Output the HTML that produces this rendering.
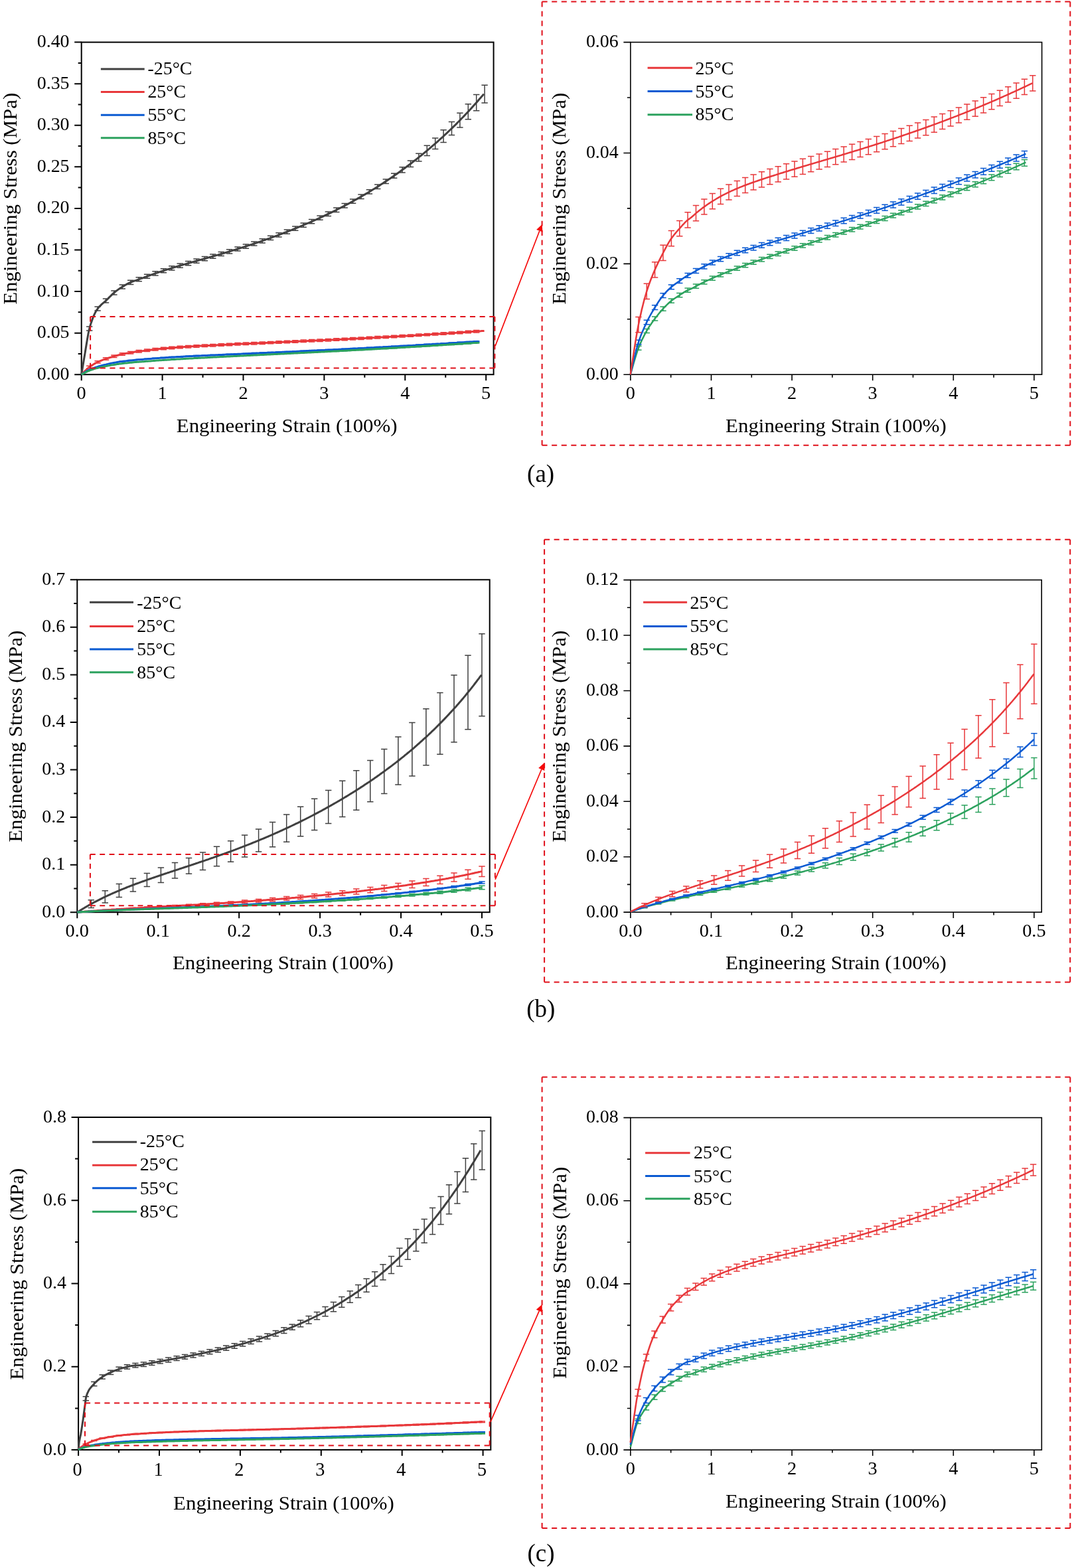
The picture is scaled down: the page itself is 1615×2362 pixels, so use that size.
<!DOCTYPE html><html><head><meta charset="utf-8"><title>Engineering stress-strain curves</title><style>html,body{margin:0;padding:0;background:#fff;width:1615px;height:2362px;overflow:hidden}</style></head><body><svg width="1615" height="2362" viewBox="0 0 1615 2362" style="display:block;font-family:'Liberation Serif','Times New Roman',serif"><rect width="1615" height="2362" fill="#fff"/><path d="M112.20,564.20H122.70M112.20,501.63H122.70M112.20,439.05H122.70M112.20,376.48H122.70M112.20,313.90H122.70M112.20,251.33H122.70M112.20,188.75H122.70M112.20,126.18H122.70M112.20,63.60H122.70M117.70,532.91H122.70M117.70,470.34H122.70M117.70,407.76H122.70M117.70,345.19H122.70M117.70,282.61H122.70M117.70,220.04H122.70M117.70,157.46H122.70M117.70,94.89H122.70M122.70,564.20V573.20M244.60,564.20V573.20M366.50,564.20V573.20M488.40,564.20V573.20M610.30,564.20V573.20M732.20,564.20V573.20M183.65,564.20V568.70M305.55,564.20V568.70M427.45,564.20V568.70M549.35,564.20V568.70M671.25,564.20V568.70" fill="none" stroke="#000" stroke-width="2.0"/>
<rect x="122.70" y="63.60" width="620.90" height="500.60" fill="none" stroke="#000" stroke-width="2.0"/>
<g><text transform="translate(104.60,571.70) scale(1.035,1)" text-anchor="end" font-size="27">0.00</text><text transform="translate(104.60,509.13) scale(1.035,1)" text-anchor="end" font-size="27">0.05</text><text transform="translate(104.60,446.55) scale(1.035,1)" text-anchor="end" font-size="27">0.10</text><text transform="translate(104.60,383.98) scale(1.035,1)" text-anchor="end" font-size="27">0.15</text><text transform="translate(104.60,321.40) scale(1.035,1)" text-anchor="end" font-size="27">0.20</text><text transform="translate(104.60,258.83) scale(1.035,1)" text-anchor="end" font-size="27">0.25</text><text transform="translate(104.60,196.25) scale(1.035,1)" text-anchor="end" font-size="27">0.30</text><text transform="translate(104.60,133.68) scale(1.035,1)" text-anchor="end" font-size="27">0.35</text><text transform="translate(104.60,71.10) scale(1.035,1)" text-anchor="end" font-size="27">0.40</text><text transform="translate(122.70,600.70) scale(1.05,1)" text-anchor="middle" font-size="27">0</text><text transform="translate(244.60,600.70) scale(1.05,1)" text-anchor="middle" font-size="27">1</text><text transform="translate(366.50,600.70) scale(1.05,1)" text-anchor="middle" font-size="27">2</text><text transform="translate(488.40,600.70) scale(1.05,1)" text-anchor="middle" font-size="27">3</text><text transform="translate(610.30,600.70) scale(1.05,1)" text-anchor="middle" font-size="27">4</text><text transform="translate(732.20,600.70) scale(1.05,1)" text-anchor="middle" font-size="27">5</text><text transform="translate(265.80,650.70) scale(1.03,1)" font-size="30">Engineering Strain (100%)</text><text transform="translate(24.90,458.80) rotate(-90) scale(1.03,1)" font-size="30">Engineering Stress (MPa)</text></g>
<path d="M939.40,564.20H949.90M939.40,397.33H949.90M939.40,230.47H949.90M939.40,63.60H949.90M944.90,480.77H949.90M944.90,313.90H949.90M944.90,147.04H949.90M949.90,564.20V573.20M1071.50,564.20V573.20M1193.10,564.20V573.20M1314.70,564.20V573.20M1436.30,564.20V573.20M1557.90,564.20V573.20M1010.70,564.20V568.70M1132.30,564.20V568.70M1253.90,564.20V568.70M1375.50,564.20V568.70M1497.10,564.20V568.70" fill="none" stroke="#000" stroke-width="1.6"/>
<rect x="949.90" y="63.60" width="619.70" height="500.60" fill="none" stroke="#000" stroke-width="1.6"/>
<g><text transform="translate(931.80,571.70) scale(1.035,1)" text-anchor="end" font-size="27">0.00</text><text transform="translate(931.80,404.83) scale(1.035,1)" text-anchor="end" font-size="27">0.02</text><text transform="translate(931.80,237.97) scale(1.035,1)" text-anchor="end" font-size="27">0.04</text><text transform="translate(931.80,71.10) scale(1.035,1)" text-anchor="end" font-size="27">0.06</text><text transform="translate(949.90,600.70) scale(1.05,1)" text-anchor="middle" font-size="27">0</text><text transform="translate(1071.50,600.70) scale(1.05,1)" text-anchor="middle" font-size="27">1</text><text transform="translate(1193.10,600.70) scale(1.05,1)" text-anchor="middle" font-size="27">2</text><text transform="translate(1314.70,600.70) scale(1.05,1)" text-anchor="middle" font-size="27">3</text><text transform="translate(1436.30,600.70) scale(1.05,1)" text-anchor="middle" font-size="27">4</text><text transform="translate(1557.90,600.70) scale(1.05,1)" text-anchor="middle" font-size="27">5</text><text transform="translate(1093.10,650.50) scale(1.03,1)" font-size="30">Engineering Strain (100%)</text><text transform="translate(851.70,458.80) rotate(-90) scale(1.03,1)" font-size="30">Engineering Stress (MPa)</text></g>
<path d="M105.80,1374.20H116.30M105.80,1302.64H116.30M105.80,1231.08H116.30M105.80,1159.52H116.30M105.80,1087.96H116.30M105.80,1016.40H116.30M105.80,944.84H116.30M105.80,873.28H116.30M111.30,1338.42H116.30M111.30,1266.86H116.30M111.30,1195.30H116.30M111.30,1123.74H116.30M111.30,1052.18H116.30M111.30,980.62H116.30M111.30,909.06H116.30M116.30,1374.20V1383.20M238.24,1374.20V1383.20M360.18,1374.20V1383.20M482.12,1374.20V1383.20M604.06,1374.20V1383.20M726.00,1374.20V1383.20M177.27,1374.20V1378.70M299.21,1374.20V1378.70M421.15,1374.20V1378.70M543.09,1374.20V1378.70M665.03,1374.20V1378.70" fill="none" stroke="#000" stroke-width="2.0"/>
<rect x="116.30" y="873.30" width="621.40" height="500.90" fill="none" stroke="#000" stroke-width="2.0"/>
<g><text transform="translate(98.20,1381.70) scale(1.035,1)" text-anchor="end" font-size="27">0.0</text><text transform="translate(98.20,1310.14) scale(1.035,1)" text-anchor="end" font-size="27">0.1</text><text transform="translate(98.20,1238.58) scale(1.035,1)" text-anchor="end" font-size="27">0.2</text><text transform="translate(98.20,1167.02) scale(1.035,1)" text-anchor="end" font-size="27">0.3</text><text transform="translate(98.20,1095.46) scale(1.035,1)" text-anchor="end" font-size="27">0.4</text><text transform="translate(98.20,1023.90) scale(1.035,1)" text-anchor="end" font-size="27">0.5</text><text transform="translate(98.20,952.34) scale(1.035,1)" text-anchor="end" font-size="27">0.6</text><text transform="translate(98.20,880.78) scale(1.035,1)" text-anchor="end" font-size="27">0.7</text><text transform="translate(116.30,1411.20) scale(1.05,1)" text-anchor="middle" font-size="27">0.0</text><text transform="translate(238.24,1411.20) scale(1.05,1)" text-anchor="middle" font-size="27">0.1</text><text transform="translate(360.18,1411.20) scale(1.05,1)" text-anchor="middle" font-size="27">0.2</text><text transform="translate(482.12,1411.20) scale(1.05,1)" text-anchor="middle" font-size="27">0.3</text><text transform="translate(604.06,1411.20) scale(1.05,1)" text-anchor="middle" font-size="27">0.4</text><text transform="translate(726.00,1411.20) scale(1.05,1)" text-anchor="middle" font-size="27">0.5</text><text transform="translate(260.00,1460.10) scale(1.03,1)" font-size="30">Engineering Strain (100%)</text><text transform="translate(33.00,1268.80) rotate(-90) scale(1.03,1)" font-size="30">Engineering Stress (MPa)</text></g>
<path d="M939.40,1374.10H949.90M939.40,1290.68H949.90M939.40,1207.27H949.90M939.40,1123.85H949.90M939.40,1040.44H949.90M939.40,957.02H949.90M939.40,873.60H949.90M944.90,1332.39H949.90M944.90,1248.98H949.90M944.90,1165.56H949.90M944.90,1082.14H949.90M944.90,998.73H949.90M944.90,915.31H949.90M949.90,1374.10V1383.10M1071.50,1374.10V1383.10M1193.10,1374.10V1383.10M1314.70,1374.10V1383.10M1436.30,1374.10V1383.10M1557.90,1374.10V1383.10M1010.70,1374.10V1378.60M1132.30,1374.10V1378.60M1253.90,1374.10V1378.60M1375.50,1374.10V1378.60M1497.10,1374.10V1378.60" fill="none" stroke="#000" stroke-width="1.6"/>
<rect x="949.90" y="873.60" width="619.30" height="500.50" fill="none" stroke="#000" stroke-width="1.6"/>
<g><text transform="translate(931.80,1381.60) scale(1.035,1)" text-anchor="end" font-size="27">0.00</text><text transform="translate(931.80,1298.18) scale(1.035,1)" text-anchor="end" font-size="27">0.02</text><text transform="translate(931.80,1214.77) scale(1.035,1)" text-anchor="end" font-size="27">0.04</text><text transform="translate(931.80,1131.35) scale(1.035,1)" text-anchor="end" font-size="27">0.06</text><text transform="translate(931.80,1047.94) scale(1.035,1)" text-anchor="end" font-size="27">0.08</text><text transform="translate(931.80,964.52) scale(1.035,1)" text-anchor="end" font-size="27">0.10</text><text transform="translate(931.80,881.10) scale(1.035,1)" text-anchor="end" font-size="27">0.12</text><text transform="translate(949.90,1411.30) scale(1.05,1)" text-anchor="middle" font-size="27">0.0</text><text transform="translate(1071.50,1411.30) scale(1.05,1)" text-anchor="middle" font-size="27">0.1</text><text transform="translate(1193.10,1411.30) scale(1.05,1)" text-anchor="middle" font-size="27">0.2</text><text transform="translate(1314.70,1411.30) scale(1.05,1)" text-anchor="middle" font-size="27">0.3</text><text transform="translate(1436.30,1411.30) scale(1.05,1)" text-anchor="middle" font-size="27">0.4</text><text transform="translate(1557.90,1411.30) scale(1.05,1)" text-anchor="middle" font-size="27">0.5</text><text transform="translate(1093.10,1460.20) scale(1.03,1)" font-size="30">Engineering Strain (100%)</text><text transform="translate(851.70,1268.80) rotate(-90) scale(1.03,1)" font-size="30">Engineering Stress (MPa)</text></g>
<path d="M107.60,2184.00H118.10M107.60,2058.75H118.10M107.60,1933.50H118.10M107.60,1808.25H118.10M107.60,1683.00H118.10M113.10,2121.38H118.10M113.10,1996.12H118.10M113.10,1870.88H118.10M113.10,1745.62H118.10M118.10,2184.00V2193.00M240.00,2184.00V2193.00M361.90,2184.00V2193.00M483.80,2184.00V2193.00M605.70,2184.00V2193.00M727.60,2184.00V2193.00M179.05,2184.00V2188.50M300.95,2184.00V2188.50M422.85,2184.00V2188.50M544.75,2184.00V2188.50M666.65,2184.00V2188.50" fill="none" stroke="#000" stroke-width="2.0"/>
<rect x="118.10" y="1683.00" width="621.20" height="501.00" fill="none" stroke="#000" stroke-width="2.0"/>
<g><text transform="translate(100.00,2191.50) scale(1.035,1)" text-anchor="end" font-size="27">0.0</text><text transform="translate(100.00,2066.25) scale(1.035,1)" text-anchor="end" font-size="27">0.2</text><text transform="translate(100.00,1941.00) scale(1.035,1)" text-anchor="end" font-size="27">0.4</text><text transform="translate(100.00,1815.75) scale(1.035,1)" text-anchor="end" font-size="27">0.6</text><text transform="translate(100.00,1690.50) scale(1.035,1)" text-anchor="end" font-size="27">0.8</text><text transform="translate(116.60,2222.60) scale(0.96,1)" text-anchor="middle" font-size="29.5">0</text><text transform="translate(238.50,2222.60) scale(0.96,1)" text-anchor="middle" font-size="29.5">1</text><text transform="translate(360.40,2222.60) scale(0.96,1)" text-anchor="middle" font-size="29.5">2</text><text transform="translate(482.30,2222.60) scale(0.96,1)" text-anchor="middle" font-size="29.5">3</text><text transform="translate(604.20,2222.60) scale(0.96,1)" text-anchor="middle" font-size="29.5">4</text><text transform="translate(726.10,2222.60) scale(0.96,1)" text-anchor="middle" font-size="29.5">5</text><text transform="translate(261.10,2273.50) scale(1.03,1)" font-size="30">Engineering Strain (100%)</text><text transform="translate(34.60,2078.80) rotate(-90) scale(1.03,1)" font-size="30">Engineering Stress (MPa)</text></g>
<path d="M939.40,2184.10H949.90M939.40,2058.97H949.90M939.40,1933.85H949.90M939.40,1808.72H949.90M939.40,1683.60H949.90M944.90,2121.54H949.90M944.90,1996.41H949.90M944.90,1871.28H949.90M944.90,1746.16H949.90M949.90,2184.10V2193.10M1071.50,2184.10V2193.10M1193.10,2184.10V2193.10M1314.70,2184.10V2193.10M1436.30,2184.10V2193.10M1557.90,2184.10V2193.10M1010.70,2184.10V2188.60M1132.30,2184.10V2188.60M1253.90,2184.10V2188.60M1375.50,2184.10V2188.60M1497.10,2184.10V2188.60" fill="none" stroke="#000" stroke-width="1.6"/>
<rect x="949.90" y="1683.60" width="619.40" height="500.50" fill="none" stroke="#000" stroke-width="1.6"/>
<g><text transform="translate(931.80,2191.60) scale(1.035,1)" text-anchor="end" font-size="27">0.00</text><text transform="translate(931.80,2066.47) scale(1.035,1)" text-anchor="end" font-size="27">0.02</text><text transform="translate(931.80,1941.35) scale(1.035,1)" text-anchor="end" font-size="27">0.04</text><text transform="translate(931.80,1816.22) scale(1.035,1)" text-anchor="end" font-size="27">0.06</text><text transform="translate(931.80,1691.10) scale(1.035,1)" text-anchor="end" font-size="27">0.08</text><text transform="translate(949.90,2220.90) scale(1.05,1)" text-anchor="middle" font-size="27">0</text><text transform="translate(1071.50,2220.90) scale(1.05,1)" text-anchor="middle" font-size="27">1</text><text transform="translate(1193.10,2220.90) scale(1.05,1)" text-anchor="middle" font-size="27">2</text><text transform="translate(1314.70,2220.90) scale(1.05,1)" text-anchor="middle" font-size="27">3</text><text transform="translate(1436.30,2220.90) scale(1.05,1)" text-anchor="middle" font-size="27">4</text><text transform="translate(1557.90,2220.90) scale(1.05,1)" text-anchor="middle" font-size="27">5</text><text transform="translate(1093.10,2270.50) scale(1.03,1)" font-size="30">Engineering Strain (100%)</text><text transform="translate(853.40,2076.90) rotate(-90) scale(1.03,1)" font-size="30">Engineering Stress (MPa)</text></g>
<line x1="151.9" y1="103.9" x2="217.7" y2="103.9" stroke="#404040" stroke-width="3"/>
<line x1="151.9" y1="138.4" x2="217.7" y2="138.4" stroke="#e8383b" stroke-width="3"/>
<line x1="151.9" y1="173.2" x2="217.7" y2="173.2" stroke="#0a5ad2" stroke-width="3"/>
<line x1="151.9" y1="207.7" x2="217.7" y2="207.7" stroke="#2ca25e" stroke-width="3"/>
<g><text transform="translate(222.40,112.20) scale(1.035,1)" font-size="27">-25°C</text><text transform="translate(222.40,146.50) scale(1.035,1)" font-size="27">25°C</text><text transform="translate(222.40,182.20) scale(1.035,1)" font-size="27">55°C</text><text transform="translate(222.40,216.80) scale(1.035,1)" font-size="27">85°C</text></g>
<line x1="135.1" y1="907.2" x2="201.0" y2="907.2" stroke="#404040" stroke-width="3"/>
<line x1="135.1" y1="943.4" x2="201.0" y2="943.4" stroke="#e8383b" stroke-width="3"/>
<line x1="135.1" y1="977.9" x2="201.0" y2="977.9" stroke="#0a5ad2" stroke-width="3"/>
<line x1="135.1" y1="1012.7" x2="201.0" y2="1012.7" stroke="#2ca25e" stroke-width="3"/>
<g><text transform="translate(206.30,917.30) scale(1.035,1)" font-size="27">-25°C</text><text transform="translate(206.30,951.70) scale(1.035,1)" font-size="27">25°C</text><text transform="translate(206.30,987.30) scale(1.035,1)" font-size="27">55°C</text><text transform="translate(206.30,1022.00) scale(1.035,1)" font-size="27">85°C</text></g>
<line x1="139.1" y1="1720.2" x2="206.1" y2="1720.2" stroke="#404040" stroke-width="3"/>
<line x1="139.1" y1="1755.2" x2="206.1" y2="1755.2" stroke="#e8383b" stroke-width="3"/>
<line x1="139.1" y1="1789.7" x2="206.1" y2="1789.7" stroke="#0a5ad2" stroke-width="3"/>
<line x1="139.1" y1="1825.2" x2="206.1" y2="1825.2" stroke="#2ca25e" stroke-width="3"/>
<g><text transform="translate(210.80,1728.20) scale(1.035,1)" font-size="27">-25°C</text><text transform="translate(210.80,1763.00) scale(1.035,1)" font-size="27">25°C</text><text transform="translate(210.80,1798.70) scale(1.035,1)" font-size="27">55°C</text><text transform="translate(210.80,1833.50) scale(1.035,1)" font-size="27">85°C</text></g>
<line x1="975.6" y1="102.2" x2="1043.1" y2="102.2" stroke="#e8383b" stroke-width="3.0"/>
<line x1="975.6" y1="137.6" x2="1043.1" y2="137.6" stroke="#0a5ad2" stroke-width="3.0"/>
<line x1="975.6" y1="172.8" x2="1043.1" y2="172.8" stroke="#2ca25e" stroke-width="3.0"/>
<g><text transform="translate(1047.60,112.20) scale(1.035,1)" font-size="27">25°C</text><text transform="translate(1047.60,146.50) scale(1.035,1)" font-size="27">55°C</text><text transform="translate(1047.60,180.70) scale(1.035,1)" font-size="27">85°C</text></g>
<line x1="969.1" y1="907.2" x2="1035.1" y2="907.2" stroke="#e8383b" stroke-width="3.0"/>
<line x1="969.1" y1="943.4" x2="1035.1" y2="943.4" stroke="#0a5ad2" stroke-width="3.0"/>
<line x1="969.1" y1="977.9" x2="1035.1" y2="977.9" stroke="#2ca25e" stroke-width="3.0"/>
<g><text transform="translate(1039.60,917.30) scale(1.035,1)" font-size="27">25°C</text><text transform="translate(1039.60,951.70) scale(1.035,1)" font-size="27">55°C</text><text transform="translate(1039.60,987.30) scale(1.035,1)" font-size="27">85°C</text></g>
<line x1="972.1" y1="1736.7" x2="1039.6" y2="1736.7" stroke="#e8383b" stroke-width="3.0"/>
<line x1="972.1" y1="1771.4" x2="1039.6" y2="1771.4" stroke="#0a5ad2" stroke-width="3.0"/>
<line x1="972.1" y1="1805.7" x2="1039.6" y2="1805.7" stroke="#2ca25e" stroke-width="3.0"/>
<g><text transform="translate(1045.10,1744.70) scale(1.035,1)" font-size="27">25°C</text><text transform="translate(1045.10,1780.50) scale(1.035,1)" font-size="27">55°C</text><text transform="translate(1045.10,1815.20) scale(1.035,1)" font-size="27">85°C</text></g>
<path d="M122.7,564.2 124.5,553.3 126.3,542.3 128.1,531.7 129.8,521.2 131.6,510.6 133.3,501.0 135.1,493.5 136.9,487.4 138.8,481.9 140.6,477.1 142.5,472.9 144.3,469.3 146.2,466.3 148.0,463.9 149.7,461.9 151.5,460.1 153.2,458.4 155.0,456.9 156.8,455.4 158.5,453.9 160.3,452.2 162.3,450.2 164.3,448.1 166.4,446.1 168.4,444.1 170.4,442.2 172.4,440.5 174.4,438.9 176.4,437.4 178.4,435.9 180.4,434.6 182.4,433.3 184.4,432.0 186.3,430.9 188.1,429.8 190.0,428.7 191.9,427.7 193.8,426.7 195.6,425.8 197.5,425.0 199.4,424.2 201.2,423.5 203.1,422.9 204.9,422.3 206.8,421.6 208.6,421.0 210.4,420.4 212.3,419.7 214.1,419.1 216.2,418.3 218.2,417.5 220.2,416.8 222.3,416.0 224.3,415.3 226.3,414.5 228.3,413.8 230.4,413.1 232.4,412.4 234.4,411.7 236.5,411.0 238.5,410.3 240.5,409.6 242.6,409.0 244.6,408.3 246.6,407.6 248.7,407.0 250.7,406.4 252.7,405.7 254.8,405.1 256.8,404.5 258.8,403.8 260.9,403.2 262.9,402.6 264.9,402.0 266.9,401.4 269.0,400.8 271.0,400.2 273.0,399.6 275.1,399.0 277.1,398.4 279.1,397.9 281.2,397.3 283.2,396.7 285.2,396.1 287.3,395.5 289.3,395.0 291.3,394.4 293.4,393.8 295.4,393.3 297.4,392.7 299.5,392.1 301.5,391.5 303.5,391.0 305.6,390.4 307.6,389.8 309.6,389.3 311.6,388.7 313.7,388.1 315.7,387.5 317.7,387.0 319.8,386.4 321.8,385.8 323.8,385.2 325.9,384.6 327.9,384.1 329.9,383.5 332.0,382.9 334.0,382.3 336.0,381.7 338.1,381.1 340.1,380.5 342.1,379.9 344.2,379.3 346.2,378.6 348.2,378.0 350.2,377.4 352.3,376.8 354.3,376.2 356.3,375.5 358.4,374.9 360.4,374.3 362.4,373.6 364.5,373.0 366.5,372.3 368.5,371.7 370.6,371.0 372.6,370.4 374.6,369.7 376.7,369.0 378.7,368.4 380.7,367.7 382.8,367.0 384.8,366.3 386.8,365.7 388.8,365.0 390.9,364.3 392.9,363.6 394.9,362.9 397.0,362.2 399.0,361.5 401.0,360.7 403.1,360.0 405.1,359.3 407.1,358.6 409.2,357.8 411.2,357.1 413.2,356.4 415.3,355.6 417.3,354.9 419.3,354.1 421.4,353.3 423.4,352.6 425.4,351.8 427.5,351.0 429.5,350.2 431.5,349.5 433.5,348.7 435.6,347.9 437.6,347.1 439.6,346.3 441.7,345.4 443.7,344.6 445.7,343.8 447.8,343.0 449.8,342.1 451.8,341.3 453.9,340.5 455.9,339.6 457.9,338.7 460.0,337.9 462.0,337.0 464.0,336.1 466.1,335.3 468.1,334.4 470.1,333.5 472.1,332.6 474.2,331.7 476.2,330.8 478.2,329.8 480.3,328.9 482.3,328.0 484.3,327.0 486.4,326.1 488.4,325.1 490.4,324.2 492.5,323.2 494.5,322.2 496.5,321.3 498.6,320.3 500.6,319.3 502.6,318.3 504.7,317.3 506.7,316.3 508.7,315.2 510.7,314.2 512.8,313.2 514.8,312.1 516.8,311.1 518.9,310.0 520.9,308.9 522.9,307.9 525.0,306.8 527.0,305.7 529.0,304.6 531.1,303.5 533.1,302.4 535.1,301.2 537.2,300.1 539.2,298.9 541.2,297.8 543.3,296.6 545.3,295.5 547.3,294.3 549.4,293.1 551.4,291.9 553.4,290.7 555.4,289.5 557.5,288.3 559.5,287.0 561.5,285.8 563.6,284.5 565.6,283.3 567.6,282.0 569.7,280.7 571.7,279.4 573.7,278.1 575.8,276.8 577.8,275.5 579.8,274.1 581.9,272.8 583.9,271.4 585.9,270.1 588.0,268.7 590.0,267.3 592.0,265.9 594.0,264.5 596.1,263.1 598.1,261.7 600.1,260.2 602.2,258.8 604.2,257.3 606.2,255.8 608.3,254.3 610.3,252.9 612.3,251.3 614.4,249.8 616.4,248.3 618.4,246.7 620.5,245.2 622.5,243.6 624.5,242.0 626.6,240.5 628.6,238.9 630.6,237.2 632.6,235.6 634.7,234.0 636.7,232.3 638.7,230.7 640.8,229.0 642.8,227.3 644.8,225.6 646.9,223.9 648.9,222.1 650.9,220.4 653.0,218.6 655.0,216.9 657.0,215.1 659.1,213.3 661.1,211.5 663.1,209.7 665.2,207.8 667.2,206.0 669.2,204.1 671.3,202.2 673.3,200.3 675.3,198.4 677.3,196.5 679.4,194.5 681.4,192.6 683.4,190.6 685.5,188.6 687.5,186.6 689.5,184.5 691.6,182.5 693.6,180.4 695.6,178.3 697.7,176.2 699.7,174.1 701.7,172.0 703.8,169.8 705.8,167.7 707.8,165.5 709.9,163.3 711.9,161.0 713.9,158.8 715.9,156.5 718.0,154.2 720.0,151.9 722.0,149.6 724.1,147.3 726.1,144.9 727.5,143.3 728.9,141.6" fill="none" stroke="#404040" stroke-width="3.0" stroke-linejoin="round"/>
<path d="M134.7,492.1V498.1M130.0,492.1h9.4M130.0,498.1h9.4M147.1,462.0V468.1M142.4,462.0h9.4M142.4,468.1h9.4M159.5,449.9V455.9M154.8,449.9h9.4M154.8,455.9h9.4M171.9,437.9V443.9M167.2,437.9h9.4M167.2,443.9h9.4M184.3,429.0V435.1M179.6,429.0h9.4M179.6,435.1h9.4M196.7,422.3V428.4M192.0,422.3h9.4M192.0,428.4h9.4M209.2,417.8V423.8M204.5,417.8h9.4M204.5,423.8h9.4M221.6,413.2V419.3M216.9,413.2h9.4M216.9,419.3h9.4M234.0,408.8V414.9M229.3,408.8h9.4M229.3,414.9h9.4M246.4,404.7V410.8M241.7,404.7h9.4M241.7,410.8h9.4M258.8,400.8V406.9M254.1,400.8h9.4M254.1,406.9h9.4M271.2,397.1V403.2M266.5,397.1h9.4M266.5,403.2h9.4M283.6,393.5V399.7M278.9,393.5h9.4M278.9,399.7h9.4M296.0,390.0V396.2M291.3,390.0h9.4M291.3,396.2h9.4M308.4,386.5V392.7M303.7,386.5h9.4M303.7,392.7h9.4M320.8,383.0V389.2M316.1,383.0h9.4M316.1,389.2h9.4M333.2,379.4V385.6M328.5,379.4h9.4M328.5,385.6h9.4M345.6,375.7V381.9M340.9,375.7h9.4M340.9,381.9h9.4M358.0,371.9V378.1M353.3,371.9h9.4M353.3,378.1h9.4M370.4,368.0V374.2M365.7,368.0h9.4M365.7,374.2h9.4M382.8,363.9V370.1M378.1,363.9h9.4M378.1,370.1h9.4M395.2,359.7V365.9M390.5,359.7h9.4M390.5,365.9h9.4M407.6,355.3V361.5M402.9,355.3h9.4M402.9,361.5h9.4M420.0,350.7V357.0M415.3,350.7h9.4M415.3,357.0h9.4M432.4,346.0V352.2M427.7,346.0h9.4M427.7,352.2h9.4M444.8,341.0V347.3M440.1,341.0h9.4M440.1,347.3h9.4M457.2,335.9V342.2M452.5,335.9h9.4M452.5,342.2h9.4M469.6,330.5V336.8M464.9,330.5h9.4M464.9,336.8h9.4M482.0,324.9V331.3M477.3,324.9h9.4M477.3,331.3h9.4M494.4,319.1V325.4M489.7,319.1h9.4M489.7,325.4h9.4M506.8,313.0V319.4M502.1,313.0h9.4M502.1,319.4h9.4M519.2,306.6V313.0M514.5,306.6h9.4M514.5,313.0h9.4M531.6,300.0V306.3M526.9,300.0h9.4M526.9,306.3h9.4M544.0,293.0V299.4M539.3,293.0h9.4M539.3,299.4h9.4M556.4,285.7V292.1M551.7,285.7h9.4M551.7,292.1h9.4M568.8,278.0V284.4M564.1,278.0h9.4M564.1,284.4h9.4M581.3,270.0V276.4M576.6,270.0h9.4M576.6,276.4h9.4M593.7,261.2V268.3M589.0,261.2h9.4M589.0,268.3h9.4M606.1,251.8V260.1M601.4,251.8h9.4M601.4,260.1h9.4M618.5,241.9V251.5M613.8,241.9h9.4M613.8,251.5h9.4M630.9,231.2V242.9M626.2,231.2h9.4M626.2,242.9h9.4M643.3,219.2V234.6M638.6,219.2h9.4M638.6,234.6h9.4M655.7,208.1V224.5M651.0,208.1h9.4M651.0,224.5h9.4M668.1,195.8V214.5M663.4,195.8h9.4M663.4,214.5h9.4M680.5,183.5V203.4M675.8,183.5h9.4M675.8,203.4h9.4M692.9,170.3V192.0M688.2,170.3h9.4M688.2,192.0h9.4M705.3,156.7V179.7M700.6,156.7h9.4M700.6,179.7h9.4M717.7,142.4V166.7M713.0,142.4h9.4M713.0,166.7h9.4M730.1,128.3V154.9M725.4,128.3h9.4M725.4,154.9h9.4" fill="none" stroke="#404040" stroke-width="1.5"/>
<path d="M122.5,564.2 124.5,562.3 126.5,560.3 128.5,558.4 130.5,556.5 132.5,554.7 134.5,553.1 136.3,551.8 138.0,550.6 139.8,549.5 141.5,548.4 143.3,547.4 145.0,546.5 146.8,545.6 148.5,544.8 150.3,544.0 152.0,543.3 153.8,542.6 155.6,541.9 157.3,541.3 159.1,540.7 161.1,540.0 163.1,539.3 165.2,538.7 167.2,538.1 169.2,537.5 171.2,536.9 173.2,536.3 175.2,535.8 177.2,535.2 179.2,534.7 181.2,534.2 183.2,533.7 185.1,533.3 186.9,532.9 188.7,532.6 190.5,532.3 192.3,532.0 194.1,531.7 195.9,531.3 197.7,531.0 199.5,530.7 201.3,530.4 203.2,530.1 205.0,529.8 206.8,529.6 208.6,529.3 210.4,529.1 212.3,528.9 214.1,528.7 216.2,528.5 218.2,528.2 220.2,527.9 222.3,527.7 224.3,527.4 226.3,527.2 228.3,526.9 230.4,526.7 232.4,526.5 234.4,526.2 236.5,526.0 238.5,525.8 240.5,525.6 242.6,525.4 244.6,525.2 246.6,525.0 248.7,524.8 250.7,524.6 252.7,524.5 254.8,524.3 256.8,524.1 258.8,523.9 260.9,523.8 262.9,523.6 264.9,523.5 266.9,523.3 269.0,523.2 271.0,523.0 273.0,522.9 275.1,522.7 277.1,522.6 279.1,522.4 281.2,522.3 283.2,522.2 285.2,522.1 287.3,521.9 289.3,521.8 291.3,521.7 293.4,521.6 295.4,521.5 297.4,521.3 299.5,521.2 301.5,521.1 303.5,521.0 305.6,520.9 307.6,520.8 309.6,520.7 311.6,520.6 313.7,520.5 315.7,520.4 317.7,520.3 319.8,520.2 321.8,520.1 323.8,520.0 325.9,519.9 327.9,519.8 329.9,519.7 332.0,519.6 334.0,519.5 336.0,519.4 338.1,519.3 340.1,519.2 342.1,519.1 344.2,519.0 346.2,518.9 348.2,518.8 350.2,518.7 352.3,518.6 354.3,518.5 356.3,518.4 358.4,518.3 360.4,518.2 362.4,518.1 364.5,518.0 366.5,517.9 368.5,517.8 370.6,517.8 372.6,517.7 374.6,517.6 376.7,517.5 378.7,517.4 380.7,517.3 382.8,517.2 384.8,517.1 386.8,517.0 388.8,516.9 390.9,516.8 392.9,516.8 394.9,516.7 397.0,516.6 399.0,516.5 401.0,516.4 403.1,516.3 405.1,516.2 407.1,516.1 409.2,516.0 411.2,515.9 413.2,515.9 415.3,515.8 417.3,515.7 419.3,515.6 421.4,515.5 423.4,515.4 425.4,515.3 427.5,515.2 429.5,515.1 431.5,515.0 433.5,515.0 435.6,514.9 437.6,514.8 439.6,514.7 441.7,514.6 443.7,514.5 445.7,514.4 447.8,514.3 449.8,514.2 451.8,514.1 453.9,514.0 455.9,513.9 457.9,513.9 460.0,513.8 462.0,513.7 464.0,513.6 466.1,513.5 468.1,513.4 470.1,513.3 472.1,513.2 474.2,513.1 476.2,513.0 478.2,512.9 480.3,512.8 482.3,512.7 484.3,512.6 486.4,512.5 488.4,512.4 490.4,512.3 492.5,512.2 494.5,512.1 496.5,512.0 498.6,512.0 500.6,511.9 502.6,511.8 504.7,511.7 506.7,511.6 508.7,511.5 510.7,511.4 512.8,511.3 514.8,511.2 516.8,511.1 518.9,511.0 520.9,510.9 522.9,510.8 525.0,510.7 527.0,510.6 529.0,510.5 531.1,510.3 533.1,510.2 535.1,510.1 537.2,510.0 539.2,509.9 541.2,509.8 543.3,509.7 545.3,509.6 547.3,509.5 549.4,509.4 551.4,509.3 553.4,509.2 555.4,509.1 557.5,509.0 559.5,508.9 561.5,508.8 563.6,508.7 565.6,508.6 567.6,508.4 569.7,508.3 571.7,508.2 573.7,508.1 575.8,508.0 577.8,507.9 579.8,507.8 581.9,507.7 583.9,507.6 585.9,507.4 588.0,507.3 590.0,507.2 592.0,507.1 594.0,507.0 596.1,506.9 598.1,506.8 600.1,506.7 602.2,506.5 604.2,506.4 606.2,506.3 608.3,506.2 610.3,506.1 612.3,506.0 614.4,505.8 616.4,505.7 618.4,505.6 620.5,505.5 622.5,505.4 624.5,505.2 626.6,505.1 628.6,505.0 630.6,504.9 632.6,504.8 634.7,504.6 636.7,504.5 638.7,504.4 640.8,504.3 642.8,504.1 644.8,504.0 646.9,503.9 648.9,503.8 650.9,503.6 653.0,503.5 655.0,503.4 657.0,503.3 659.1,503.1 661.1,503.0 663.1,502.9 665.2,502.7 667.2,502.6 669.2,502.5 671.3,502.3 673.3,502.2 675.3,502.1 677.3,501.9 679.4,501.8 681.4,501.7 683.4,501.5 685.5,501.4 687.5,501.3 689.5,501.1 691.6,501.0 693.6,500.9 695.6,500.7 697.7,500.6 699.7,500.5 701.7,500.3 703.8,500.2 705.8,500.0 707.8,499.9 709.9,499.8 711.9,499.6 713.9,499.5 715.9,499.3 718.0,499.2 720.0,499.0 722.0,498.9 724.1,498.8 726.1,498.6 727.8,498.5 729.6,498.4" fill="none" stroke="#e8383b" stroke-width="3.0" stroke-linejoin="round"/>
<path d="M134.7,551.2V554.7M130.0,551.2h9.4M130.0,554.7h9.4M147.1,543.7V547.1M142.4,543.7h9.4M142.4,547.1h9.4M159.5,538.8V542.3M154.8,538.8h9.4M154.8,542.3h9.4M171.9,535.0V538.4M167.2,535.0h9.4M167.2,538.4h9.4M184.3,531.7V535.2M179.6,531.7h9.4M179.6,535.2h9.4M196.7,529.5V532.9M192.0,529.5h9.4M192.0,532.9h9.4M209.2,527.5V531.0M204.5,527.5h9.4M204.5,531.0h9.4M221.6,526.0V529.5M216.9,526.0h9.4M216.9,529.5h9.4M234.0,524.6V528.0M229.3,524.6h9.4M229.3,528.0h9.4M246.4,523.3V526.8M241.7,523.3h9.4M241.7,526.8h9.4M258.8,522.2V525.7M254.1,522.2h9.4M254.1,525.7h9.4M271.2,521.3V524.7M266.5,521.3h9.4M266.5,524.7h9.4M283.6,520.4V523.9M278.9,520.4h9.4M278.9,523.9h9.4M296.0,519.7V523.2M291.3,519.7h9.4M291.3,523.2h9.4M308.4,519.0V522.5M303.7,519.0h9.4M303.7,522.5h9.4M320.8,518.4V521.9M316.1,518.4h9.4M316.1,521.9h9.4M333.2,517.8V521.2M328.5,517.8h9.4M328.5,521.2h9.4M345.6,517.2V520.7M340.9,517.2h9.4M340.9,520.7h9.4M358.0,516.6V520.1M353.3,516.6h9.4M353.3,520.1h9.4M370.4,516.0V519.5M365.7,516.0h9.4M365.7,519.5h9.4M382.8,515.5V518.9M378.1,515.5h9.4M378.1,518.9h9.4M395.2,514.9V518.4M390.5,514.9h9.4M390.5,518.4h9.4M407.6,514.4V517.8M402.9,514.4h9.4M402.9,517.8h9.4M420.0,513.8V517.3M415.3,513.8h9.4M415.3,517.3h9.4M432.4,513.3V516.7M427.7,513.3h9.4M427.7,516.7h9.4M444.8,512.7V516.2M440.1,512.7h9.4M440.1,516.2h9.4M457.2,512.1V515.6M452.5,512.1h9.4M452.5,515.6h9.4M469.6,511.6V515.1M464.9,511.6h9.4M464.9,515.1h9.4M482.0,511.0V514.5M477.3,511.0h9.4M477.3,514.5h9.4M494.4,510.4V513.9M489.7,510.4h9.4M489.7,513.9h9.4M506.8,509.8V513.3M502.1,509.8h9.4M502.1,513.3h9.4M519.2,509.2V512.7M514.5,509.2h9.4M514.5,512.7h9.4M531.6,508.6V512.1M526.9,508.6h9.4M526.9,512.1h9.4M544.0,507.9V511.4M539.3,507.9h9.4M539.3,511.4h9.4M556.4,507.3V510.8M551.7,507.3h9.4M551.7,510.8h9.4M568.8,506.6V510.1M564.1,506.6h9.4M564.1,510.1h9.4M581.3,506.0V509.4M576.6,506.0h9.4M576.6,509.4h9.4M593.7,505.3V508.8M589.0,505.3h9.4M589.0,508.8h9.4M606.1,504.6V508.1M601.4,504.6h9.4M601.4,508.1h9.4M618.5,503.9V507.3M613.8,503.9h9.4M613.8,507.3h9.4M630.9,503.1V506.6M626.2,503.1h9.4M626.2,506.6h9.4M643.3,502.4V505.8M638.6,502.4h9.4M638.6,505.8h9.4M655.7,501.6V505.1M651.0,501.6h9.4M651.0,505.1h9.4M668.1,500.8V504.3M663.4,500.8h9.4M663.4,504.3h9.4M680.5,500.0V503.5M675.8,500.0h9.4M675.8,503.5h9.4M692.9,499.2V502.7M688.2,499.2h9.4M688.2,502.7h9.4M705.3,498.3V501.8M700.6,498.3h9.4M700.6,501.8h9.4M717.7,497.5V500.9M713.0,497.5h9.4M713.0,500.9h9.4" fill="none" stroke="#e8383b" stroke-width="1.5"/>
<path d="M122.5,564.2 124.2,563.1 125.9,562.0 127.7,560.9 129.4,559.8 131.1,558.8 132.8,557.8 134.5,557.0 136.2,556.2 138.0,555.5 139.7,554.9 141.4,554.3 143.1,553.7 144.8,553.1 146.6,552.6 148.4,552.0 150.2,551.5 152.0,551.0 153.8,550.5 155.7,550.0 157.5,549.5 159.3,549.1 161.3,548.6 163.3,548.1 165.3,547.7 167.2,547.3 169.2,546.9 171.2,546.5 172.9,546.2 174.7,545.9 176.4,545.6 178.1,545.3 179.8,545.0 181.5,544.8 183.2,544.6 185.1,544.3 186.9,544.1 188.7,543.9 190.5,543.7 192.3,543.5 194.2,543.3 196.0,543.1 197.8,542.9 199.6,542.7 201.5,542.5 203.3,542.3 205.1,542.2 207.0,542.0 208.8,541.8 210.6,541.7 212.4,541.5 214.1,541.4 216.2,541.2 218.2,541.1 220.2,540.9 222.3,540.7 224.3,540.5 226.3,540.4 228.3,540.2 230.4,540.0 232.4,539.9 234.4,539.7 236.5,539.6 238.5,539.4 240.5,539.3 242.6,539.1 244.6,539.0 246.6,538.9 248.7,538.7 250.7,538.6 252.7,538.5 254.8,538.3 256.8,538.2 258.8,538.1 260.9,538.0 262.9,537.9 264.9,537.7 266.9,537.6 269.0,537.5 271.0,537.4 273.0,537.3 275.1,537.2 277.1,537.1 279.1,537.0 281.2,536.8 283.2,536.7 285.2,536.6 287.3,536.5 289.3,536.4 291.3,536.3 293.4,536.2 295.4,536.1 297.4,536.0 299.5,536.0 301.5,535.9 303.5,535.8 305.6,535.7 307.6,535.6 309.6,535.5 311.6,535.4 313.7,535.3 315.7,535.2 317.7,535.1 319.8,535.0 321.8,534.9 323.8,534.9 325.9,534.8 327.9,534.7 329.9,534.6 332.0,534.5 334.0,534.4 336.0,534.3 338.1,534.2 340.1,534.1 342.1,534.0 344.2,534.0 346.2,533.9 348.2,533.8 350.2,533.7 352.3,533.6 354.3,533.5 356.3,533.4 358.4,533.3 360.4,533.2 362.4,533.2 364.5,533.1 366.5,533.0 368.5,532.9 370.6,532.8 372.6,532.7 374.6,532.6 376.7,532.5 378.7,532.4 380.7,532.3 382.8,532.3 384.8,532.2 386.8,532.1 388.8,532.0 390.9,531.9 392.9,531.8 394.9,531.7 397.0,531.6 399.0,531.5 401.0,531.4 403.1,531.3 405.1,531.3 407.1,531.2 409.2,531.1 411.2,531.0 413.2,530.9 415.3,530.8 417.3,530.7 419.3,530.6 421.4,530.5 423.4,530.4 425.4,530.3 427.5,530.2 429.5,530.2 431.5,530.1 433.5,530.0 435.6,529.9 437.6,529.8 439.6,529.7 441.7,529.6 443.7,529.5 445.7,529.4 447.8,529.3 449.8,529.2 451.8,529.1 453.9,529.0 455.9,528.9 457.9,528.8 460.0,528.7 462.0,528.6 464.0,528.6 466.1,528.5 468.1,528.4 470.1,528.3 472.1,528.2 474.2,528.1 476.2,528.0 478.2,527.9 480.3,527.8 482.3,527.7 484.3,527.6 486.4,527.5 488.4,527.4 490.4,527.3 492.5,527.2 494.5,527.1 496.5,527.0 498.6,526.9 500.6,526.8 502.6,526.7 504.7,526.6 506.7,526.5 508.7,526.4 510.7,526.3 512.8,526.2 514.8,526.1 516.8,526.0 518.9,525.9 520.9,525.8 522.9,525.7 525.0,525.6 527.0,525.5 529.0,525.4 531.1,525.2 533.1,525.1 535.1,525.0 537.2,524.9 539.2,524.8 541.2,524.7 543.3,524.6 545.3,524.5 547.3,524.4 549.4,524.3 551.4,524.2 553.4,524.1 555.4,524.0 557.5,523.9 559.5,523.8 561.5,523.7 563.6,523.5 565.6,523.4 567.6,523.3 569.7,523.2 571.7,523.1 573.7,523.0 575.8,522.9 577.8,522.8 579.8,522.7 581.9,522.6 583.9,522.4 585.9,522.3 588.0,522.2 590.0,522.1 592.0,522.0 594.0,521.9 596.1,521.8 598.1,521.7 600.1,521.5 602.2,521.4 604.2,521.3 606.2,521.2 608.3,521.1 610.3,521.0 612.3,520.8 614.4,520.7 616.4,520.6 618.4,520.5 620.5,520.4 622.5,520.3 624.5,520.2 626.6,520.0 628.6,519.9 630.6,519.8 632.6,519.7 634.7,519.6 636.7,519.4 638.7,519.3 640.8,519.2 642.8,519.1 644.8,519.0 646.9,518.8 648.9,518.7 650.9,518.6 653.0,518.5 655.0,518.4 657.0,518.2 659.1,518.1 661.1,518.0 663.1,517.9 665.2,517.7 667.2,517.6 669.2,517.5 671.3,517.4 673.3,517.2 675.3,517.1 677.3,517.0 679.4,516.9 681.4,516.7 683.4,516.6 685.5,516.5 687.5,516.4 689.5,516.2 691.6,516.1 693.6,516.0 695.6,515.9 697.7,515.7 699.7,515.6 701.7,515.5 703.8,515.3 705.8,515.2 707.8,515.1 709.9,515.0 711.9,514.8 713.9,514.7 715.8,514.6 717.8,514.5 719.7,514.3" fill="none" stroke="#0a5ad2" stroke-width="3.0" stroke-linejoin="round"/>
<path d="M184.3,543.9V544.9M179.6,543.9h9.4M179.6,544.9h9.4M196.7,542.5V543.6M192.0,542.5h9.4M192.0,543.6h9.4M209.2,541.3V542.3M204.5,541.3h9.4M204.5,542.3h9.4M221.6,540.2V541.3M216.9,540.2h9.4M216.9,541.3h9.4M234.0,539.2V540.3M229.3,539.2h9.4M229.3,540.3h9.4M246.4,538.4V539.4M241.7,538.4h9.4M241.7,539.4h9.4M258.8,537.6V538.6M254.1,537.6h9.4M254.1,538.6h9.4M271.2,536.8V537.9M266.5,536.8h9.4M266.5,537.9h9.4M283.6,536.2V537.3M278.9,536.2h9.4M278.9,537.3h9.4M296.0,535.6V536.7M291.3,535.6h9.4M291.3,536.7h9.4M308.4,535.0V536.1M303.7,535.0h9.4M303.7,536.1h9.4M320.8,534.4V535.6M316.1,534.4h9.4M316.1,535.6h9.4M333.2,533.9V535.0M328.5,533.9h9.4M328.5,535.0h9.4M345.6,533.3V534.5M340.9,533.3h9.4M340.9,534.5h9.4M358.0,532.8V533.9M353.3,532.8h9.4M353.3,533.9h9.4M370.4,532.2V533.4M365.7,532.2h9.4M365.7,533.4h9.4M382.8,531.6V532.9M378.1,531.6h9.4M378.1,532.9h9.4M395.2,531.1V532.3M390.5,531.1h9.4M390.5,532.3h9.4M407.6,530.5V531.8M402.9,530.5h9.4M402.9,531.8h9.4M420.0,530.0V531.2M415.3,530.0h9.4M415.3,531.2h9.4M432.4,529.4V530.7M427.7,529.4h9.4M427.7,530.7h9.4M444.8,528.8V530.1M440.1,528.8h9.4M440.1,530.1h9.4M457.2,528.2V529.5M452.5,528.2h9.4M452.5,529.5h9.4M469.6,527.6V528.9M464.9,527.6h9.4M464.9,528.9h9.4M482.0,527.0V528.3M477.3,527.0h9.4M477.3,528.3h9.4M494.4,526.4V527.8M489.7,526.4h9.4M489.7,527.8h9.4M506.8,525.8V527.1M502.1,525.8h9.4M502.1,527.1h9.4M519.2,525.2V526.5M514.5,525.2h9.4M514.5,526.5h9.4M531.6,524.5V525.9M526.9,524.5h9.4M526.9,525.9h9.4M544.0,523.9V525.3M539.3,523.9h9.4M539.3,525.3h9.4M556.4,523.2V524.6M551.7,523.2h9.4M551.7,524.6h9.4M568.8,522.6V524.0M564.1,522.6h9.4M564.1,524.0h9.4M581.3,521.9V523.3M576.6,521.9h9.4M576.6,523.3h9.4M593.7,521.2V522.6M589.0,521.2h9.4M589.0,522.6h9.4M606.1,520.5V521.9M601.4,520.5h9.4M601.4,521.9h9.4M618.5,519.8V521.2M613.8,519.8h9.4M613.8,521.2h9.4M630.9,519.1V520.5M626.2,519.1h9.4M626.2,520.5h9.4M643.3,518.3V519.8M638.6,518.3h9.4M638.6,519.8h9.4M655.7,517.6V519.1M651.0,517.6h9.4M651.0,519.1h9.4M668.1,516.8V518.3M663.4,516.8h9.4M663.4,518.3h9.4M680.5,516.1V517.5M675.8,516.1h9.4M675.8,517.5h9.4M692.9,515.3V516.8M688.2,515.3h9.4M688.2,516.8h9.4M705.3,514.5V516.0M700.6,514.5h9.4M700.6,516.0h9.4M717.7,513.7V515.2M713.0,513.7h9.4M713.0,515.2h9.4" fill="none" stroke="#0a5ad2" stroke-width="1.5"/>
<path d="M122.5,564.2 124.2,563.3 125.9,562.4 127.7,561.5 129.4,560.6 131.1,559.8 132.8,559.0 134.5,558.3 136.2,557.6 138.0,557.0 139.7,556.5 141.4,555.9 143.1,555.4 144.8,554.9 146.6,554.5 148.4,554.0 150.2,553.6 152.0,553.2 153.8,552.7 155.7,552.4 157.5,552.0 159.3,551.6 161.3,551.2 163.3,550.8 165.3,550.5 167.2,550.1 169.2,549.8 171.2,549.5 172.9,549.2 174.7,548.9 176.4,548.6 178.1,548.4 179.8,548.1 181.5,547.9 183.2,547.7 185.1,547.5 186.9,547.3 188.7,547.1 190.5,546.9 192.3,546.7 194.2,546.5 196.0,546.3 197.8,546.2 199.6,546.0 201.5,545.8 203.3,545.6 205.1,545.5 207.0,545.3 208.8,545.2 210.6,545.1 212.4,545.0 214.1,544.8 216.2,544.7 218.2,544.5 220.2,544.3 222.3,544.2 224.3,544.0 226.3,543.9 228.3,543.7 230.4,543.6 232.4,543.4 234.4,543.3 236.5,543.1 238.5,543.0 240.5,542.8 242.6,542.7 244.6,542.6 246.6,542.4 248.7,542.3 250.7,542.2 252.7,542.0 254.8,541.9 256.8,541.8 258.8,541.6 260.9,541.5 262.9,541.4 264.9,541.3 266.9,541.1 269.0,541.0 271.0,540.9 273.0,540.8 275.1,540.7 277.1,540.5 279.1,540.4 281.2,540.3 283.2,540.2 285.2,540.1 287.3,540.0 289.3,539.9 291.3,539.8 293.4,539.6 295.4,539.5 297.4,539.4 299.5,539.3 301.5,539.2 303.5,539.1 305.6,539.0 307.6,538.9 309.6,538.8 311.6,538.7 313.7,538.5 315.7,538.4 317.7,538.3 319.8,538.2 321.8,538.1 323.8,538.0 325.9,537.9 327.9,537.8 329.9,537.7 332.0,537.6 334.0,537.5 336.0,537.4 338.1,537.3 340.1,537.2 342.1,537.1 344.2,537.0 346.2,536.9 348.2,536.8 350.2,536.7 352.3,536.6 354.3,536.5 356.3,536.4 358.4,536.3 360.4,536.2 362.4,536.1 364.5,536.0 366.5,535.9 368.5,535.8 370.6,535.7 372.6,535.6 374.6,535.5 376.7,535.4 378.7,535.3 380.7,535.2 382.8,535.1 384.8,535.0 386.8,534.9 388.8,534.8 390.9,534.7 392.9,534.6 394.9,534.5 397.0,534.4 399.0,534.3 401.0,534.2 403.1,534.1 405.1,534.0 407.1,533.9 409.2,533.8 411.2,533.7 413.2,533.6 415.3,533.5 417.3,533.4 419.3,533.3 421.4,533.2 423.4,533.1 425.4,533.0 427.5,532.9 429.5,532.8 431.5,532.7 433.5,532.6 435.6,532.5 437.6,532.4 439.6,532.3 441.7,532.2 443.7,532.1 445.7,532.0 447.8,531.9 449.8,531.8 451.8,531.7 453.9,531.6 455.9,531.5 457.9,531.4 460.0,531.3 462.0,531.2 464.0,531.1 466.1,531.0 468.1,530.9 470.1,530.8 472.1,530.7 474.2,530.6 476.2,530.5 478.2,530.4 480.3,530.3 482.3,530.2 484.3,530.1 486.4,530.0 488.4,529.9 490.4,529.8 492.5,529.7 494.5,529.6 496.5,529.5 498.6,529.3 500.6,529.2 502.6,529.1 504.7,529.0 506.7,528.9 508.7,528.8 510.7,528.7 512.8,528.6 514.8,528.5 516.8,528.4 518.9,528.3 520.9,528.2 522.9,528.1 525.0,528.0 527.0,527.9 529.0,527.8 531.1,527.6 533.1,527.5 535.1,527.4 537.2,527.3 539.2,527.2 541.2,527.1 543.3,527.0 545.3,526.9 547.3,526.8 549.4,526.7 551.4,526.6 553.4,526.4 555.4,526.3 557.5,526.2 559.5,526.1 561.5,526.0 563.6,525.9 565.6,525.8 567.6,525.7 569.7,525.5 571.7,525.4 573.7,525.3 575.8,525.2 577.8,525.1 579.8,525.0 581.9,524.9 583.9,524.7 585.9,524.6 588.0,524.5 590.0,524.4 592.0,524.3 594.0,524.2 596.1,524.0 598.1,523.9 600.1,523.8 602.2,523.7 604.2,523.6 606.2,523.5 608.3,523.3 610.3,523.2 612.3,523.1 614.4,523.0 616.4,522.9 618.4,522.7 620.5,522.6 622.5,522.5 624.5,522.4 626.6,522.2 628.6,522.1 630.6,522.0 632.6,521.9 634.7,521.8 636.7,521.6 638.7,521.5 640.8,521.4 642.8,521.3 644.8,521.1 646.9,521.0 648.9,520.9 650.9,520.8 653.0,520.6 655.0,520.5 657.0,520.4 659.1,520.2 661.1,520.1 663.1,520.0 665.2,519.9 667.2,519.7 669.2,519.6 671.3,519.5 673.3,519.3 675.3,519.2 677.3,519.1 679.4,518.9 681.4,518.8 683.4,518.7 685.5,518.5 687.5,518.4 689.5,518.3 691.6,518.1 693.6,518.0 695.6,517.9 697.7,517.7 699.7,517.6 701.7,517.5 703.8,517.3 705.8,517.2 707.8,517.1 709.9,516.9 711.9,516.8 713.9,516.6 715.8,516.5 717.8,516.4 719.7,516.3" fill="none" stroke="#2ca25e" stroke-width="3.0" stroke-linejoin="round"/>
<path d="M494.4,529.1V530.1M489.7,529.1h9.4M489.7,530.1h9.4M506.8,528.4V529.4M502.1,528.4h9.4M502.1,529.4h9.4M519.2,527.8V528.8M514.5,527.8h9.4M514.5,528.8h9.4M531.6,527.1V528.1M526.9,527.1h9.4M526.9,528.1h9.4M544.0,526.4V527.5M539.3,526.4h9.4M539.3,527.5h9.4M556.4,525.7V526.8M551.7,525.7h9.4M551.7,526.8h9.4M568.8,525.0V526.1M564.1,525.0h9.4M564.1,526.1h9.4M581.3,524.3V525.4M576.6,524.3h9.4M576.6,525.4h9.4M593.7,523.6V524.7M589.0,523.6h9.4M589.0,524.7h9.4M606.1,522.9V524.0M601.4,522.9h9.4M601.4,524.0h9.4M618.5,522.2V523.3M613.8,522.2h9.4M613.8,523.3h9.4M630.9,521.4V522.6M626.2,521.4h9.4M626.2,522.6h9.4M643.3,520.6V521.8M638.6,520.6h9.4M638.6,521.8h9.4M655.7,519.8V521.1M651.0,519.8h9.4M651.0,521.1h9.4M668.1,519.0V520.3M663.4,519.0h9.4M663.4,520.3h9.4M680.5,518.2V519.5M675.8,518.2h9.4M675.8,519.5h9.4M692.9,517.4V518.7M688.2,517.4h9.4M688.2,518.7h9.4M705.3,516.5V517.9M700.6,516.5h9.4M700.6,517.9h9.4M717.7,515.7V517.1M713.0,515.7h9.4M713.0,517.1h9.4" fill="none" stroke="#2ca25e" stroke-width="1.5"/>
<path d="M116.3,1374.2 118.3,1373.0 120.2,1371.8 122.2,1370.6 124.1,1369.4 126.1,1368.2 128.0,1367.0 130.0,1365.9 131.9,1364.7 133.9,1363.6 135.8,1362.5 137.8,1361.4 139.7,1360.4 141.7,1359.3 143.6,1358.3 145.6,1357.3 147.5,1356.3 149.5,1355.3 151.4,1354.3 153.4,1353.3 155.3,1352.4 157.3,1351.4 159.2,1350.5 161.2,1349.6 163.2,1348.7 165.1,1347.8 167.1,1346.9 169.0,1346.0 171.0,1345.2 172.9,1344.3 174.9,1343.5 176.8,1342.6 178.8,1341.8 180.7,1341.0 182.7,1340.2 184.6,1339.4 186.6,1338.6 188.5,1337.8 190.5,1337.0 192.4,1336.2 194.4,1335.5 196.3,1334.7 198.3,1334.0 200.2,1333.2 202.2,1332.5 204.2,1331.7 206.1,1331.0 208.1,1330.3 210.0,1329.6 212.0,1328.9 213.9,1328.2 215.9,1327.5 217.8,1326.8 219.8,1326.1 221.7,1325.4 223.7,1324.7 225.6,1324.0 227.6,1323.3 229.5,1322.6 231.5,1322.0 233.4,1321.3 235.4,1320.6 237.3,1320.0 239.3,1319.3 241.2,1318.7 243.2,1318.0 245.1,1317.3 247.1,1316.7 249.1,1316.0 251.0,1315.4 253.0,1314.7 254.9,1314.1 256.9,1313.4 258.8,1312.8 260.8,1312.1 262.7,1311.5 264.7,1310.9 266.6,1310.2 268.6,1309.6 270.5,1308.9 272.5,1308.3 274.4,1307.6 276.4,1307.0 278.3,1306.3 280.3,1305.7 282.2,1305.1 284.2,1304.4 286.1,1303.8 288.1,1303.1 290.0,1302.5 292.0,1301.8 294.0,1301.2 295.9,1300.5 297.9,1299.9 299.8,1299.2 301.8,1298.5 303.7,1297.9 305.7,1297.2 307.6,1296.6 309.6,1295.9 311.5,1295.2 313.5,1294.6 315.4,1293.9 317.4,1293.2 319.3,1292.5 321.3,1291.9 323.2,1291.2 325.2,1290.5 327.1,1289.8 329.1,1289.1 331.0,1288.4 333.0,1287.7 335.0,1287.0 336.9,1286.3 338.9,1285.6 340.8,1284.9 342.8,1284.2 344.7,1283.5 346.7,1282.8 348.6,1282.1 350.6,1281.3 352.5,1280.6 354.5,1279.9 356.4,1279.1 358.4,1278.4 360.3,1277.7 362.3,1276.9 364.2,1276.2 366.2,1275.4 368.1,1274.7 370.1,1273.9 372.0,1273.1 374.0,1272.4 375.9,1271.6 377.9,1270.8 379.9,1270.0 381.8,1269.2 383.8,1268.5 385.7,1267.7 387.7,1266.9 389.6,1266.1 391.6,1265.2 393.5,1264.4 395.5,1263.6 397.4,1262.8 399.4,1262.0 401.3,1261.1 403.3,1260.3 405.2,1259.5 407.2,1258.6 409.1,1257.8 411.1,1256.9 413.0,1256.1 415.0,1255.2 416.9,1254.3 418.9,1253.5 420.9,1252.6 422.8,1251.7 424.8,1250.8 426.7,1249.9 428.7,1249.0 430.6,1248.1 432.6,1247.2 434.5,1246.3 436.5,1245.4 438.4,1244.5 440.4,1243.5 442.3,1242.6 444.3,1241.7 446.2,1240.7 448.2,1239.8 450.1,1238.8 452.1,1237.9 454.0,1236.9 456.0,1235.9 457.9,1235.0 459.9,1234.0 461.8,1233.0 463.8,1232.0 465.8,1231.0 467.7,1230.0 469.7,1229.0 471.6,1228.0 473.6,1226.9 475.5,1225.9 477.5,1224.9 479.4,1223.9 481.4,1222.8 483.3,1221.8 485.3,1220.7 487.2,1219.6 489.2,1218.6 491.1,1217.5 493.1,1216.4 495.0,1215.3 497.0,1214.2 498.9,1213.1 500.9,1212.0 502.8,1210.9 504.8,1209.8 506.7,1208.7 508.7,1207.5 510.7,1206.4 512.6,1205.2 514.6,1204.1 516.5,1202.9 518.5,1201.8 520.4,1200.6 522.4,1199.4 524.3,1198.2 526.3,1197.0 528.2,1195.8 530.2,1194.6 532.1,1193.4 534.1,1192.2 536.0,1190.9 538.0,1189.7 539.9,1188.5 541.9,1187.2 543.8,1185.9 545.8,1184.7 547.7,1183.4 549.7,1182.1 551.7,1180.8 553.6,1179.5 555.6,1178.2 557.5,1176.9 559.5,1175.6 561.4,1174.2 563.4,1172.9 565.3,1171.5 567.3,1170.2 569.2,1168.8 571.2,1167.4 573.1,1166.0 575.1,1164.6 577.0,1163.2 579.0,1161.8 580.9,1160.4 582.9,1158.9 584.8,1157.5 586.8,1156.0 588.7,1154.6 590.7,1153.1 592.6,1151.6 594.6,1150.1 596.6,1148.6 598.5,1147.1 600.5,1145.5 602.4,1144.0 604.4,1142.4 606.3,1140.9 608.3,1139.3 610.2,1137.7 612.2,1136.1 614.1,1134.5 616.1,1132.9 618.0,1131.3 620.0,1129.6 621.9,1128.0 623.9,1126.3 625.8,1124.6 627.8,1122.9 629.7,1121.2 631.7,1119.5 633.6,1117.7 635.6,1116.0 637.5,1114.2 639.5,1112.4 641.5,1110.6 643.4,1108.8 645.4,1107.0 647.3,1105.2 649.3,1103.3 651.2,1101.4 653.2,1099.6 655.1,1097.7 657.1,1095.7 659.0,1093.8 661.0,1091.9 662.9,1089.9 664.9,1087.9 666.8,1085.9 668.8,1083.9 670.7,1081.9 672.7,1079.8 674.6,1077.7 676.6,1075.6 678.5,1073.5 680.5,1071.4 682.5,1069.3 684.4,1067.1 686.4,1064.9 688.3,1062.7 690.3,1060.5 692.2,1058.2 694.2,1056.0 696.1,1053.7 698.1,1051.4 700.0,1049.1 702.0,1046.7 703.9,1044.3 705.9,1041.9 707.8,1039.5 709.8,1037.1 711.7,1034.6 713.7,1032.1 715.6,1029.5 717.6,1027.0 719.5,1024.4 721.5,1021.8 723.4,1019.2 725.4,1016.7" fill="none" stroke="#404040" stroke-width="3.0" stroke-linejoin="round"/>
<path d="M137.3,1355.7V1367.6M132.6,1355.7h9.4M132.6,1367.6h9.4M158.3,1341.8V1360.1M153.6,1341.8h9.4M153.6,1360.1h9.4M179.4,1331.6V1351.4M174.7,1331.6h9.4M174.7,1351.4h9.4M200.4,1323.3V1343.1M195.7,1323.3h9.4M195.7,1343.1h9.4M221.4,1315.6V1335.4M216.7,1315.6h9.4M216.7,1335.4h9.4M242.4,1306.9V1329.6M237.7,1306.9h9.4M237.7,1329.6h9.4M263.5,1299.6V1322.9M258.8,1299.6h9.4M258.8,1322.9h9.4M284.5,1292.4V1316.3M279.8,1292.4h9.4M279.8,1316.3h9.4M305.5,1283.9V1310.6M300.8,1283.9h9.4M300.8,1310.6h9.4M326.5,1275.3V1304.7M321.8,1275.3h9.4M321.8,1304.7h9.4M347.6,1266.7V1298.2M342.9,1266.7h9.4M342.9,1298.2h9.4M368.6,1258.0V1291.0M363.9,1258.0h9.4M363.9,1291.0h9.4M389.6,1249.1V1283.0M384.9,1249.1h9.4M384.9,1283.0h9.4M410.6,1238.5V1275.7M405.9,1238.5h9.4M405.9,1275.7h9.4M431.7,1227.0V1268.3M427.0,1227.0h9.4M427.0,1268.3h9.4M452.7,1215.3V1259.8M448.0,1215.3h9.4M448.0,1259.8h9.4M473.7,1203.2V1250.5M469.0,1203.2h9.4M469.0,1250.5h9.4M494.7,1190.6V1240.4M490.0,1190.6h9.4M490.0,1240.4h9.4M515.8,1176.3V1230.5M511.1,1176.3h9.4M511.1,1230.5h9.4M536.8,1160.7V1220.2M532.1,1160.7h9.4M532.1,1220.2h9.4M557.8,1145.5V1207.8M553.1,1145.5h9.4M553.1,1207.8h9.4M578.8,1128.4V1195.4M574.1,1128.4h9.4M574.1,1195.4h9.4M599.9,1109.9V1182.1M595.2,1109.9h9.4M595.2,1182.1h9.4M620.9,1088.6V1169.1M616.2,1088.6h9.4M616.2,1169.1h9.4M641.9,1067.7V1152.7M637.2,1067.7h9.4M637.2,1152.7h9.4M662.9,1043.6V1136.2M658.2,1043.6h9.4M658.2,1136.2h9.4M684.0,1017.1V1118.1M679.3,1017.1h9.4M679.3,1118.1h9.4M705.0,987.3V1098.7M700.3,987.3h9.4M700.3,1098.7h9.4M726.0,954.7V1078.7M721.3,954.7h9.4M721.3,1078.7h9.4" fill="none" stroke="#404040" stroke-width="1.5"/>
<path d="M116.3,1374.1 118.3,1373.9 120.2,1373.8 122.2,1373.6 124.1,1373.4 126.1,1373.3 128.0,1373.1 130.0,1372.9 131.9,1372.8 133.9,1372.6 135.8,1372.5 137.8,1372.3 139.7,1372.2 141.7,1372.0 143.6,1371.9 145.6,1371.7 147.6,1371.6 149.5,1371.5 151.5,1371.3 153.4,1371.2 155.4,1371.1 157.3,1370.9 159.3,1370.8 161.2,1370.7 163.2,1370.5 165.1,1370.4 167.1,1370.3 169.0,1370.1 171.0,1370.0 172.9,1369.9 174.9,1369.8 176.8,1369.6 178.8,1369.5 180.8,1369.4 182.7,1369.3 184.7,1369.2 186.6,1369.1 188.6,1368.9 190.5,1368.8 192.5,1368.7 194.4,1368.6 196.4,1368.5 198.3,1368.4 200.3,1368.2 202.2,1368.1 204.2,1368.0 206.1,1367.9 208.1,1367.8 210.1,1367.7 212.0,1367.6 214.0,1367.5 215.9,1367.4 217.9,1367.2 219.8,1367.1 221.8,1367.0 223.7,1366.9 225.7,1366.8 227.6,1366.7 229.6,1366.6 231.5,1366.5 233.5,1366.4 235.4,1366.3 237.4,1366.2 239.4,1366.1 241.3,1365.9 243.3,1365.8 245.2,1365.7 247.2,1365.6 249.1,1365.5 251.1,1365.4 253.0,1365.3 255.0,1365.2 256.9,1365.1 258.9,1365.0 260.8,1364.9 262.8,1364.8 264.7,1364.7 266.7,1364.5 268.6,1364.4 270.6,1364.3 272.6,1364.2 274.5,1364.1 276.5,1364.0 278.4,1363.9 280.4,1363.8 282.3,1363.7 284.3,1363.6 286.2,1363.4 288.2,1363.3 290.1,1363.2 292.1,1363.1 294.0,1363.0 296.0,1362.9 297.9,1362.8 299.9,1362.6 301.9,1362.5 303.8,1362.4 305.8,1362.3 307.7,1362.2 309.7,1362.1 311.6,1361.9 313.6,1361.8 315.5,1361.7 317.5,1361.6 319.4,1361.5 321.4,1361.3 323.3,1361.2 325.3,1361.1 327.2,1361.0 329.2,1360.9 331.2,1360.7 333.1,1360.6 335.1,1360.5 337.0,1360.4 339.0,1360.2 340.9,1360.1 342.9,1360.0 344.8,1359.8 346.8,1359.7 348.7,1359.6 350.7,1359.5 352.6,1359.3 354.6,1359.2 356.5,1359.1 358.5,1358.9 360.5,1358.8 362.4,1358.7 364.4,1358.5 366.3,1358.4 368.3,1358.3 370.2,1358.1 372.2,1358.0 374.1,1357.8 376.1,1357.7 378.0,1357.6 380.0,1357.4 381.9,1357.3 383.9,1357.1 385.8,1357.0 387.8,1356.8 389.7,1356.7 391.7,1356.5 393.7,1356.4 395.6,1356.3 397.6,1356.1 399.5,1356.0 401.5,1355.8 403.4,1355.6 405.4,1355.5 407.3,1355.3 409.3,1355.2 411.2,1355.0 413.2,1354.9 415.1,1354.7 417.1,1354.6 419.0,1354.4 421.0,1354.2 423.0,1354.1 424.9,1353.9 426.9,1353.8 428.8,1353.6 430.8,1353.4 432.7,1353.3 434.7,1353.1 436.6,1352.9 438.6,1352.8 440.5,1352.6 442.5,1352.4 444.4,1352.3 446.4,1352.1 448.3,1351.9 450.3,1351.7 452.3,1351.6 454.2,1351.4 456.2,1351.2 458.1,1351.0 460.1,1350.9 462.0,1350.7 464.0,1350.5 465.9,1350.3 467.9,1350.1 469.8,1350.0 471.8,1349.8 473.7,1349.6 475.7,1349.4 477.6,1349.2 479.6,1349.0 481.5,1348.8 483.5,1348.7 485.5,1348.5 487.4,1348.3 489.4,1348.1 491.3,1347.9 493.3,1347.7 495.2,1347.5 497.2,1347.3 499.1,1347.1 501.1,1346.9 503.0,1346.7 505.0,1346.5 506.9,1346.3 508.9,1346.1 510.8,1345.9 512.8,1345.7 514.8,1345.5 516.7,1345.3 518.7,1345.1 520.6,1344.8 522.6,1344.6 524.5,1344.4 526.5,1344.2 528.4,1344.0 530.4,1343.8 532.3,1343.6 534.3,1343.3 536.2,1343.1 538.2,1342.9 540.1,1342.7 542.1,1342.4 544.1,1342.2 546.0,1342.0 548.0,1341.8 549.9,1341.5 551.9,1341.3 553.8,1341.1 555.8,1340.8 557.7,1340.6 559.7,1340.4 561.6,1340.1 563.6,1339.9 565.5,1339.6 567.5,1339.4 569.4,1339.2 571.4,1338.9 573.3,1338.7 575.3,1338.4 577.3,1338.2 579.2,1337.9 581.2,1337.7 583.1,1337.4 585.1,1337.2 587.0,1336.9 589.0,1336.6 590.9,1336.4 592.9,1336.1 594.8,1335.8 596.8,1335.6 598.7,1335.3 600.7,1335.0 602.6,1334.8 604.6,1334.5 606.6,1334.2 608.5,1333.9 610.5,1333.7 612.4,1333.4 614.4,1333.1 616.3,1332.8 618.3,1332.5 620.2,1332.2 622.2,1331.9 624.1,1331.6 626.1,1331.3 628.0,1331.0 630.0,1330.7 631.9,1330.4 633.9,1330.1 635.9,1329.8 637.8,1329.5 639.8,1329.2 641.7,1328.9 643.7,1328.6 645.6,1328.3 647.6,1327.9 649.5,1327.6 651.5,1327.3 653.4,1327.0 655.4,1326.6 657.3,1326.3 659.3,1326.0 661.2,1325.6 663.2,1325.3 665.1,1324.9 667.1,1324.6 669.1,1324.2 671.0,1323.9 673.0,1323.5 674.9,1323.2 676.9,1322.8 678.8,1322.4 680.8,1322.1 682.7,1321.7 684.7,1321.3 686.6,1320.9 688.6,1320.6 690.5,1320.2 692.5,1319.8 694.4,1319.4 696.4,1319.0 698.4,1318.6 700.3,1318.2 702.3,1317.8 704.2,1317.4 706.2,1317.0 708.1,1316.6 710.1,1316.1 712.0,1315.7 714.0,1315.3 715.9,1314.8 717.9,1314.4 719.8,1314.0 721.8,1313.5 723.7,1313.1 725.7,1312.6" fill="none" stroke="#e8383b" stroke-width="3.0" stroke-linejoin="round"/>
<path d="M158.3,1370.3V1371.4M153.6,1370.3h9.4M153.6,1371.4h9.4M179.4,1368.8V1370.2M174.7,1368.8h9.4M174.7,1370.2h9.4M200.4,1367.5V1369.0M195.7,1367.5h9.4M195.7,1369.0h9.4M221.4,1366.1V1368.0M216.7,1366.1h9.4M216.7,1368.0h9.4M242.4,1364.8V1367.0M237.7,1364.8h9.4M237.7,1367.0h9.4M263.5,1363.5V1366.0M258.8,1363.5h9.4M258.8,1366.0h9.4M284.5,1362.2V1364.9M279.8,1362.2h9.4M279.8,1364.9h9.4M305.5,1360.8V1363.8M300.8,1360.8h9.4M300.8,1363.8h9.4M326.5,1359.3V1362.7M321.8,1359.3h9.4M321.8,1362.7h9.4M347.6,1357.9V1361.5M342.9,1357.9h9.4M342.9,1361.5h9.4M368.6,1356.1V1360.4M363.9,1356.1h9.4M363.9,1360.4h9.4M389.6,1354.5V1358.9M384.9,1354.5h9.4M384.9,1358.9h9.4M410.6,1352.5V1357.7M405.9,1352.5h9.4M405.9,1357.7h9.4M431.7,1350.6V1356.1M427.0,1350.6h9.4M427.0,1356.1h9.4M452.7,1348.4V1354.6M448.0,1348.4h9.4M448.0,1354.6h9.4M473.7,1346.4V1352.8M469.0,1346.4h9.4M469.0,1352.8h9.4M494.7,1344.0V1351.1M490.0,1344.0h9.4M490.0,1351.1h9.4M515.8,1341.8V1349.0M511.1,1341.8h9.4M511.1,1349.0h9.4M536.8,1339.1V1347.0M532.1,1339.1h9.4M532.1,1347.0h9.4M557.8,1336.4V1344.7M553.1,1336.4h9.4M553.1,1344.7h9.4M578.8,1333.5V1342.5M574.1,1333.5h9.4M574.1,1342.5h9.4M599.9,1330.5V1339.8M595.2,1330.5h9.4M595.2,1339.8h9.4M620.9,1326.9V1337.4M616.2,1326.9h9.4M616.2,1337.4h9.4M641.9,1323.4V1334.4M637.2,1323.4h9.4M637.2,1334.4h9.4M662.9,1319.2V1331.4M658.2,1319.2h9.4M658.2,1331.4h9.4M684.0,1314.9V1328.0M679.3,1314.9h9.4M679.3,1328.0h9.4M705.0,1310.2V1324.2M700.3,1310.2h9.4M700.3,1324.2h9.4M726.0,1304.9V1320.4M721.3,1304.9h9.4M721.3,1320.4h9.4" fill="none" stroke="#e8383b" stroke-width="1.5"/>
<path d="M116.3,1374.1 118.3,1374.0 120.2,1373.8 122.2,1373.7 124.1,1373.6 126.1,1373.5 128.0,1373.4 130.0,1373.3 131.9,1373.2 133.9,1373.0 135.8,1372.9 137.8,1372.8 139.7,1372.7 141.7,1372.6 143.6,1372.5 145.6,1372.4 147.6,1372.3 149.5,1372.2 151.5,1372.1 153.4,1372.0 155.4,1371.9 157.3,1371.8 159.3,1371.7 161.2,1371.6 163.2,1371.5 165.1,1371.5 167.1,1371.4 169.0,1371.3 171.0,1371.2 172.9,1371.1 174.9,1371.0 176.8,1370.9 178.8,1370.8 180.8,1370.7 182.7,1370.7 184.7,1370.6 186.6,1370.5 188.6,1370.4 190.5,1370.3 192.5,1370.2 194.4,1370.2 196.4,1370.1 198.3,1370.0 200.3,1369.9 202.2,1369.8 204.2,1369.8 206.1,1369.7 208.1,1369.6 210.1,1369.5 212.0,1369.4 214.0,1369.4 215.9,1369.3 217.9,1369.2 219.8,1369.1 221.8,1369.1 223.7,1369.0 225.7,1368.9 227.6,1368.8 229.6,1368.8 231.5,1368.7 233.5,1368.6 235.4,1368.5 237.4,1368.5 239.4,1368.4 241.3,1368.3 243.3,1368.2 245.2,1368.1 247.2,1368.1 249.1,1368.0 251.1,1367.9 253.0,1367.8 255.0,1367.8 256.9,1367.7 258.9,1367.6 260.8,1367.5 262.8,1367.5 264.7,1367.4 266.7,1367.3 268.6,1367.2 270.6,1367.1 272.6,1367.1 274.5,1367.0 276.5,1366.9 278.4,1366.8 280.4,1366.8 282.3,1366.7 284.3,1366.6 286.2,1366.5 288.2,1366.4 290.1,1366.4 292.1,1366.3 294.0,1366.2 296.0,1366.1 297.9,1366.0 299.9,1365.9 301.9,1365.9 303.8,1365.8 305.8,1365.7 307.7,1365.6 309.7,1365.5 311.6,1365.4 313.6,1365.4 315.5,1365.3 317.5,1365.2 319.4,1365.1 321.4,1365.0 323.3,1364.9 325.3,1364.8 327.2,1364.7 329.2,1364.7 331.2,1364.6 333.1,1364.5 335.1,1364.4 337.0,1364.3 339.0,1364.2 340.9,1364.1 342.9,1364.0 344.8,1363.9 346.8,1363.8 348.7,1363.7 350.7,1363.6 352.6,1363.5 354.6,1363.5 356.5,1363.4 358.5,1363.3 360.5,1363.2 362.4,1363.1 364.4,1363.0 366.3,1362.9 368.3,1362.8 370.2,1362.7 372.2,1362.6 374.1,1362.5 376.1,1362.4 378.0,1362.3 380.0,1362.2 381.9,1362.0 383.9,1361.9 385.8,1361.8 387.8,1361.7 389.7,1361.6 391.7,1361.5 393.7,1361.4 395.6,1361.3 397.6,1361.2 399.5,1361.1 401.5,1361.0 403.4,1360.9 405.4,1360.7 407.3,1360.6 409.3,1360.5 411.2,1360.4 413.2,1360.3 415.1,1360.2 417.1,1360.1 419.0,1359.9 421.0,1359.8 423.0,1359.7 424.9,1359.6 426.9,1359.5 428.8,1359.3 430.8,1359.2 432.7,1359.1 434.7,1359.0 436.6,1358.9 438.6,1358.7 440.5,1358.6 442.5,1358.5 444.4,1358.4 446.4,1358.2 448.3,1358.1 450.3,1358.0 452.3,1357.8 454.2,1357.7 456.2,1357.6 458.1,1357.5 460.1,1357.3 462.0,1357.2 464.0,1357.1 465.9,1356.9 467.9,1356.8 469.8,1356.7 471.8,1356.5 473.7,1356.4 475.7,1356.2 477.6,1356.1 479.6,1356.0 481.5,1355.8 483.5,1355.7 485.5,1355.5 487.4,1355.4 489.4,1355.3 491.3,1355.1 493.3,1355.0 495.2,1354.8 497.2,1354.7 499.1,1354.5 501.1,1354.4 503.0,1354.2 505.0,1354.1 506.9,1353.9 508.9,1353.8 510.8,1353.6 512.8,1353.5 514.8,1353.3 516.7,1353.2 518.7,1353.0 520.6,1352.9 522.6,1352.7 524.5,1352.5 526.5,1352.4 528.4,1352.2 530.4,1352.1 532.3,1351.9 534.3,1351.7 536.2,1351.6 538.2,1351.4 540.1,1351.2 542.1,1351.1 544.1,1350.9 546.0,1350.7 548.0,1350.6 549.9,1350.4 551.9,1350.2 553.8,1350.1 555.8,1349.9 557.7,1349.7 559.7,1349.5 561.6,1349.4 563.6,1349.2 565.5,1349.0 567.5,1348.8 569.4,1348.6 571.4,1348.5 573.3,1348.3 575.3,1348.1 577.3,1347.9 579.2,1347.7 581.2,1347.5 583.1,1347.3 585.1,1347.2 587.0,1347.0 589.0,1346.8 590.9,1346.6 592.9,1346.4 594.8,1346.2 596.8,1346.0 598.7,1345.8 600.7,1345.6 602.6,1345.4 604.6,1345.2 606.6,1345.0 608.5,1344.8 610.5,1344.6 612.4,1344.4 614.4,1344.2 616.3,1344.0 618.3,1343.8 620.2,1343.5 622.2,1343.3 624.1,1343.1 626.1,1342.9 628.0,1342.7 630.0,1342.5 631.9,1342.3 633.9,1342.0 635.9,1341.8 637.8,1341.6 639.8,1341.4 641.7,1341.1 643.7,1340.9 645.6,1340.7 647.6,1340.4 649.5,1340.2 651.5,1340.0 653.4,1339.7 655.4,1339.5 657.3,1339.3 659.3,1339.0 661.2,1338.8 663.2,1338.5 665.1,1338.3 667.1,1338.0 669.1,1337.8 671.0,1337.5 673.0,1337.3 674.9,1337.0 676.9,1336.7 678.8,1336.5 680.8,1336.2 682.7,1336.0 684.7,1335.7 686.6,1335.4 688.6,1335.1 690.5,1334.9 692.5,1334.6 694.4,1334.3 696.4,1334.0 698.4,1333.8 700.3,1333.5 702.3,1333.2 704.2,1332.9 706.2,1332.6 708.1,1332.3 710.1,1332.0 712.0,1331.7 714.0,1331.4 715.9,1331.1 717.9,1330.8 719.8,1330.5 721.8,1330.2 723.7,1329.9 725.7,1329.6" fill="none" stroke="#0a5ad2" stroke-width="3.0" stroke-linejoin="round"/>
<path d="M557.8,1349.2V1350.2M553.1,1349.2h9.4M553.1,1350.2h9.4M578.8,1347.2V1348.3M574.1,1347.2h9.4M574.1,1348.3h9.4M599.9,1345.0V1346.4M595.2,1345.0h9.4M595.2,1346.4h9.4M620.9,1342.6V1344.3M616.2,1342.6h9.4M616.2,1344.3h9.4M641.9,1340.2V1342.0M637.2,1340.2h9.4M637.2,1342.0h9.4M662.9,1337.5V1339.6M658.2,1337.5h9.4M658.2,1339.6h9.4M684.0,1334.6V1337.0M679.3,1334.6h9.4M679.3,1337.0h9.4M705.0,1331.5V1334.1M700.3,1331.5h9.4M700.3,1334.1h9.4M726.0,1328.0V1331.1M721.3,1328.0h9.4M721.3,1331.1h9.4" fill="none" stroke="#0a5ad2" stroke-width="1.5"/>
<path d="M116.3,1374.1 118.3,1374.0 120.2,1373.9 122.2,1373.8 124.1,1373.6 126.1,1373.5 128.0,1373.4 130.0,1373.3 131.9,1373.2 133.9,1373.1 135.8,1373.0 137.8,1372.9 139.7,1372.8 141.7,1372.7 143.6,1372.6 145.6,1372.5 147.6,1372.4 149.5,1372.3 151.5,1372.3 153.4,1372.2 155.4,1372.1 157.3,1372.0 159.3,1371.9 161.2,1371.8 163.2,1371.7 165.1,1371.6 167.1,1371.6 169.0,1371.5 171.0,1371.4 172.9,1371.3 174.9,1371.2 176.8,1371.2 178.8,1371.1 180.8,1371.0 182.7,1370.9 184.7,1370.9 186.6,1370.8 188.6,1370.7 190.5,1370.6 192.5,1370.6 194.4,1370.5 196.4,1370.4 198.3,1370.3 200.3,1370.3 202.2,1370.2 204.2,1370.1 206.1,1370.1 208.1,1370.0 210.1,1369.9 212.0,1369.8 214.0,1369.8 215.9,1369.7 217.9,1369.6 219.8,1369.6 221.8,1369.5 223.7,1369.4 225.7,1369.4 227.6,1369.3 229.6,1369.2 231.5,1369.2 233.5,1369.1 235.4,1369.0 237.4,1369.0 239.4,1368.9 241.3,1368.8 243.3,1368.8 245.2,1368.7 247.2,1368.6 249.1,1368.6 251.1,1368.5 253.0,1368.4 255.0,1368.4 256.9,1368.3 258.9,1368.2 260.8,1368.2 262.8,1368.1 264.7,1368.0 266.7,1368.0 268.6,1367.9 270.6,1367.8 272.6,1367.8 274.5,1367.7 276.5,1367.6 278.4,1367.5 280.4,1367.5 282.3,1367.4 284.3,1367.3 286.2,1367.3 288.2,1367.2 290.1,1367.1 292.1,1367.1 294.0,1367.0 296.0,1366.9 297.9,1366.9 299.9,1366.8 301.9,1366.7 303.8,1366.6 305.8,1366.6 307.7,1366.5 309.7,1366.4 311.6,1366.4 313.6,1366.3 315.5,1366.2 317.5,1366.1 319.4,1366.1 321.4,1366.0 323.3,1365.9 325.3,1365.8 327.2,1365.8 329.2,1365.7 331.2,1365.6 333.1,1365.5 335.1,1365.5 337.0,1365.4 339.0,1365.3 340.9,1365.2 342.9,1365.1 344.8,1365.1 346.8,1365.0 348.7,1364.9 350.7,1364.8 352.6,1364.7 354.6,1364.7 356.5,1364.6 358.5,1364.5 360.5,1364.4 362.4,1364.3 364.4,1364.3 366.3,1364.2 368.3,1364.1 370.2,1364.0 372.2,1363.9 374.1,1363.8 376.1,1363.7 378.0,1363.7 380.0,1363.6 381.9,1363.5 383.9,1363.4 385.8,1363.3 387.8,1363.2 389.7,1363.1 391.7,1363.0 393.7,1362.9 395.6,1362.9 397.6,1362.8 399.5,1362.7 401.5,1362.6 403.4,1362.5 405.4,1362.4 407.3,1362.3 409.3,1362.2 411.2,1362.1 413.2,1362.0 415.1,1361.9 417.1,1361.8 419.0,1361.7 421.0,1361.6 423.0,1361.5 424.9,1361.4 426.9,1361.3 428.8,1361.2 430.8,1361.1 432.7,1361.0 434.7,1360.9 436.6,1360.8 438.6,1360.7 440.5,1360.6 442.5,1360.5 444.4,1360.4 446.4,1360.3 448.3,1360.2 450.3,1360.1 452.3,1360.0 454.2,1359.9 456.2,1359.8 458.1,1359.7 460.1,1359.6 462.0,1359.4 464.0,1359.3 465.9,1359.2 467.9,1359.1 469.8,1359.0 471.8,1358.9 473.7,1358.8 475.7,1358.7 477.6,1358.5 479.6,1358.4 481.5,1358.3 483.5,1358.2 485.5,1358.1 487.4,1358.0 489.4,1357.8 491.3,1357.7 493.3,1357.6 495.2,1357.5 497.2,1357.4 499.1,1357.2 501.1,1357.1 503.0,1357.0 505.0,1356.9 506.9,1356.8 508.9,1356.6 510.8,1356.5 512.8,1356.4 514.8,1356.3 516.7,1356.1 518.7,1356.0 520.6,1355.9 522.6,1355.8 524.5,1355.6 526.5,1355.5 528.4,1355.4 530.4,1355.2 532.3,1355.1 534.3,1355.0 536.2,1354.8 538.2,1354.7 540.1,1354.6 542.1,1354.4 544.1,1354.3 546.0,1354.2 548.0,1354.0 549.9,1353.9 551.9,1353.7 553.8,1353.6 555.8,1353.5 557.7,1353.3 559.7,1353.2 561.6,1353.0 563.6,1352.9 565.5,1352.7 567.5,1352.6 569.4,1352.5 571.4,1352.3 573.3,1352.2 575.3,1352.0 577.3,1351.9 579.2,1351.7 581.2,1351.6 583.1,1351.4 585.1,1351.3 587.0,1351.1 589.0,1350.9 590.9,1350.8 592.9,1350.6 594.8,1350.5 596.8,1350.3 598.7,1350.2 600.7,1350.0 602.6,1349.8 604.6,1349.7 606.6,1349.5 608.5,1349.4 610.5,1349.2 612.4,1349.0 614.4,1348.9 616.3,1348.7 618.3,1348.5 620.2,1348.3 622.2,1348.2 624.1,1348.0 626.1,1347.8 628.0,1347.6 630.0,1347.5 631.9,1347.3 633.9,1347.1 635.9,1346.9 637.8,1346.8 639.8,1346.6 641.7,1346.4 643.7,1346.2 645.6,1346.0 647.6,1345.8 649.5,1345.6 651.5,1345.4 653.4,1345.3 655.4,1345.1 657.3,1344.9 659.3,1344.7 661.2,1344.5 663.2,1344.3 665.1,1344.1 667.1,1343.9 669.1,1343.7 671.0,1343.5 673.0,1343.3 674.9,1343.1 676.9,1342.8 678.8,1342.6 680.8,1342.4 682.7,1342.2 684.7,1342.0 686.6,1341.8 688.6,1341.5 690.5,1341.3 692.5,1341.1 694.4,1340.9 696.4,1340.6 698.4,1340.4 700.3,1340.2 702.3,1340.0 704.2,1339.7 706.2,1339.5 708.1,1339.2 710.1,1339.0 712.0,1338.8 714.0,1338.5 715.9,1338.3 717.9,1338.0 719.8,1337.7 721.8,1337.5 723.7,1337.2 725.7,1337.0" fill="none" stroke="#2ca25e" stroke-width="3.0" stroke-linejoin="round"/>
<path d="M368.6,1363.6V1364.6M363.9,1363.6h9.4M363.9,1364.6h9.4M389.6,1362.6V1363.7M384.9,1362.6h9.4M384.9,1363.7h9.4M410.6,1361.5V1362.8M405.9,1361.5h9.4M405.9,1362.8h9.4M431.7,1360.2V1361.9M427.0,1360.2h9.4M427.0,1361.9h9.4M452.7,1359.1V1360.8M448.0,1359.1h9.4M448.0,1360.8h9.4M473.7,1358.0V1359.6M469.0,1358.0h9.4M469.0,1359.6h9.4M494.7,1356.7V1358.4M490.0,1356.7h9.4M490.0,1358.4h9.4M515.8,1355.1V1357.3M511.1,1355.1h9.4M511.1,1357.3h9.4M536.8,1353.6V1356.0M532.1,1353.6h9.4M532.1,1356.0h9.4M557.8,1352.1V1354.5M553.1,1352.1h9.4M553.1,1354.5h9.4M578.8,1350.5V1353.0M574.1,1350.5h9.4M574.1,1353.0h9.4M599.9,1348.6V1351.5M595.2,1348.6h9.4M595.2,1351.5h9.4M620.9,1346.6V1350.0M616.2,1346.6h9.4M616.2,1350.0h9.4M641.9,1344.4V1348.3M637.2,1344.4h9.4M637.2,1348.3h9.4M662.9,1342.3V1346.3M658.2,1342.3h9.4M658.2,1346.3h9.4M684.0,1339.8V1344.3M679.3,1339.8h9.4M679.3,1344.3h9.4M705.0,1337.2V1342.0M700.3,1337.2h9.4M700.3,1342.0h9.4M726.0,1334.3V1339.7M721.3,1334.3h9.4M721.3,1339.7h9.4" fill="none" stroke="#2ca25e" stroke-width="1.5"/>
<path d="M118.1,2184.0 118.7,2177.5 119.3,2172.0 120.4,2166.1 121.6,2161.0 123.3,2150.5 125.1,2138.7 126.6,2127.3 128.2,2115.5 128.9,2109.2 129.7,2104.4 131.5,2099.1 133.4,2095.1 135.2,2092.1 137.1,2089.8 139.0,2087.7 140.8,2085.7 142.5,2083.8 144.3,2082.0 146.0,2080.4 147.8,2078.9 149.5,2077.5 151.2,2076.2 153.0,2075.0 154.7,2073.8 156.7,2072.6 158.6,2071.4 160.6,2070.4 162.6,2069.4 164.5,2068.4 166.5,2067.5 168.5,2066.6 170.5,2065.7 172.5,2064.9 174.4,2064.1 176.4,2063.4 178.4,2062.7 180.1,2062.1 181.9,2061.6 183.6,2061.0 185.4,2060.5 187.1,2060.1 188.8,2059.6 190.6,2059.2 192.3,2058.8 194.3,2058.4 196.3,2057.9 198.2,2057.5 200.2,2057.2 202.2,2056.9 204.2,2056.8 206.0,2056.8 207.8,2056.7 209.5,2056.7 211.6,2056.4 213.6,2056.0 215.6,2055.5 217.7,2055.1 219.7,2054.8 221.7,2054.4 223.7,2054.0 225.8,2053.6 227.8,2053.3 229.8,2052.9 231.9,2052.5 233.9,2052.1 235.9,2051.8 238.0,2051.4 240.0,2051.0 242.0,2050.6 244.1,2050.3 246.1,2049.9 248.1,2049.5 250.2,2049.1 252.2,2048.8 254.2,2048.4 256.3,2048.0 258.3,2047.6 260.3,2047.3 262.3,2046.9 264.4,2046.5 266.4,2046.1 268.4,2045.7 270.5,2045.4 272.5,2045.0 274.5,2044.6 276.6,2044.2 278.6,2043.8 280.6,2043.4 282.7,2043.0 284.7,2042.6 286.7,2042.2 288.8,2041.8 290.8,2041.4 292.8,2041.0 294.9,2040.6 296.9,2040.2 298.9,2039.8 301.0,2039.4 303.0,2039.0 305.0,2038.5 307.0,2038.1 309.1,2037.7 311.1,2037.3 313.1,2036.8 315.2,2036.4 317.2,2036.0 319.2,2035.5 321.3,2035.1 323.3,2034.6 325.3,2034.2 327.4,2033.7 329.4,2033.2 331.4,2032.8 333.5,2032.3 335.5,2031.8 337.5,2031.4 339.6,2030.9 341.6,2030.4 343.6,2029.9 345.6,2029.4 347.7,2028.9 349.7,2028.4 351.7,2027.9 353.8,2027.3 355.8,2026.8 357.8,2026.3 359.9,2025.7 361.9,2025.2 363.9,2024.7 366.0,2024.1 368.0,2023.6 370.0,2023.0 372.1,2022.4 374.1,2021.8 376.1,2021.3 378.2,2020.7 380.2,2020.1 382.2,2019.5 384.2,2018.9 386.3,2018.2 388.3,2017.6 390.3,2017.0 392.4,2016.4 394.4,2015.7 396.4,2015.1 398.5,2014.4 400.5,2013.7 402.5,2013.1 404.6,2012.4 406.6,2011.7 408.6,2011.0 410.7,2010.3 412.7,2009.6 414.7,2008.9 416.8,2008.1 418.8,2007.4 420.8,2006.7 422.9,2005.9 424.9,2005.1 426.9,2004.4 428.9,2003.6 431.0,2002.8 433.0,2002.0 435.0,2001.2 437.1,2000.4 439.1,1999.6 441.1,1998.7 443.2,1997.9 445.2,1997.0 447.2,1996.2 449.3,1995.3 451.3,1994.4 453.3,1993.5 455.4,1992.6 457.4,1991.7 459.4,1990.8 461.5,1989.9 463.5,1988.9 465.5,1988.0 467.5,1987.0 469.6,1986.0 471.6,1985.0 473.6,1984.0 475.7,1983.0 477.7,1982.0 479.7,1981.0 481.8,1980.0 483.8,1978.9 485.8,1977.8 487.9,1976.8 489.9,1975.7 491.9,1974.6 494.0,1973.5 496.0,1972.3 498.0,1971.2 500.1,1970.1 502.1,1968.9 504.1,1967.7 506.1,1966.6 508.2,1965.4 510.2,1964.2 512.2,1962.9 514.3,1961.7 516.3,1960.5 518.3,1959.2 520.4,1957.9 522.4,1956.6 524.4,1955.3 526.5,1954.0 528.5,1952.7 530.5,1951.4 532.6,1950.0 534.6,1948.6 536.6,1947.3 538.7,1945.9 540.7,1944.4 542.7,1943.0 544.8,1941.6 546.8,1940.1 548.8,1938.6 550.8,1937.2 552.9,1935.6 554.9,1934.1 556.9,1932.6 559.0,1931.0 561.0,1929.5 563.0,1927.9 565.1,1926.3 567.1,1924.6 569.1,1923.0 571.2,1921.3 573.2,1919.7 575.2,1918.0 577.3,1916.2 579.3,1914.5 581.3,1912.8 583.4,1911.0 585.4,1909.2 587.4,1907.4 589.4,1905.6 591.5,1903.7 593.5,1901.9 595.5,1900.0 597.6,1898.1 599.6,1896.1 601.6,1894.2 603.7,1892.2 605.7,1890.2 607.7,1888.2 609.8,1886.2 611.8,1884.2 613.8,1882.1 615.9,1880.0 617.9,1877.9 619.9,1875.8 622.0,1873.6 624.0,1871.4 626.0,1869.2 628.0,1867.0 630.1,1864.7 632.1,1862.5 634.1,1860.2 636.2,1857.9 638.2,1855.5 640.2,1853.2 642.3,1850.8 644.3,1848.4 646.3,1845.9 648.4,1843.5 650.4,1841.0 652.4,1838.5 654.5,1835.9 656.5,1833.4 658.5,1830.8 660.6,1828.2 662.6,1825.5 664.6,1822.9 666.7,1820.2 668.7,1817.5 670.7,1814.7 672.7,1812.0 674.8,1809.2 676.8,1806.3 678.8,1803.5 680.9,1800.6 682.9,1797.7 684.9,1794.8 687.0,1791.8 689.0,1788.9 691.0,1785.8 693.1,1782.8 695.1,1779.7 697.1,1776.6 699.2,1773.5 701.2,1770.3 703.2,1767.2 705.3,1763.9 707.3,1760.7 709.3,1757.4 711.3,1754.1 713.4,1750.8 715.4,1747.4 717.4,1744.0 719.5,1740.6 721.5,1737.2 722.8,1734.9 724.1,1732.7" fill="none" stroke="#404040" stroke-width="3.0" stroke-linejoin="round"/>
<path d="M129.3,2103.8V2109.8M124.6,2103.8h9.4M124.6,2109.8h9.4M141.8,2081.6V2087.7M137.1,2081.6h9.4M137.1,2087.7h9.4M154.2,2071.1V2077.2M149.5,2071.1h9.4M149.5,2077.2h9.4M166.6,2064.3V2070.6M161.9,2064.3h9.4M161.9,2070.6h9.4M179.1,2059.3V2065.6M174.4,2059.3h9.4M174.4,2065.6h9.4M191.5,2055.8V2062.2M186.8,2055.8h9.4M186.8,2062.2h9.4M203.9,2053.6V2060.0M199.2,2053.6h9.4M199.2,2060.0h9.4M216.4,2052.1V2058.6M211.7,2052.1h9.4M211.7,2058.6h9.4M228.8,2049.8V2056.4M224.1,2049.8h9.4M224.1,2056.4h9.4M241.2,2047.5V2054.1M236.5,2047.5h9.4M236.5,2054.1h9.4M253.7,2045.1V2051.9M249.0,2045.1h9.4M249.0,2051.9h9.4M266.1,2042.8V2049.6M261.4,2042.8h9.4M261.4,2049.6h9.4M278.5,2040.4V2047.3M273.8,2040.4h9.4M273.8,2047.3h9.4M291.0,2037.9V2044.9M286.3,2037.9h9.4M286.3,2044.9h9.4M303.4,2035.4V2042.4M298.7,2035.4h9.4M298.7,2042.4h9.4M315.9,2032.7V2039.8M311.2,2032.7h9.4M311.2,2039.8h9.4M328.3,2029.9V2037.1M323.6,2029.9h9.4M323.6,2037.1h9.4M340.7,2026.9V2034.3M336.0,2026.9h9.4M336.0,2034.3h9.4M353.2,2023.7V2031.3M348.5,2023.7h9.4M348.5,2031.3h9.4M365.6,2020.4V2028.0M360.9,2020.4h9.4M360.9,2028.0h9.4M378.0,2016.8V2024.6M373.3,2016.8h9.4M373.3,2024.6h9.4M390.5,2013.0V2020.9M385.8,2013.0h9.4M385.8,2020.9h9.4M402.9,2008.9V2017.0M398.2,2008.9h9.4M398.2,2017.0h9.4M415.3,2004.4V2012.8M410.6,2004.4h9.4M410.6,2012.8h9.4M427.8,1999.7V2008.4M423.1,1999.7h9.4M423.1,2008.4h9.4M440.2,1994.9V2003.3M435.5,1994.9h9.4M435.5,2003.3h9.4M452.7,1988.8V1998.8M448.0,1988.8h9.4M448.0,1998.8h9.4M465.1,1982.4V1994.0M460.4,1982.4h9.4M460.4,1994.0h9.4M477.5,1976.5V1987.7M472.8,1976.5h9.4M472.8,1987.7h9.4M490.0,1968.5V1982.8M485.3,1968.5h9.4M485.3,1982.8h9.4M502.4,1961.6V1975.8M497.7,1961.6h9.4M497.7,1975.8h9.4M514.8,1953.5V1969.3M510.1,1953.5h9.4M510.1,1969.3h9.4M527.3,1944.8V1962.2M522.6,1944.8h9.4M522.6,1962.2h9.4M539.7,1935.6V1954.7M535.0,1935.6h9.4M535.0,1954.7h9.4M552.1,1926.2V1946.2M547.4,1926.2h9.4M547.4,1946.2h9.4M564.6,1915.7V1937.6M559.9,1915.7h9.4M559.9,1937.6h9.4M577.0,1904.7V1928.1M572.3,1904.7h9.4M572.3,1928.1h9.4M589.5,1892.6V1918.5M584.8,1892.6h9.4M584.8,1918.5h9.4M601.9,1880.3V1907.6M597.2,1880.3h9.4M597.2,1907.6h9.4M614.3,1866.0V1897.2M609.6,1866.0h9.4M609.6,1897.2h9.4M626.8,1852.1V1884.7M622.1,1852.1h9.4M622.1,1884.7h9.4M639.2,1836.4V1872.3M634.5,1836.4h9.4M634.5,1872.3h9.4M651.6,1819.5V1859.4M646.9,1819.5h9.4M646.9,1859.4h9.4M664.1,1802.6V1844.5M659.4,1802.6h9.4M659.4,1844.5h9.4M676.5,1784.7V1828.8M671.8,1784.7h9.4M671.8,1828.8h9.4M688.9,1764.9V1813.0M684.2,1764.9h9.4M684.2,1813.0h9.4M701.4,1744.7V1795.4M696.7,1744.7h9.4M696.7,1795.4h9.4M713.8,1723.0V1777.1M709.1,1723.0h9.4M709.1,1777.1h9.4M726.3,1703.4V1762.0M721.6,1703.4h9.4M721.6,1762.0h9.4" fill="none" stroke="#404040" stroke-width="1.5"/>
<path d="M117.9,2182.9 119.8,2181.6 121.6,2180.3 123.5,2179.0 125.4,2177.7 127.3,2176.5 129.1,2175.5 131.1,2174.5 133.1,2173.5 135.1,2172.6 137.1,2171.8 139.1,2171.0 141.1,2170.3 143.0,2169.6 145.0,2169.0 147.0,2168.4 149.0,2167.8 151.0,2167.3 153.0,2166.9 154.8,2166.5 156.7,2166.1 158.6,2165.7 160.4,2165.4 162.3,2165.1 164.2,2164.8 166.0,2164.5 167.8,2164.2 169.7,2163.9 171.5,2163.6 173.3,2163.3 175.1,2163.1 176.9,2162.8 178.7,2162.6 180.5,2162.4 182.2,2162.2 184.0,2162.0 185.7,2161.8 187.5,2161.6 189.2,2161.4 190.9,2161.3 192.7,2161.1 194.7,2160.9 196.7,2160.7 198.6,2160.5 200.6,2160.4 202.6,2160.2 204.6,2160.1 207.1,2160.0 209.5,2159.9 211.6,2159.7 213.6,2159.6 215.6,2159.5 217.7,2159.3 219.7,2159.2 221.7,2159.1 223.7,2158.9 225.8,2158.8 227.8,2158.7 229.8,2158.6 231.9,2158.5 233.9,2158.4 235.9,2158.3 238.0,2158.2 240.0,2158.1 242.0,2158.0 244.1,2157.9 246.1,2157.8 248.1,2157.7 250.2,2157.6 252.2,2157.5 254.2,2157.4 256.3,2157.3 258.3,2157.3 260.3,2157.2 262.3,2157.1 264.4,2157.0 266.4,2157.0 268.4,2156.9 270.5,2156.8 272.5,2156.7 274.5,2156.7 276.6,2156.6 278.6,2156.5 280.6,2156.5 282.7,2156.4 284.7,2156.3 286.7,2156.3 288.8,2156.2 290.8,2156.1 292.8,2156.1 294.9,2156.0 296.9,2155.9 298.9,2155.9 301.0,2155.8 303.0,2155.8 305.0,2155.7 307.0,2155.7 309.1,2155.6 311.1,2155.5 313.1,2155.5 315.2,2155.4 317.2,2155.4 319.2,2155.3 321.3,2155.3 323.3,2155.2 325.3,2155.2 327.4,2155.1 329.4,2155.1 331.4,2155.0 333.5,2155.0 335.5,2154.9 337.5,2154.9 339.6,2154.8 341.6,2154.8 343.6,2154.7 345.6,2154.7 347.7,2154.6 349.7,2154.6 351.7,2154.5 353.8,2154.5 355.8,2154.4 357.8,2154.4 359.9,2154.3 361.9,2154.3 363.9,2154.2 366.0,2154.2 368.0,2154.1 370.0,2154.1 372.1,2154.0 374.1,2154.0 376.1,2153.9 378.2,2153.9 380.2,2153.8 382.2,2153.8 384.2,2153.7 386.3,2153.7 388.3,2153.6 390.3,2153.6 392.4,2153.5 394.4,2153.5 396.4,2153.4 398.5,2153.4 400.5,2153.3 402.5,2153.3 404.6,2153.2 406.6,2153.2 408.6,2153.1 410.7,2153.1 412.7,2153.0 414.7,2153.0 416.8,2152.9 418.8,2152.9 420.8,2152.8 422.9,2152.8 424.9,2152.7 426.9,2152.7 428.9,2152.6 431.0,2152.5 433.0,2152.5 435.0,2152.4 437.1,2152.4 439.1,2152.3 441.1,2152.3 443.2,2152.2 445.2,2152.2 447.2,2152.1 449.3,2152.1 451.3,2152.0 453.3,2151.9 455.4,2151.9 457.4,2151.8 459.4,2151.8 461.5,2151.7 463.5,2151.7 465.5,2151.6 467.5,2151.5 469.6,2151.5 471.6,2151.4 473.6,2151.4 475.7,2151.3 477.7,2151.2 479.7,2151.2 481.8,2151.1 483.8,2151.1 485.8,2151.0 487.9,2150.9 489.9,2150.9 491.9,2150.8 494.0,2150.8 496.0,2150.7 498.0,2150.6 500.1,2150.6 502.1,2150.5 504.1,2150.4 506.1,2150.4 508.2,2150.3 510.2,2150.3 512.2,2150.2 514.3,2150.1 516.3,2150.1 518.3,2150.0 520.4,2149.9 522.4,2149.9 524.4,2149.8 526.5,2149.7 528.5,2149.7 530.5,2149.6 532.6,2149.5 534.6,2149.5 536.6,2149.4 538.7,2149.3 540.7,2149.3 542.7,2149.2 544.8,2149.1 546.8,2149.1 548.8,2149.0 550.8,2148.9 552.9,2148.9 554.9,2148.8 556.9,2148.7 559.0,2148.6 561.0,2148.6 563.0,2148.5 565.1,2148.4 567.1,2148.4 569.1,2148.3 571.2,2148.2 573.2,2148.2 575.2,2148.1 577.3,2148.0 579.3,2147.9 581.3,2147.9 583.4,2147.8 585.4,2147.7 587.4,2147.6 589.4,2147.6 591.5,2147.5 593.5,2147.4 595.5,2147.3 597.6,2147.3 599.6,2147.2 601.6,2147.1 603.7,2147.0 605.7,2147.0 607.7,2146.9 609.8,2146.8 611.8,2146.7 613.8,2146.6 615.9,2146.6 617.9,2146.5 619.9,2146.4 622.0,2146.3 624.0,2146.3 626.0,2146.2 628.0,2146.1 630.1,2146.0 632.1,2145.9 634.1,2145.8 636.2,2145.8 638.2,2145.7 640.2,2145.6 642.3,2145.5 644.3,2145.4 646.3,2145.4 648.4,2145.3 650.4,2145.2 652.4,2145.1 654.5,2145.0 656.5,2144.9 658.5,2144.8 660.6,2144.8 662.6,2144.7 664.6,2144.6 666.7,2144.5 668.7,2144.4 670.7,2144.3 672.7,2144.2 674.8,2144.1 676.8,2144.1 678.8,2144.0 680.9,2143.9 682.9,2143.8 684.9,2143.7 687.0,2143.6 689.0,2143.5 691.0,2143.4 693.1,2143.3 695.1,2143.2 697.1,2143.2 699.2,2143.1 701.2,2143.0 703.2,2142.9 705.3,2142.8 707.3,2142.7 709.3,2142.6 711.3,2142.5 713.4,2142.4 715.4,2142.3 717.4,2142.2 719.5,2142.1 721.5,2142.0 723.8,2141.9 726.1,2141.8" fill="none" stroke="#e8383b" stroke-width="3.0" stroke-linejoin="round"/>
<path d="M129.3,2174.9V2175.9M124.6,2174.9h9.4M124.6,2175.9h9.4M141.8,2169.6V2170.6M137.1,2169.6h9.4M137.1,2170.6h9.4M154.2,2166.1V2167.1M149.5,2166.1h9.4M149.5,2167.1h9.4M166.6,2163.9V2164.9M161.9,2163.9h9.4M161.9,2164.9h9.4M179.1,2162.0V2163.0M174.4,2162.0h9.4M174.4,2163.0h9.4M191.5,2160.7V2161.7M186.8,2160.7h9.4M186.8,2161.7h9.4M203.9,2159.6V2160.7M199.2,2159.6h9.4M199.2,2160.7h9.4M216.4,2158.9V2159.9M211.7,2158.9h9.4M211.7,2159.9h9.4M228.8,2158.1V2159.2M224.1,2158.1h9.4M224.1,2159.2h9.4M241.2,2157.5V2158.5M236.5,2157.5h9.4M236.5,2158.5h9.4M253.7,2156.9V2158.0M249.0,2156.9h9.4M249.0,2158.0h9.4M266.1,2156.4V2157.5M261.4,2156.4h9.4M261.4,2157.5h9.4M278.5,2156.0V2157.1M273.8,2156.0h9.4M273.8,2157.1h9.4M291.0,2155.6V2156.7M286.3,2155.6h9.4M286.3,2156.7h9.4M303.4,2155.2V2156.3M298.7,2155.2h9.4M298.7,2156.3h9.4M315.9,2154.9V2156.0M311.2,2154.9h9.4M311.2,2156.0h9.4M328.3,2154.5V2155.7M323.6,2154.5h9.4M323.6,2155.7h9.4M340.7,2154.2V2155.3M336.0,2154.2h9.4M336.0,2155.3h9.4M353.2,2153.9V2155.1M348.5,2153.9h9.4M348.5,2155.1h9.4M365.6,2153.6V2154.8M360.9,2153.6h9.4M360.9,2154.8h9.4M378.0,2153.3V2154.5M373.3,2153.3h9.4M373.3,2154.5h9.4M390.5,2153.0V2154.2M385.8,2153.0h9.4M385.8,2154.2h9.4M402.9,2152.7V2153.9M398.2,2152.7h9.4M398.2,2153.9h9.4M415.3,2152.4V2153.5M410.6,2152.4h9.4M410.6,2153.5h9.4M427.8,2152.0V2153.2M423.1,2152.0h9.4M423.1,2153.2h9.4M440.2,2151.7V2152.9M435.5,2151.7h9.4M435.5,2152.9h9.4M452.7,2151.4V2152.6M448.0,2151.4h9.4M448.0,2152.6h9.4M465.1,2151.0V2152.2M460.4,2151.0h9.4M460.4,2152.2h9.4M477.5,2150.6V2151.9M472.8,2150.6h9.4M472.8,2151.9h9.4M490.0,2150.3V2151.5M485.3,2150.3h9.4M485.3,2151.5h9.4M502.4,2149.9V2151.1M497.7,2149.9h9.4M497.7,2151.1h9.4M514.8,2149.5V2150.8M510.1,2149.5h9.4M510.1,2150.8h9.4M527.3,2149.1V2150.4M522.6,2149.1h9.4M522.6,2150.4h9.4M539.7,2148.6V2150.0M535.0,2148.6h9.4M535.0,2150.0h9.4M552.1,2148.2V2149.6M547.4,2148.2h9.4M547.4,2149.6h9.4M564.6,2147.8V2149.1M559.9,2147.8h9.4M559.9,2149.1h9.4M577.0,2147.3V2148.7M572.3,2147.3h9.4M572.3,2148.7h9.4M589.5,2146.8V2148.3M584.8,2146.8h9.4M584.8,2148.3h9.4M601.9,2146.4V2147.8M597.2,2146.4h9.4M597.2,2147.8h9.4M614.3,2145.9V2147.4M609.6,2145.9h9.4M609.6,2147.4h9.4M626.8,2145.4V2146.9M622.1,2145.4h9.4M622.1,2146.9h9.4M639.2,2144.9V2146.4M634.5,2144.9h9.4M634.5,2146.4h9.4M651.6,2144.4V2145.9M646.9,2144.4h9.4M646.9,2145.9h9.4M664.1,2143.8V2145.4M659.4,2143.8h9.4M659.4,2145.4h9.4M676.5,2143.3V2144.9M671.8,2143.3h9.4M671.8,2144.9h9.4M688.9,2142.7V2144.3M684.2,2142.7h9.4M684.2,2144.3h9.4M701.4,2142.1V2143.8M696.7,2142.1h9.4M696.7,2143.8h9.4M713.8,2141.5V2143.2M709.1,2141.5h9.4M709.1,2143.2h9.4M726.3,2141.0V2142.7M721.6,2141.0h9.4M721.6,2142.7h9.4" fill="none" stroke="#e8383b" stroke-width="1.5"/>
<path d="M117.9,2183.2 119.8,2182.5 121.6,2181.8 123.5,2181.1 125.4,2180.4 127.3,2179.8 129.1,2179.2 131.1,2178.7 133.1,2178.2 135.1,2177.8 137.1,2177.4 139.1,2177.0 141.1,2176.7 143.0,2176.3 145.0,2176.0 147.0,2175.7 149.0,2175.4 151.0,2175.1 153.0,2174.9 154.8,2174.6 156.7,2174.4 158.6,2174.2 160.4,2174.0 162.3,2173.8 164.2,2173.7 166.0,2173.5 167.8,2173.3 169.7,2173.1 171.5,2172.9 173.3,2172.8 175.1,2172.6 176.9,2172.4 178.7,2172.3 180.5,2172.2 182.2,2172.0 184.0,2171.9 185.7,2171.8 187.5,2171.7 189.2,2171.6 190.9,2171.5 192.7,2171.4 194.7,2171.3 196.7,2171.1 198.6,2171.0 200.6,2170.9 202.6,2170.8 204.6,2170.7 207.1,2170.7 209.5,2170.6 211.6,2170.5 213.6,2170.4 215.6,2170.3 217.7,2170.3 219.7,2170.2 221.7,2170.1 223.7,2170.0 225.8,2169.9 227.8,2169.9 229.8,2169.8 231.9,2169.7 233.9,2169.6 235.9,2169.6 238.0,2169.5 240.0,2169.4 242.0,2169.4 244.1,2169.3 246.1,2169.3 248.1,2169.2 250.2,2169.1 252.2,2169.1 254.2,2169.0 256.3,2169.0 258.3,2168.9 260.3,2168.9 262.3,2168.8 264.4,2168.8 266.4,2168.7 268.4,2168.7 270.5,2168.6 272.5,2168.6 274.5,2168.5 276.6,2168.5 278.6,2168.4 280.6,2168.4 282.7,2168.3 284.7,2168.3 286.7,2168.3 288.8,2168.2 290.8,2168.2 292.8,2168.1 294.9,2168.1 296.9,2168.1 298.9,2168.0 301.0,2168.0 303.0,2167.9 305.0,2167.9 307.0,2167.9 309.1,2167.8 311.1,2167.8 313.1,2167.7 315.2,2167.7 317.2,2167.7 319.2,2167.6 321.3,2167.6 323.3,2167.6 325.3,2167.5 327.4,2167.5 329.4,2167.5 331.4,2167.4 333.5,2167.4 335.5,2167.3 337.5,2167.3 339.6,2167.3 341.6,2167.2 343.6,2167.2 345.6,2167.2 347.7,2167.1 349.7,2167.1 351.7,2167.1 353.8,2167.0 355.8,2167.0 357.8,2167.0 359.9,2166.9 361.9,2166.9 363.9,2166.9 366.0,2166.8 368.0,2166.8 370.0,2166.8 372.1,2166.7 374.1,2166.7 376.1,2166.7 378.2,2166.6 380.2,2166.6 382.2,2166.6 384.2,2166.5 386.3,2166.5 388.3,2166.5 390.3,2166.4 392.4,2166.4 394.4,2166.4 396.4,2166.3 398.5,2166.3 400.5,2166.3 402.5,2166.2 404.6,2166.2 406.6,2166.2 408.6,2166.1 410.7,2166.1 412.7,2166.0 414.7,2166.0 416.8,2166.0 418.8,2165.9 420.8,2165.9 422.9,2165.9 424.9,2165.8 426.9,2165.8 428.9,2165.7 431.0,2165.7 433.0,2165.7 435.0,2165.6 437.1,2165.6 439.1,2165.5 441.1,2165.5 443.2,2165.4 445.2,2165.4 447.2,2165.4 449.3,2165.3 451.3,2165.3 453.3,2165.2 455.4,2165.2 457.4,2165.1 459.4,2165.1 461.5,2165.0 463.5,2165.0 465.5,2165.0 467.5,2164.9 469.6,2164.9 471.6,2164.8 473.6,2164.8 475.7,2164.7 477.7,2164.7 479.7,2164.6 481.8,2164.6 483.8,2164.5 485.8,2164.5 487.9,2164.4 489.9,2164.4 491.9,2164.3 494.0,2164.3 496.0,2164.2 498.0,2164.2 500.1,2164.1 502.1,2164.1 504.1,2164.0 506.1,2164.0 508.2,2163.9 510.2,2163.9 512.2,2163.8 514.3,2163.8 516.3,2163.7 518.3,2163.6 520.4,2163.6 522.4,2163.5 524.4,2163.5 526.5,2163.4 528.5,2163.4 530.5,2163.3 532.6,2163.3 534.6,2163.2 536.6,2163.2 538.7,2163.1 540.7,2163.0 542.7,2163.0 544.8,2162.9 546.8,2162.9 548.8,2162.8 550.8,2162.8 552.9,2162.7 554.9,2162.6 556.9,2162.6 559.0,2162.5 561.0,2162.5 563.0,2162.4 565.1,2162.4 567.1,2162.3 569.1,2162.2 571.2,2162.2 573.2,2162.1 575.2,2162.1 577.3,2162.0 579.3,2161.9 581.3,2161.9 583.4,2161.8 585.4,2161.8 587.4,2161.7 589.4,2161.6 591.5,2161.6 593.5,2161.5 595.5,2161.5 597.6,2161.4 599.6,2161.3 601.6,2161.3 603.7,2161.2 605.7,2161.2 607.7,2161.1 609.8,2161.0 611.8,2161.0 613.8,2160.9 615.9,2160.8 617.9,2160.8 619.9,2160.7 622.0,2160.7 624.0,2160.6 626.0,2160.5 628.0,2160.5 630.1,2160.4 632.1,2160.4 634.1,2160.3 636.2,2160.2 638.2,2160.2 640.2,2160.1 642.3,2160.0 644.3,2160.0 646.3,2159.9 648.4,2159.9 650.4,2159.8 652.4,2159.7 654.5,2159.7 656.5,2159.6 658.5,2159.5 660.6,2159.5 662.6,2159.4 664.6,2159.4 666.7,2159.3 668.7,2159.2 670.7,2159.2 672.7,2159.1 674.8,2159.0 676.8,2159.0 678.8,2158.9 680.9,2158.9 682.9,2158.8 684.9,2158.7 687.0,2158.7 689.0,2158.6 691.0,2158.6 693.1,2158.5 695.1,2158.4 697.1,2158.4 699.2,2158.3 701.2,2158.2 703.2,2158.2 705.3,2158.1 707.3,2158.1 709.3,2158.0 711.3,2157.9 713.4,2157.9 715.4,2157.8 717.4,2157.8 719.5,2157.7 721.5,2157.6 723.8,2157.6 726.1,2157.5" fill="none" stroke="#0a5ad2" stroke-width="3.0" stroke-linejoin="round"/>
<path d="M539.7,2162.6V2163.6M535.0,2162.6h9.4M535.0,2163.6h9.4M552.1,2162.2V2163.2M547.4,2162.2h9.4M547.4,2163.2h9.4M564.6,2161.8V2162.9M559.9,2161.8h9.4M559.9,2162.9h9.4M577.0,2161.5V2162.5M572.3,2161.5h9.4M572.3,2162.5h9.4M589.5,2161.1V2162.2M584.8,2161.1h9.4M584.8,2162.2h9.4M601.9,2160.7V2161.8M597.2,2160.7h9.4M597.2,2161.8h9.4M614.3,2160.3V2161.5M609.6,2160.3h9.4M609.6,2161.5h9.4M626.8,2159.9V2161.1M622.1,2159.9h9.4M622.1,2161.1h9.4M639.2,2159.6V2160.7M634.5,2159.6h9.4M634.5,2160.7h9.4M651.6,2159.2V2160.4M646.9,2159.2h9.4M646.9,2160.4h9.4M664.1,2158.8V2160.0M659.4,2158.8h9.4M659.4,2160.0h9.4M676.5,2158.4V2159.6M671.8,2158.4h9.4M671.8,2159.6h9.4M688.9,2158.0V2159.2M684.2,2158.0h9.4M684.2,2159.2h9.4M701.4,2157.6V2158.9M696.7,2157.6h9.4M696.7,2158.9h9.4M713.8,2157.2V2158.5M709.1,2157.2h9.4M709.1,2158.5h9.4M726.3,2156.8V2158.1M721.6,2156.8h9.4M721.6,2158.1h9.4" fill="none" stroke="#0a5ad2" stroke-width="1.5"/>
<path d="M117.9,2183.6 119.8,2182.9 121.6,2182.2 123.5,2181.5 125.4,2180.8 127.3,2180.2 129.1,2179.7 131.1,2179.3 133.1,2178.9 135.1,2178.6 137.1,2178.3 139.1,2178.0 141.1,2177.7 143.0,2177.4 145.0,2177.2 147.0,2176.9 149.0,2176.7 151.0,2176.4 153.0,2176.2 154.8,2176.0 156.7,2175.8 158.6,2175.6 160.4,2175.4 162.3,2175.2 164.2,2175.0 166.0,2174.9 167.8,2174.7 169.7,2174.6 171.5,2174.5 173.3,2174.3 175.1,2174.2 176.9,2174.1 178.7,2174.0 180.5,2173.9 182.2,2173.8 184.0,2173.7 185.7,2173.6 187.5,2173.5 189.2,2173.4 190.9,2173.3 192.7,2173.2 194.7,2173.1 196.7,2173.0 198.6,2172.8 200.6,2172.7 202.6,2172.7 204.6,2172.6 207.1,2172.6 209.5,2172.6 211.6,2172.5 213.6,2172.4 215.6,2172.3 217.7,2172.3 219.7,2172.2 221.7,2172.1 223.7,2172.0 225.8,2172.0 227.8,2171.9 229.8,2171.8 231.9,2171.8 233.9,2171.7 235.9,2171.6 238.0,2171.6 240.0,2171.5 242.0,2171.4 244.1,2171.4 246.1,2171.3 248.1,2171.3 250.2,2171.2 252.2,2171.1 254.2,2171.1 256.3,2171.0 258.3,2171.0 260.3,2170.9 262.3,2170.9 264.4,2170.8 266.4,2170.8 268.4,2170.7 270.5,2170.7 272.5,2170.6 274.5,2170.6 276.6,2170.5 278.6,2170.5 280.6,2170.4 282.7,2170.4 284.7,2170.3 286.7,2170.3 288.8,2170.2 290.8,2170.2 292.8,2170.1 294.9,2170.1 296.9,2170.1 298.9,2170.0 301.0,2170.0 303.0,2169.9 305.0,2169.9 307.0,2169.8 309.1,2169.8 311.1,2169.8 313.1,2169.7 315.2,2169.7 317.2,2169.6 319.2,2169.6 321.3,2169.6 323.3,2169.5 325.3,2169.5 327.4,2169.4 329.4,2169.4 331.4,2169.4 333.5,2169.3 335.5,2169.3 337.5,2169.2 339.6,2169.2 341.6,2169.2 343.6,2169.1 345.6,2169.1 347.7,2169.0 349.7,2169.0 351.7,2169.0 353.8,2168.9 355.8,2168.9 357.8,2168.9 359.9,2168.8 361.9,2168.8 363.9,2168.8 366.0,2168.7 368.0,2168.7 370.0,2168.6 372.1,2168.6 374.1,2168.6 376.1,2168.5 378.2,2168.5 380.2,2168.5 382.2,2168.4 384.2,2168.4 386.3,2168.3 388.3,2168.3 390.3,2168.3 392.4,2168.2 394.4,2168.2 396.4,2168.2 398.5,2168.1 400.5,2168.1 402.5,2168.0 404.6,2168.0 406.6,2168.0 408.6,2167.9 410.7,2167.9 412.7,2167.8 414.7,2167.8 416.8,2167.8 418.8,2167.7 420.8,2167.7 422.9,2167.6 424.9,2167.6 426.9,2167.6 428.9,2167.5 431.0,2167.5 433.0,2167.4 435.0,2167.4 437.1,2167.3 439.1,2167.3 441.1,2167.3 443.2,2167.2 445.2,2167.2 447.2,2167.1 449.3,2167.1 451.3,2167.0 453.3,2167.0 455.4,2166.9 457.4,2166.9 459.4,2166.8 461.5,2166.8 463.5,2166.8 465.5,2166.7 467.5,2166.7 469.6,2166.6 471.6,2166.6 473.6,2166.5 475.7,2166.5 477.7,2166.4 479.7,2166.4 481.8,2166.3 483.8,2166.3 485.8,2166.2 487.9,2166.2 489.9,2166.1 491.9,2166.1 494.0,2166.0 496.0,2166.0 498.0,2165.9 500.1,2165.9 502.1,2165.8 504.1,2165.8 506.1,2165.7 508.2,2165.6 510.2,2165.6 512.2,2165.5 514.3,2165.5 516.3,2165.4 518.3,2165.4 520.4,2165.3 522.4,2165.3 524.4,2165.2 526.5,2165.2 528.5,2165.1 530.5,2165.1 532.6,2165.0 534.6,2164.9 536.6,2164.9 538.7,2164.8 540.7,2164.8 542.7,2164.7 544.8,2164.7 546.8,2164.6 548.8,2164.6 550.8,2164.5 552.9,2164.4 554.9,2164.4 556.9,2164.3 559.0,2164.3 561.0,2164.2 563.0,2164.2 565.1,2164.1 567.1,2164.0 569.1,2164.0 571.2,2163.9 573.2,2163.9 575.2,2163.8 577.3,2163.7 579.3,2163.7 581.3,2163.6 583.4,2163.6 585.4,2163.5 587.4,2163.5 589.4,2163.4 591.5,2163.3 593.5,2163.3 595.5,2163.2 597.6,2163.2 599.6,2163.1 601.6,2163.0 603.7,2163.0 605.7,2162.9 607.7,2162.9 609.8,2162.8 611.8,2162.7 613.8,2162.7 615.9,2162.6 617.9,2162.6 619.9,2162.5 622.0,2162.4 624.0,2162.4 626.0,2162.3 628.0,2162.2 630.1,2162.2 632.1,2162.1 634.1,2162.1 636.2,2162.0 638.2,2161.9 640.2,2161.9 642.3,2161.8 644.3,2161.8 646.3,2161.7 648.4,2161.6 650.4,2161.6 652.4,2161.5 654.5,2161.5 656.5,2161.4 658.5,2161.3 660.6,2161.3 662.6,2161.2 664.6,2161.1 666.7,2161.1 668.7,2161.0 670.7,2161.0 672.7,2160.9 674.8,2160.8 676.8,2160.8 678.8,2160.7 680.9,2160.7 682.9,2160.6 684.9,2160.5 687.0,2160.5 689.0,2160.4 691.0,2160.3 693.1,2160.3 695.1,2160.2 697.1,2160.2 699.2,2160.1 701.2,2160.0 703.2,2160.0 705.3,2159.9 707.3,2159.9 709.3,2159.8 711.3,2159.7 713.4,2159.7 715.4,2159.6 717.4,2159.5 719.5,2159.5 721.5,2159.4 723.8,2159.4 726.1,2159.3" fill="none" stroke="#2ca25e" stroke-width="3.0" stroke-linejoin="round"/>
<path d="M601.9,2162.5V2163.5M597.2,2162.5h9.4M597.2,2163.5h9.4M614.3,2162.1V2163.2M609.6,2162.1h9.4M609.6,2163.2h9.4M626.8,2161.8V2162.8M622.1,2161.8h9.4M622.1,2162.8h9.4M639.2,2161.4V2162.4M634.5,2161.4h9.4M634.5,2162.4h9.4M651.6,2161.0V2162.1M646.9,2161.0h9.4M646.9,2162.1h9.4M664.1,2160.6V2161.7M659.4,2160.6h9.4M659.4,2161.7h9.4M676.5,2160.2V2161.3M671.8,2160.2h9.4M671.8,2161.3h9.4M688.9,2159.8V2161.0M684.2,2159.8h9.4M684.2,2161.0h9.4M701.4,2159.5V2160.6M696.7,2159.5h9.4M696.7,2160.6h9.4M713.8,2159.1V2160.2M709.1,2159.1h9.4M709.1,2160.2h9.4M726.3,2158.7V2159.9M721.6,2158.7h9.4M721.6,2159.9h9.4" fill="none" stroke="#2ca25e" stroke-width="1.5"/>
<path d="M949.7,564.2 951.4,558.4 953.1,552.4 954.8,546.4 956.6,540.5 958.3,534.8 960.0,529.5 961.7,524.8 963.4,520.5 965.1,516.5 966.8,512.7 968.6,509.1 970.3,505.7 972.0,502.5 973.7,499.4 975.5,496.3 977.3,493.3 979.1,490.5 981.0,487.9 982.8,485.3 984.6,482.8 986.4,480.3 988.4,477.7 990.4,475.2 992.3,472.7 994.3,470.4 996.3,468.1 998.3,465.9 1000.0,464.0 1001.7,462.2 1003.4,460.4 1005.2,458.7 1006.9,457.0 1008.6,455.5 1010.3,454.0 1012.1,452.6 1013.9,451.2 1015.7,450.0 1017.6,448.7 1019.4,447.5 1021.2,446.4 1023.0,445.2 1024.8,444.0 1026.7,442.8 1028.5,441.6 1030.3,440.4 1032.1,439.3 1034.0,438.2 1035.8,437.3 1037.6,436.6 1039.3,435.9 1041.1,435.2 1043.1,434.1 1045.2,433.0 1047.2,431.9 1049.2,430.8 1051.2,429.7 1053.3,428.7 1055.3,427.7 1057.3,426.6 1059.3,425.6 1061.4,424.7 1063.4,423.7 1065.4,422.7 1067.4,421.8 1069.5,420.9 1071.5,419.9 1073.5,419.0 1075.6,418.1 1077.6,417.2 1079.6,416.4 1081.6,415.5 1083.7,414.6 1085.7,413.8 1087.7,413.0 1089.7,412.1 1091.8,411.3 1093.8,410.5 1095.8,409.7 1097.8,408.9 1099.9,408.1 1101.9,407.3 1103.9,406.5 1106.0,405.8 1108.0,405.0 1110.0,404.2 1112.0,403.5 1114.1,402.7 1116.1,402.0 1118.1,401.2 1120.1,400.5 1122.2,399.7 1124.2,399.0 1126.2,398.3 1128.2,397.5 1130.3,396.8 1132.3,396.1 1134.3,395.3 1136.4,394.6 1138.4,393.9 1140.4,393.2 1142.4,392.5 1144.5,391.8 1146.5,391.0 1148.5,390.3 1150.5,389.6 1152.6,388.9 1154.6,388.2 1156.6,387.5 1158.6,386.8 1160.7,386.1 1162.7,385.4 1164.7,384.7 1166.8,384.1 1168.8,383.4 1170.8,382.7 1172.8,382.0 1174.9,381.3 1176.9,380.6 1178.9,380.0 1180.9,379.3 1183.0,378.6 1185.0,377.9 1187.0,377.2 1189.0,376.6 1191.1,375.9 1193.1,375.2 1195.1,374.6 1197.2,373.9 1199.2,373.2 1201.2,372.6 1203.2,371.9 1205.3,371.2 1207.3,370.6 1209.3,369.9 1211.3,369.2 1213.4,368.6 1215.4,367.9 1217.4,367.2 1219.4,366.6 1221.5,365.9 1223.5,365.3 1225.5,364.6 1227.6,363.9 1229.6,363.3 1231.6,362.6 1233.6,362.0 1235.7,361.3 1237.7,360.7 1239.7,360.0 1241.7,359.3 1243.8,358.7 1245.8,358.0 1247.8,357.4 1249.8,356.7 1251.9,356.1 1253.9,355.4 1255.9,354.7 1258.0,354.1 1260.0,353.4 1262.0,352.8 1264.0,352.1 1266.1,351.4 1268.1,350.8 1270.1,350.1 1272.1,349.5 1274.2,348.8 1276.2,348.1 1278.2,347.5 1280.2,346.8 1282.3,346.1 1284.3,345.5 1286.3,344.8 1288.4,344.1 1290.4,343.5 1292.4,342.8 1294.4,342.1 1296.5,341.4 1298.5,340.8 1300.5,340.1 1302.5,339.4 1304.6,338.7 1306.6,338.0 1308.6,337.4 1310.6,336.7 1312.7,336.0 1314.7,335.3 1316.7,334.6 1318.8,333.9 1320.8,333.2 1322.8,332.5 1324.8,331.9 1326.9,331.2 1328.9,330.5 1330.9,329.8 1332.9,329.1 1335.0,328.4 1337.0,327.7 1339.0,326.9 1341.0,326.2 1343.1,325.5 1345.1,324.8 1347.1,324.1 1349.2,323.4 1351.2,322.7 1353.2,322.0 1355.2,321.2 1357.3,320.5 1359.3,319.8 1361.3,319.1 1363.3,318.4 1365.4,317.6 1367.4,316.9 1369.4,316.2 1371.4,315.4 1373.5,314.7 1375.5,314.0 1377.5,313.2 1379.6,312.5 1381.6,311.7 1383.6,311.0 1385.6,310.3 1387.7,309.5 1389.7,308.8 1391.7,308.0 1393.7,307.3 1395.8,306.5 1397.8,305.7 1399.8,305.0 1401.8,304.2 1403.9,303.5 1405.9,302.7 1407.9,301.9 1410.0,301.2 1412.0,300.4 1414.0,299.6 1416.0,298.8 1418.1,298.1 1420.1,297.3 1422.1,296.5 1424.1,295.7 1426.2,294.9 1428.2,294.1 1430.2,293.3 1432.2,292.6 1434.3,291.8 1436.3,291.0 1438.3,290.2 1440.4,289.4 1442.4,288.6 1444.4,287.8 1446.4,286.9 1448.5,286.1 1450.5,285.3 1452.5,284.5 1454.5,283.7 1456.6,282.9 1458.6,282.1 1460.6,281.2 1462.6,280.4 1464.7,279.6 1466.7,278.7 1468.7,277.9 1470.8,277.1 1472.8,276.2 1474.8,275.4 1476.8,274.6 1478.9,273.7 1480.9,272.9 1482.9,272.0 1484.9,271.2 1487.0,270.3 1489.0,269.4 1491.0,268.6 1493.0,267.7 1495.1,266.9 1497.1,266.0 1499.1,265.1 1501.2,264.3 1503.2,263.4 1505.2,262.5 1507.2,261.6 1509.3,260.7 1511.3,259.9 1513.3,259.0 1515.3,258.1 1517.4,257.2 1519.4,256.3 1521.4,255.4 1523.4,254.5 1525.5,253.6 1527.5,252.7 1529.5,251.8 1531.6,250.8 1533.6,249.9 1535.6,249.0 1537.6,248.1 1539.7,247.2 1541.6,246.3 1543.5,245.4 1545.4,244.5" fill="none" stroke="#2ca25e" stroke-width="2.5" stroke-linejoin="round"/>
<path d="M961.9,521.3V527.3M957.2,521.3h9.4M957.2,527.3h9.4M974.3,495.4V501.4M969.6,495.4h9.4M969.6,501.4h9.4M986.6,477.0V483.0M981.9,477.0h9.4M981.9,483.0h9.4M999.0,462.1V468.2M994.3,462.1h9.4M994.3,468.2h9.4M1011.4,450.1V456.2M1006.7,450.1h9.4M1006.7,456.2h9.4M1023.8,441.6V447.7M1019.1,441.6h9.4M1019.1,447.7h9.4M1036.1,434.1V440.2M1031.4,434.1h9.4M1031.4,440.2h9.4M1048.5,428.1V434.2M1043.8,428.1h9.4M1043.8,434.2h9.4M1060.9,421.8V428.0M1056.2,421.8h9.4M1056.2,428.0h9.4M1073.3,416.0V422.2M1068.6,416.0h9.4M1068.6,422.2h9.4M1085.6,410.7V416.9M1080.9,410.7h9.4M1080.9,416.9h9.4M1098.0,405.7V411.9M1093.3,405.7h9.4M1093.3,411.9h9.4M1110.4,401.0V407.2M1105.7,401.0h9.4M1105.7,407.2h9.4M1122.7,396.4V402.7M1118.0,396.4h9.4M1118.0,402.7h9.4M1135.1,391.9V398.2M1130.4,391.9h9.4M1130.4,398.2h9.4M1147.5,387.5V393.9M1142.8,387.5h9.4M1142.8,393.9h9.4M1159.9,383.2V389.6M1155.2,383.2h9.4M1155.2,389.6h9.4M1172.2,379.0V385.4M1167.5,379.0h9.4M1167.5,385.4h9.4M1184.6,374.8V381.2M1179.9,374.8h9.4M1179.9,381.2h9.4M1197.0,370.7V377.2M1192.3,370.7h9.4M1192.3,377.2h9.4M1209.4,366.7V373.1M1204.7,366.7h9.4M1204.7,373.1h9.4M1221.7,362.6V369.1M1217.0,362.6h9.4M1217.0,369.1h9.4M1234.1,358.6V365.1M1229.4,358.6h9.4M1229.4,365.1h9.4M1246.5,354.6V361.1M1241.8,354.6h9.4M1241.8,361.1h9.4M1258.8,350.5V357.1M1254.1,350.5h9.4M1254.1,357.1h9.4M1271.2,346.5V353.0M1266.5,346.5h9.4M1266.5,353.0h9.4M1283.6,342.4V349.0M1278.9,342.4h9.4M1278.9,349.0h9.4M1296.0,338.3V344.9M1291.3,338.3h9.4M1291.3,344.9h9.4M1308.3,334.1V340.8M1303.6,334.1h9.4M1303.6,340.8h9.4M1320.7,329.9V336.6M1316.0,329.9h9.4M1316.0,336.6h9.4M1333.1,325.6V332.4M1328.4,325.6h9.4M1328.4,332.4h9.4M1345.5,321.2V328.1M1340.8,321.2h9.4M1340.8,328.1h9.4M1357.8,316.8V323.8M1353.1,316.8h9.4M1353.1,323.8h9.4M1370.2,312.3V319.4M1365.5,312.3h9.4M1365.5,319.4h9.4M1382.6,307.8V315.0M1377.9,307.8h9.4M1377.9,315.0h9.4M1394.9,303.2V310.4M1390.2,303.2h9.4M1390.2,310.4h9.4M1407.3,298.5V305.8M1402.6,298.5h9.4M1402.6,305.8h9.4M1419.7,293.7V301.1M1415.0,293.7h9.4M1415.0,301.1h9.4M1432.1,288.9V296.4M1427.4,288.9h9.4M1427.4,296.4h9.4M1444.4,284.0V291.5M1439.7,284.0h9.4M1439.7,291.5h9.4M1456.8,278.9V286.7M1452.1,278.9h9.4M1452.1,286.7h9.4M1469.2,273.7V281.7M1464.5,273.7h9.4M1464.5,281.7h9.4M1481.6,268.4V276.7M1476.9,268.4h9.4M1476.9,276.7h9.4M1493.9,263.0V271.7M1489.2,263.0h9.4M1489.2,271.7h9.4M1506.3,257.6V266.5M1501.6,257.6h9.4M1501.6,266.5h9.4M1518.7,252.0V261.2M1514.0,252.0h9.4M1514.0,261.2h9.4M1531.1,246.3V255.8M1526.4,246.3h9.4M1526.4,255.8h9.4M1543.4,240.6V250.3M1538.7,240.6h9.4M1538.7,250.3h9.4" fill="none" stroke="#2ca25e" stroke-width="1.5"/>
<path d="M949.7,564.2 951.4,557.1 953.1,549.8 954.8,542.4 956.6,535.1 958.3,528.2 960.0,521.8 961.7,516.1 963.4,511.1 965.1,506.4 966.8,502.0 968.6,497.9 970.3,494.0 972.0,490.2 973.7,486.6 975.5,482.9 977.3,479.3 979.1,476.0 981.0,472.7 982.8,469.5 984.6,466.5 986.4,463.5 988.4,460.3 990.4,457.2 992.3,454.2 994.3,451.3 996.3,448.5 998.3,446.0 1000.0,443.9 1001.7,441.9 1003.4,440.0 1005.2,438.2 1006.9,436.5 1008.6,434.9 1010.3,433.3 1012.1,431.7 1013.9,430.3 1015.7,428.9 1017.6,427.6 1019.4,426.3 1021.2,425.0 1023.0,423.7 1024.8,422.4 1026.7,421.1 1028.5,419.8 1030.3,418.5 1032.1,417.3 1034.0,416.1 1035.8,415.0 1037.6,414.1 1039.3,413.2 1041.1,412.3 1043.1,411.1 1045.2,409.9 1047.2,408.7 1049.2,407.5 1051.2,406.4 1053.3,405.3 1055.3,404.2 1057.3,403.2 1059.3,402.1 1061.4,401.1 1063.4,400.1 1065.4,399.1 1067.4,398.1 1069.5,397.2 1071.5,396.3 1073.5,395.3 1075.6,394.4 1077.6,393.5 1079.6,392.7 1081.6,391.8 1083.7,391.0 1085.7,390.2 1087.7,389.3 1089.7,388.5 1091.8,387.7 1093.8,387.0 1095.8,386.2 1097.8,385.5 1099.9,384.7 1101.9,384.0 1103.9,383.3 1106.0,382.6 1108.0,381.9 1110.0,381.2 1112.0,380.5 1114.1,379.8 1116.1,379.1 1118.1,378.5 1120.1,377.8 1122.2,377.2 1124.2,376.5 1126.2,375.9 1128.2,375.3 1130.3,374.6 1132.3,374.0 1134.3,373.4 1136.4,372.8 1138.4,372.2 1140.4,371.6 1142.4,371.0 1144.5,370.4 1146.5,369.8 1148.5,369.2 1150.5,368.6 1152.6,368.0 1154.6,367.4 1156.6,366.8 1158.6,366.2 1160.7,365.6 1162.7,365.0 1164.7,364.4 1166.8,363.8 1168.8,363.2 1170.8,362.6 1172.8,362.0 1174.9,361.4 1176.9,360.8 1178.9,360.2 1180.9,359.6 1183.0,359.0 1185.0,358.4 1187.0,357.8 1189.0,357.2 1191.1,356.6 1193.1,356.0 1195.1,355.4 1197.2,354.8 1199.2,354.2 1201.2,353.6 1203.2,353.0 1205.3,352.4 1207.3,351.8 1209.3,351.2 1211.3,350.6 1213.4,350.0 1215.4,349.4 1217.4,348.8 1219.4,348.2 1221.5,347.6 1223.5,347.0 1225.5,346.4 1227.6,345.8 1229.6,345.2 1231.6,344.6 1233.6,344.0 1235.7,343.4 1237.7,342.8 1239.7,342.1 1241.7,341.5 1243.8,340.9 1245.8,340.3 1247.8,339.7 1249.8,339.1 1251.9,338.5 1253.9,337.9 1255.9,337.2 1258.0,336.6 1260.0,336.0 1262.0,335.4 1264.0,334.8 1266.1,334.1 1268.1,333.5 1270.1,332.9 1272.1,332.3 1274.2,331.6 1276.2,331.0 1278.2,330.4 1280.2,329.7 1282.3,329.1 1284.3,328.5 1286.3,327.8 1288.4,327.2 1290.4,326.6 1292.4,325.9 1294.4,325.3 1296.5,324.6 1298.5,324.0 1300.5,323.3 1302.5,322.7 1304.6,322.0 1306.6,321.4 1308.6,320.7 1310.6,320.1 1312.7,319.4 1314.7,318.8 1316.7,318.1 1318.8,317.4 1320.8,316.8 1322.8,316.1 1324.8,315.4 1326.9,314.8 1328.9,314.1 1330.9,313.4 1332.9,312.8 1335.0,312.1 1337.0,311.4 1339.0,310.7 1341.0,310.0 1343.1,309.4 1345.1,308.7 1347.1,308.0 1349.2,307.3 1351.2,306.6 1353.2,305.9 1355.2,305.2 1357.3,304.5 1359.3,303.8 1361.3,303.1 1363.3,302.4 1365.4,301.7 1367.4,301.0 1369.4,300.3 1371.4,299.6 1373.5,298.9 1375.5,298.2 1377.5,297.5 1379.6,296.8 1381.6,296.0 1383.6,295.3 1385.6,294.6 1387.7,293.9 1389.7,293.2 1391.7,292.4 1393.7,291.7 1395.8,291.0 1397.8,290.2 1399.8,289.5 1401.8,288.8 1403.9,288.0 1405.9,287.3 1407.9,286.5 1410.0,285.8 1412.0,285.1 1414.0,284.3 1416.0,283.6 1418.1,282.8 1420.1,282.1 1422.1,281.3 1424.1,280.5 1426.2,279.8 1428.2,279.0 1430.2,278.3 1432.2,277.5 1434.3,276.7 1436.3,276.0 1438.3,275.2 1440.4,274.4 1442.4,273.7 1444.4,272.9 1446.4,272.1 1448.5,271.3 1450.5,270.5 1452.5,269.8 1454.5,269.0 1456.6,268.2 1458.6,267.4 1460.6,266.6 1462.6,265.8 1464.7,265.0 1466.7,264.2 1468.7,263.4 1470.8,262.6 1472.8,261.8 1474.8,261.0 1476.8,260.2 1478.9,259.4 1480.9,258.6 1482.9,257.8 1484.9,257.0 1487.0,256.1 1489.0,255.3 1491.0,254.5 1493.0,253.7 1495.1,252.9 1497.1,252.0 1499.1,251.2 1501.2,250.4 1503.2,249.5 1505.2,248.7 1507.2,247.9 1509.3,247.0 1511.3,246.2 1513.3,245.3 1515.3,244.5 1517.4,243.7 1519.4,242.8 1521.4,242.0 1523.4,241.1 1525.5,240.2 1527.5,239.4 1529.5,238.5 1531.6,237.7 1533.6,236.8 1535.6,235.9 1537.6,235.1 1539.7,234.2 1541.6,233.4 1543.5,232.6 1545.4,231.7" fill="none" stroke="#0a5ad2" stroke-width="2.5" stroke-linejoin="round"/>
<path d="M961.9,512.3V518.7M957.2,512.3h9.4M957.2,518.7h9.4M974.3,482.2V488.7M969.6,482.2h9.4M969.6,488.7h9.4M986.6,459.8V466.4M981.9,459.8h9.4M981.9,466.4h9.4M999.0,441.8V448.5M994.3,441.8h9.4M994.3,448.5h9.4M1011.4,429.0V435.7M1006.7,429.0h9.4M1006.7,435.7h9.4M1023.8,419.7V426.6M1019.1,419.7h9.4M1019.1,426.6h9.4M1036.1,411.4V418.3M1031.4,411.4h9.4M1031.4,418.3h9.4M1048.5,404.4V411.4M1043.8,404.4h9.4M1043.8,411.4h9.4M1060.9,397.8V404.9M1056.2,397.8h9.4M1056.2,404.9h9.4M1073.3,391.9V399.0M1068.6,391.9h9.4M1068.6,399.0h9.4M1085.6,386.6V393.8M1080.9,386.6h9.4M1080.9,393.8h9.4M1098.0,381.7V389.1M1093.3,381.7h9.4M1093.3,389.1h9.4M1110.4,377.3V384.7M1105.7,377.3h9.4M1105.7,384.7h9.4M1122.7,373.2V380.7M1118.0,373.2h9.4M1118.0,380.7h9.4M1135.1,369.4V376.9M1130.4,369.4h9.4M1130.4,376.9h9.4M1147.5,365.6V373.3M1142.8,365.6h9.4M1142.8,373.3h9.4M1159.9,362.0V369.7M1155.2,362.0h9.4M1155.2,369.7h9.4M1172.2,358.3V366.1M1167.5,358.3h9.4M1167.5,366.1h9.4M1184.6,354.6V362.5M1179.9,354.6h9.4M1179.9,362.5h9.4M1197.0,350.9V358.9M1192.3,350.9h9.4M1192.3,358.9h9.4M1209.4,347.2V355.2M1204.7,347.2h9.4M1204.7,355.2h9.4M1221.7,343.5V351.6M1217.0,343.5h9.4M1217.0,351.6h9.4M1234.1,339.7V348.0M1229.4,339.7h9.4M1229.4,348.0h9.4M1246.5,335.9V344.3M1241.8,335.9h9.4M1241.8,344.3h9.4M1258.8,332.1V340.5M1254.1,332.1h9.4M1254.1,340.5h9.4M1271.2,328.3V336.8M1266.5,328.3h9.4M1266.5,336.8h9.4M1283.6,324.4V333.0M1278.9,324.4h9.4M1278.9,333.0h9.4M1296.0,320.5V329.1M1291.3,320.5h9.4M1291.3,329.1h9.4M1308.3,316.4V325.2M1303.6,316.4h9.4M1303.6,325.2h9.4M1320.7,312.4V321.2M1316.0,312.4h9.4M1316.0,321.2h9.4M1333.1,308.2V317.2M1328.4,308.2h9.4M1328.4,317.2h9.4M1345.5,304.0V313.1M1340.8,304.0h9.4M1340.8,313.1h9.4M1357.8,299.8V308.9M1353.1,299.8h9.4M1353.1,308.9h9.4M1370.2,295.4V304.6M1365.5,295.4h9.4M1365.5,304.6h9.4M1382.6,291.0V300.3M1377.9,291.0h9.4M1377.9,300.3h9.4M1394.9,286.6V295.9M1390.2,286.6h9.4M1390.2,295.9h9.4M1407.3,282.0V291.5M1402.6,282.0h9.4M1402.6,291.5h9.4M1419.7,277.4V287.0M1415.0,277.4h9.4M1415.0,287.0h9.4M1432.1,272.8V282.4M1427.4,272.8h9.4M1427.4,282.4h9.4M1444.4,268.0V277.7M1439.7,268.0h9.4M1439.7,277.7h9.4M1456.8,263.2V272.9M1452.1,263.2h9.4M1452.1,272.9h9.4M1469.2,258.4V268.1M1464.5,258.4h9.4M1464.5,268.1h9.4M1481.6,253.4V263.2M1476.9,253.4h9.4M1476.9,263.2h9.4M1493.9,248.4V258.2M1489.2,248.4h9.4M1489.2,258.2h9.4M1506.3,243.3V253.2M1501.6,243.3h9.4M1501.6,253.2h9.4M1518.7,238.1V248.1M1514.0,238.1h9.4M1514.0,248.1h9.4M1531.1,232.9V242.9M1526.4,232.9h9.4M1526.4,242.9h9.4M1543.4,227.6V237.6M1538.7,227.6h9.4M1538.7,237.6h9.4" fill="none" stroke="#0a5ad2" stroke-width="1.5"/>
<path d="M949.7,564.2 951.7,551.5 953.7,538.4 955.7,525.3 957.7,512.6 959.7,500.7 961.7,490.1 963.4,481.7 965.2,473.7 966.9,466.1 968.7,459.0 970.4,452.3 972.2,446.0 973.9,440.1 975.7,434.6 977.4,429.5 979.2,424.6 980.9,420.0 982.7,415.7 984.4,411.4 986.2,407.3 988.2,402.7 990.2,398.4 992.2,394.2 994.3,390.1 996.3,386.2 998.3,382.3 1000.3,378.4 1002.3,374.6 1004.3,370.9 1006.3,367.3 1008.3,363.9 1010.3,360.8 1012.1,358.2 1013.9,355.9 1015.7,353.6 1017.5,351.4 1019.3,349.3 1021.1,347.2 1022.9,345.2 1024.7,343.1 1026.5,341.1 1028.3,339.0 1030.2,337.1 1032.0,335.2 1033.8,333.4 1035.6,331.8 1037.4,330.4 1039.3,329.1 1041.1,327.8 1043.1,326.0 1045.2,324.2 1047.2,322.4 1049.2,320.6 1051.2,319.0 1053.3,317.3 1055.3,315.7 1057.3,314.2 1059.3,312.6 1061.4,311.2 1063.4,309.7 1065.4,308.3 1067.4,306.9 1069.5,305.6 1071.5,304.2 1073.5,303.0 1075.6,301.7 1077.6,300.5 1079.6,299.3 1081.6,298.1 1083.7,296.9 1085.7,295.8 1087.7,294.7 1089.7,293.6 1091.8,292.6 1093.8,291.6 1095.8,290.6 1097.8,289.6 1099.9,288.6 1101.9,287.7 1103.9,286.8 1106.0,285.9 1108.0,285.0 1110.0,284.1 1112.0,283.3 1114.1,282.4 1116.1,281.6 1118.1,280.8 1120.1,280.0 1122.2,279.2 1124.2,278.5 1126.2,277.7 1128.2,277.0 1130.3,276.2 1132.3,275.5 1134.3,274.8 1136.4,274.1 1138.4,273.4 1140.4,272.7 1142.4,272.0 1144.5,271.3 1146.5,270.6 1148.5,270.0 1150.5,269.3 1152.6,268.6 1154.6,267.9 1156.6,267.3 1158.6,266.6 1160.7,266.0 1162.7,265.3 1164.7,264.7 1166.8,264.0 1168.8,263.4 1170.8,262.7 1172.8,262.1 1174.9,261.4 1176.9,260.8 1178.9,260.2 1180.9,259.5 1183.0,258.9 1185.0,258.3 1187.0,257.7 1189.0,257.0 1191.1,256.4 1193.1,255.8 1195.1,255.2 1197.2,254.6 1199.2,254.0 1201.2,253.3 1203.2,252.7 1205.3,252.1 1207.3,251.5 1209.3,250.9 1211.3,250.3 1213.4,249.7 1215.4,249.1 1217.4,248.5 1219.4,247.9 1221.5,247.3 1223.5,246.7 1225.5,246.1 1227.6,245.5 1229.6,244.9 1231.6,244.3 1233.6,243.7 1235.7,243.1 1237.7,242.5 1239.7,241.9 1241.7,241.3 1243.8,240.7 1245.8,240.1 1247.8,239.5 1249.8,238.9 1251.9,238.3 1253.9,237.7 1255.9,237.1 1258.0,236.5 1260.0,235.9 1262.0,235.3 1264.0,234.7 1266.1,234.1 1268.1,233.5 1270.1,232.8 1272.1,232.2 1274.2,231.6 1276.2,231.0 1278.2,230.4 1280.2,229.8 1282.3,229.2 1284.3,228.6 1286.3,227.9 1288.4,227.3 1290.4,226.7 1292.4,226.1 1294.4,225.5 1296.5,224.8 1298.5,224.2 1300.5,223.6 1302.5,222.9 1304.6,222.3 1306.6,221.7 1308.6,221.0 1310.6,220.4 1312.7,219.8 1314.7,219.1 1316.7,218.5 1318.8,217.8 1320.8,217.2 1322.8,216.5 1324.8,215.9 1326.9,215.2 1328.9,214.6 1330.9,213.9 1332.9,213.3 1335.0,212.6 1337.0,211.9 1339.0,211.3 1341.0,210.6 1343.1,209.9 1345.1,209.3 1347.1,208.6 1349.2,207.9 1351.2,207.2 1353.2,206.6 1355.2,205.9 1357.3,205.2 1359.3,204.5 1361.3,203.8 1363.3,203.1 1365.4,202.4 1367.4,201.7 1369.4,201.0 1371.4,200.3 1373.5,199.6 1375.5,198.9 1377.5,198.2 1379.6,197.5 1381.6,196.8 1383.6,196.1 1385.6,195.4 1387.7,194.7 1389.7,193.9 1391.7,193.2 1393.7,192.5 1395.8,191.8 1397.8,191.0 1399.8,190.3 1401.8,189.6 1403.9,188.8 1405.9,188.1 1407.9,187.3 1410.0,186.6 1412.0,185.9 1414.0,185.1 1416.0,184.3 1418.1,183.6 1420.1,182.8 1422.1,182.1 1424.1,181.3 1426.2,180.5 1428.2,179.8 1430.2,179.0 1432.2,178.2 1434.3,177.4 1436.3,176.7 1438.3,175.9 1440.4,175.1 1442.4,174.3 1444.4,173.5 1446.4,172.7 1448.5,171.9 1450.5,171.1 1452.5,170.3 1454.5,169.5 1456.6,168.7 1458.6,167.9 1460.6,167.1 1462.6,166.2 1464.7,165.4 1466.7,164.6 1468.7,163.8 1470.8,162.9 1472.8,162.1 1474.8,161.3 1476.8,160.4 1478.9,159.6 1480.9,158.7 1482.9,157.9 1484.9,157.0 1487.0,156.2 1489.0,155.3 1491.0,154.4 1493.0,153.6 1495.1,152.7 1497.1,151.8 1499.1,151.0 1501.2,150.1 1503.2,149.2 1505.2,148.3 1507.2,147.4 1509.3,146.5 1511.3,145.6 1513.3,144.7 1515.3,143.8 1517.4,142.9 1519.4,142.0 1521.4,141.1 1523.4,140.2 1525.5,139.2 1527.5,138.3 1529.5,137.4 1531.6,136.5 1533.6,135.5 1535.6,134.6 1537.6,133.6 1539.7,132.7 1541.7,131.7 1543.7,130.8 1545.7,129.8 1547.8,128.9 1549.8,127.9 1551.8,126.9 1553.6,126.1 1555.3,125.3" fill="none" stroke="#e8383b" stroke-width="2.5" stroke-linejoin="round"/>
<path d="M961.9,477.5V500.7M957.2,477.5h9.4M957.2,500.7h9.4M974.3,427.3V450.5M969.6,427.3h9.4M969.6,450.5h9.4M986.6,394.7V417.9M981.9,394.7h9.4M981.9,417.9h9.4M999.0,369.3V392.5M994.3,369.3h9.4M994.3,392.5h9.4M1011.4,347.6V370.8M1006.7,347.6h9.4M1006.7,370.8h9.4M1023.8,332.6V355.8M1019.1,332.6h9.4M1019.1,355.8h9.4M1036.1,319.8V343.0M1031.4,319.8h9.4M1031.4,343.0h9.4M1048.5,309.6V332.8M1043.8,309.6h9.4M1043.8,332.8h9.4M1060.9,299.9V323.1M1056.2,299.9h9.4M1056.2,323.1h9.4M1073.3,291.5V314.7M1068.6,291.5h9.4M1068.6,314.7h9.4M1085.6,284.2V307.4M1080.9,284.2h9.4M1080.9,307.4h9.4M1098.0,277.9V301.1M1093.3,277.9h9.4M1093.3,301.1h9.4M1110.4,272.4V295.6M1105.7,272.4h9.4M1105.7,295.6h9.4M1122.7,267.4V290.6M1118.0,267.4h9.4M1118.0,290.6h9.4M1135.1,262.9V286.1M1130.4,262.9h9.4M1130.4,286.1h9.4M1147.5,258.7V281.9M1142.8,258.7h9.4M1142.8,281.9h9.4M1159.9,254.6V277.8M1155.2,254.6h9.4M1155.2,277.8h9.4M1172.2,250.7V273.9M1167.5,250.7h9.4M1167.5,273.9h9.4M1184.6,246.8V270.0M1179.9,246.8h9.4M1179.9,270.0h9.4M1197.0,243.0V266.2M1192.3,243.0h9.4M1192.3,266.2h9.4M1209.4,239.3V262.5M1204.7,239.3h9.4M1204.7,262.5h9.4M1221.7,235.6V258.8M1217.0,235.6h9.4M1217.0,258.8h9.4M1234.1,231.9V255.1M1229.4,231.9h9.4M1229.4,255.1h9.4M1246.5,228.3V251.5M1241.8,228.3h9.4M1241.8,251.5h9.4M1258.8,224.6V247.8M1254.1,224.6h9.4M1254.1,247.8h9.4M1271.2,220.9V244.1M1266.5,220.9h9.4M1266.5,244.1h9.4M1283.6,217.2V240.4M1278.9,217.2h9.4M1278.9,240.4h9.4M1296.0,213.4V236.6M1291.3,213.4h9.4M1291.3,236.6h9.4M1308.3,209.5V232.7M1303.6,209.5h9.4M1303.6,232.7h9.4M1320.7,205.6V228.8M1316.0,205.6h9.4M1316.0,228.8h9.4M1333.1,201.6V224.8M1328.4,201.6h9.4M1328.4,224.8h9.4M1345.5,197.5V220.7M1340.8,197.5h9.4M1340.8,220.7h9.4M1357.8,193.4V216.6M1353.1,193.4h9.4M1353.1,216.6h9.4M1370.2,189.2V212.4M1365.5,189.2h9.4M1365.5,212.4h9.4M1382.6,184.9V208.1M1377.9,184.9h9.4M1377.9,208.1h9.4M1394.9,180.5V203.7M1390.2,180.5h9.4M1390.2,203.7h9.4M1407.3,176.0V199.2M1402.6,176.0h9.4M1402.6,199.2h9.4M1419.7,171.4V194.6M1415.0,171.4h9.4M1415.0,194.6h9.4M1432.1,166.7V189.9M1427.4,166.7h9.4M1427.4,189.9h9.4M1444.4,161.9V185.1M1439.7,161.9h9.4M1439.7,185.1h9.4M1456.8,157.0V180.2M1452.1,157.0h9.4M1452.1,180.2h9.4M1469.2,152.0V175.2M1464.5,152.0h9.4M1464.5,175.2h9.4M1481.6,146.8V170.0M1476.9,146.8h9.4M1476.9,170.0h9.4M1493.9,141.6V164.8M1489.2,141.6h9.4M1489.2,164.8h9.4M1506.3,136.2V159.4M1501.6,136.2h9.4M1501.6,159.4h9.4M1518.7,130.7V153.9M1514.0,130.7h9.4M1514.0,153.9h9.4M1531.1,125.1V148.3M1526.4,125.1h9.4M1526.4,148.3h9.4M1543.4,119.3V142.5M1538.7,119.3h9.4M1538.7,142.5h9.4M1555.8,113.7V136.9M1551.1,113.7h9.4M1551.1,136.9h9.4" fill="none" stroke="#e8383b" stroke-width="1.5"/>
<path d="M949.9,1373.4 951.8,1372.8 953.8,1372.2 955.7,1371.5 957.7,1370.9 959.6,1370.2 961.6,1369.6 963.5,1369.0 965.5,1368.4 967.4,1367.8 969.4,1367.2 971.3,1366.6 973.3,1366.0 975.2,1365.5 977.2,1364.9 979.1,1364.4 981.1,1363.8 983.0,1363.3 985.0,1362.8 986.9,1362.2 988.9,1361.7 990.8,1361.2 992.8,1360.7 994.7,1360.2 996.6,1359.7 998.6,1359.2 1000.5,1358.7 1002.5,1358.3 1004.4,1357.8 1006.4,1357.3 1008.3,1356.9 1010.3,1356.4 1012.2,1355.9 1014.2,1355.5 1016.1,1355.0 1018.1,1354.6 1020.0,1354.2 1022.0,1353.7 1023.9,1353.3 1025.9,1352.9 1027.8,1352.4 1029.8,1352.0 1031.7,1351.6 1033.7,1351.2 1035.6,1350.7 1037.5,1350.3 1039.5,1349.9 1041.4,1349.5 1043.4,1349.1 1045.3,1348.7 1047.3,1348.3 1049.2,1347.9 1051.2,1347.5 1053.1,1347.1 1055.1,1346.7 1057.0,1346.3 1059.0,1345.9 1060.9,1345.5 1062.9,1345.1 1064.8,1344.7 1066.8,1344.3 1068.7,1343.9 1070.7,1343.5 1072.6,1343.1 1074.6,1342.8 1076.5,1342.4 1078.5,1342.0 1080.4,1341.6 1082.3,1341.2 1084.3,1340.8 1086.2,1340.4 1088.2,1340.0 1090.1,1339.6 1092.1,1339.3 1094.0,1338.9 1096.0,1338.5 1097.9,1338.1 1099.9,1337.7 1101.8,1337.3 1103.8,1336.9 1105.7,1336.5 1107.7,1336.1 1109.6,1335.7 1111.6,1335.3 1113.5,1334.9 1115.5,1334.5 1117.4,1334.1 1119.4,1333.7 1121.3,1333.3 1123.3,1332.9 1125.2,1332.5 1127.1,1332.1 1129.1,1331.7 1131.0,1331.3 1133.0,1330.9 1134.9,1330.5 1136.9,1330.0 1138.8,1329.6 1140.8,1329.2 1142.7,1328.8 1144.7,1328.4 1146.6,1327.9 1148.6,1327.5 1150.5,1327.1 1152.5,1326.7 1154.4,1326.2 1156.4,1325.8 1158.3,1325.4 1160.3,1324.9 1162.2,1324.5 1164.2,1324.0 1166.1,1323.6 1168.0,1323.1 1170.0,1322.7 1171.9,1322.2 1173.9,1321.8 1175.8,1321.3 1177.8,1320.9 1179.7,1320.4 1181.7,1319.9 1183.6,1319.5 1185.6,1319.0 1187.5,1318.5 1189.5,1318.1 1191.4,1317.6 1193.4,1317.1 1195.3,1316.6 1197.3,1316.1 1199.2,1315.6 1201.2,1315.2 1203.1,1314.7 1205.1,1314.2 1207.0,1313.7 1209.0,1313.2 1210.9,1312.7 1212.8,1312.1 1214.8,1311.6 1216.7,1311.1 1218.7,1310.6 1220.6,1310.1 1222.6,1309.6 1224.5,1309.0 1226.5,1308.5 1228.4,1308.0 1230.4,1307.4 1232.3,1306.9 1234.3,1306.4 1236.2,1305.8 1238.2,1305.3 1240.1,1304.7 1242.1,1304.2 1244.0,1303.6 1246.0,1303.1 1247.9,1302.5 1249.9,1301.9 1251.8,1301.4 1253.8,1300.8 1255.7,1300.2 1257.6,1299.6 1259.6,1299.1 1261.5,1298.5 1263.5,1297.9 1265.4,1297.3 1267.4,1296.7 1269.3,1296.1 1271.3,1295.5 1273.2,1294.9 1275.2,1294.3 1277.1,1293.7 1279.1,1293.1 1281.0,1292.5 1283.0,1291.9 1284.9,1291.2 1286.9,1290.6 1288.8,1290.0 1290.8,1289.4 1292.7,1288.7 1294.7,1288.1 1296.6,1287.4 1298.5,1286.8 1300.5,1286.1 1302.4,1285.5 1304.4,1284.8 1306.3,1284.2 1308.3,1283.5 1310.2,1282.9 1312.2,1282.2 1314.1,1281.5 1316.1,1280.8 1318.0,1280.2 1320.0,1279.5 1321.9,1278.8 1323.9,1278.1 1325.8,1277.4 1327.8,1276.7 1329.7,1276.0 1331.7,1275.3 1333.6,1274.6 1335.6,1273.9 1337.5,1273.2 1339.5,1272.5 1341.4,1271.7 1343.3,1271.0 1345.3,1270.3 1347.2,1269.5 1349.2,1268.8 1351.1,1268.1 1353.1,1267.3 1355.0,1266.6 1357.0,1265.8 1358.9,1265.1 1360.9,1264.3 1362.8,1263.5 1364.8,1262.8 1366.7,1262.0 1368.7,1261.2 1370.6,1260.4 1372.6,1259.7 1374.5,1258.9 1376.5,1258.1 1378.4,1257.3 1380.4,1256.5 1382.3,1255.7 1384.2,1254.9 1386.2,1254.0 1388.1,1253.2 1390.1,1252.4 1392.0,1251.6 1394.0,1250.7 1395.9,1249.9 1397.9,1249.1 1399.8,1248.2 1401.8,1247.4 1403.7,1246.5 1405.7,1245.7 1407.6,1244.8 1409.6,1243.9 1411.5,1243.0 1413.5,1242.2 1415.4,1241.3 1417.4,1240.4 1419.3,1239.5 1421.3,1238.6 1423.2,1237.7 1425.2,1236.8 1427.1,1235.9 1429.0,1234.9 1431.0,1234.0 1432.9,1233.1 1434.9,1232.1 1436.8,1231.2 1438.8,1230.2 1440.7,1229.3 1442.7,1228.3 1444.6,1227.3 1446.6,1226.4 1448.5,1225.4 1450.5,1224.4 1452.4,1223.4 1454.4,1222.4 1456.3,1221.4 1458.3,1220.4 1460.2,1219.4 1462.2,1218.3 1464.1,1217.3 1466.1,1216.2 1468.0,1215.2 1470.0,1214.1 1471.9,1213.1 1473.8,1212.0 1475.8,1210.9 1477.7,1209.8 1479.7,1208.7 1481.6,1207.6 1483.6,1206.5 1485.5,1205.4 1487.5,1204.3 1489.4,1203.2 1491.4,1202.0 1493.3,1200.9 1495.3,1199.7 1497.2,1198.5 1499.2,1197.4 1501.1,1196.2 1503.1,1195.0 1505.0,1193.8 1507.0,1192.6 1508.9,1191.3 1510.9,1190.1 1512.8,1188.9 1514.7,1187.6 1516.7,1186.3 1518.6,1185.1 1520.6,1183.8 1522.5,1182.5 1524.5,1181.2 1526.4,1179.9 1528.4,1178.5 1530.3,1177.2 1532.3,1175.9 1534.2,1174.5 1536.2,1173.1 1538.1,1171.7 1540.1,1170.3 1542.0,1168.9 1544.0,1167.5 1545.9,1166.1 1547.9,1164.6 1549.8,1163.1 1551.8,1161.6 1553.7,1160.2 1555.7,1158.7 1557.6,1157.2" fill="none" stroke="#2ca25e" stroke-width="2.5" stroke-linejoin="round"/>
<path d="M970.9,1365.7V1367.8M966.2,1365.7h9.4M966.2,1367.8h9.4M991.8,1359.8V1362.1M987.1,1359.8h9.4M987.1,1362.1h9.4M1012.8,1354.5V1357.1M1008.1,1354.5h9.4M1008.1,1357.1h9.4M1033.8,1349.6V1352.6M1029.1,1349.6h9.4M1029.1,1352.6h9.4M1054.7,1345.1V1348.4M1050.0,1345.1h9.4M1050.0,1348.4h9.4M1075.7,1340.7V1344.3M1071.0,1340.7h9.4M1071.0,1344.3h9.4M1096.7,1336.4V1340.3M1092.0,1336.4h9.4M1092.0,1340.3h9.4M1117.6,1331.9V1336.3M1112.9,1331.9h9.4M1112.9,1336.3h9.4M1138.6,1327.3V1332.1M1133.9,1327.3h9.4M1133.9,1332.1h9.4M1159.6,1322.5V1327.7M1154.9,1322.5h9.4M1154.9,1327.7h9.4M1180.5,1317.4V1323.0M1175.8,1317.4h9.4M1175.8,1323.0h9.4M1201.5,1312.1V1318.1M1196.8,1312.1h9.4M1196.8,1318.1h9.4M1222.5,1306.2V1313.0M1217.8,1306.2h9.4M1217.8,1313.0h9.4M1243.4,1299.8V1307.8M1238.7,1299.8h9.4M1238.7,1307.8h9.4M1264.4,1292.6V1302.6M1259.7,1292.6h9.4M1259.7,1302.6h9.4M1285.3,1286.2V1296.0M1280.6,1286.2h9.4M1280.6,1296.0h9.4M1306.3,1279.4V1289.0M1301.6,1279.4h9.4M1301.6,1289.0h9.4M1327.3,1271.9V1281.9M1322.6,1271.9h9.4M1322.6,1281.9h9.4M1348.2,1262.7V1275.7M1343.5,1262.7h9.4M1343.5,1275.7h9.4M1369.2,1253.8V1268.2M1364.5,1253.8h9.4M1364.5,1268.2h9.4M1390.2,1245.5V1259.3M1385.5,1245.5h9.4M1385.5,1259.3h9.4M1411.1,1235.7V1250.7M1406.4,1235.7h9.4M1406.4,1250.7h9.4M1432.1,1225.0V1242.0M1427.4,1225.0h9.4M1427.4,1242.0h9.4M1453.1,1213.1V1233.0M1448.4,1213.1h9.4M1448.4,1233.0h9.4M1474.0,1200.4V1223.4M1469.3,1200.4h9.4M1469.3,1223.4h9.4M1495.0,1188.0V1211.8M1490.3,1188.0h9.4M1490.3,1211.8h9.4M1516.0,1173.9V1199.7M1511.3,1173.9h9.4M1511.3,1199.7h9.4M1536.9,1158.6V1186.5M1532.2,1158.6h9.4M1532.2,1186.5h9.4M1557.9,1141.5V1172.9M1553.2,1141.5h9.4M1553.2,1172.9h9.4" fill="none" stroke="#2ca25e" stroke-width="1.5"/>
<path d="M949.9,1373.4 951.8,1372.7 953.8,1372.1 955.7,1371.4 957.7,1370.7 959.6,1370.0 961.6,1369.3 963.5,1368.6 965.5,1368.0 967.4,1367.3 969.4,1366.7 971.3,1366.1 973.3,1365.5 975.2,1364.9 977.2,1364.3 979.1,1363.7 981.1,1363.1 983.0,1362.5 985.0,1361.9 986.9,1361.4 988.9,1360.8 990.8,1360.2 992.8,1359.7 994.7,1359.2 996.6,1358.6 998.6,1358.1 1000.5,1357.5 1002.5,1357.0 1004.4,1356.5 1006.4,1356.0 1008.3,1355.5 1010.3,1355.0 1012.2,1354.5 1014.2,1354.0 1016.1,1353.5 1018.1,1353.0 1020.0,1352.5 1022.0,1352.0 1023.9,1351.5 1025.9,1351.1 1027.8,1350.6 1029.8,1350.1 1031.7,1349.6 1033.7,1349.2 1035.6,1348.7 1037.5,1348.2 1039.5,1347.8 1041.4,1347.3 1043.4,1346.9 1045.3,1346.4 1047.3,1346.0 1049.2,1345.5 1051.2,1345.1 1053.1,1344.6 1055.1,1344.2 1057.0,1343.7 1059.0,1343.3 1060.9,1342.8 1062.9,1342.4 1064.8,1341.9 1066.8,1341.5 1068.7,1341.0 1070.7,1340.6 1072.6,1340.1 1074.6,1339.7 1076.5,1339.3 1078.5,1338.8 1080.4,1338.4 1082.3,1337.9 1084.3,1337.5 1086.2,1337.0 1088.2,1336.6 1090.1,1336.1 1092.1,1335.7 1094.0,1335.2 1096.0,1334.8 1097.9,1334.3 1099.9,1333.9 1101.8,1333.4 1103.8,1333.0 1105.7,1332.5 1107.7,1332.1 1109.6,1331.6 1111.6,1331.2 1113.5,1330.7 1115.5,1330.2 1117.4,1329.8 1119.4,1329.3 1121.3,1328.8 1123.3,1328.4 1125.2,1327.9 1127.1,1327.4 1129.1,1326.9 1131.0,1326.5 1133.0,1326.0 1134.9,1325.5 1136.9,1325.0 1138.8,1324.5 1140.8,1324.0 1142.7,1323.6 1144.7,1323.1 1146.6,1322.6 1148.6,1322.1 1150.5,1321.6 1152.5,1321.1 1154.4,1320.5 1156.4,1320.0 1158.3,1319.5 1160.3,1319.0 1162.2,1318.5 1164.2,1318.0 1166.1,1317.4 1168.0,1316.9 1170.0,1316.4 1171.9,1315.9 1173.9,1315.3 1175.8,1314.8 1177.8,1314.2 1179.7,1313.7 1181.7,1313.1 1183.6,1312.6 1185.6,1312.0 1187.5,1311.5 1189.5,1310.9 1191.4,1310.3 1193.4,1309.8 1195.3,1309.2 1197.3,1308.6 1199.2,1308.0 1201.2,1307.5 1203.1,1306.9 1205.1,1306.3 1207.0,1305.7 1209.0,1305.1 1210.9,1304.5 1212.8,1303.9 1214.8,1303.3 1216.7,1302.7 1218.7,1302.0 1220.6,1301.4 1222.6,1300.8 1224.5,1300.2 1226.5,1299.5 1228.4,1298.9 1230.4,1298.3 1232.3,1297.6 1234.3,1297.0 1236.2,1296.3 1238.2,1295.7 1240.1,1295.0 1242.1,1294.4 1244.0,1293.7 1246.0,1293.0 1247.9,1292.4 1249.9,1291.7 1251.8,1291.0 1253.8,1290.3 1255.7,1289.6 1257.6,1288.9 1259.6,1288.2 1261.5,1287.5 1263.5,1286.8 1265.4,1286.1 1267.4,1285.4 1269.3,1284.7 1271.3,1284.0 1273.2,1283.2 1275.2,1282.5 1277.1,1281.8 1279.1,1281.0 1281.0,1280.3 1283.0,1279.5 1284.9,1278.8 1286.9,1278.0 1288.8,1277.3 1290.8,1276.5 1292.7,1275.7 1294.7,1275.0 1296.6,1274.2 1298.5,1273.4 1300.5,1272.6 1302.4,1271.8 1304.4,1271.0 1306.3,1270.2 1308.3,1269.4 1310.2,1268.6 1312.2,1267.8 1314.1,1267.0 1316.1,1266.2 1318.0,1265.3 1320.0,1264.5 1321.9,1263.7 1323.9,1262.8 1325.8,1262.0 1327.8,1261.1 1329.7,1260.3 1331.7,1259.4 1333.6,1258.6 1335.6,1257.7 1337.5,1256.8 1339.5,1255.9 1341.4,1255.1 1343.3,1254.2 1345.3,1253.3 1347.2,1252.4 1349.2,1251.5 1351.1,1250.6 1353.1,1249.7 1355.0,1248.7 1357.0,1247.8 1358.9,1246.9 1360.9,1246.0 1362.8,1245.0 1364.8,1244.1 1366.7,1243.1 1368.7,1242.2 1370.6,1241.2 1372.6,1240.3 1374.5,1239.3 1376.5,1238.3 1378.4,1237.3 1380.4,1236.3 1382.3,1235.4 1384.2,1234.4 1386.2,1233.4 1388.1,1232.3 1390.1,1231.3 1392.0,1230.3 1394.0,1229.3 1395.9,1228.2 1397.9,1227.2 1399.8,1226.2 1401.8,1225.1 1403.7,1224.1 1405.7,1223.0 1407.6,1221.9 1409.6,1220.9 1411.5,1219.8 1413.5,1218.7 1415.4,1217.6 1417.4,1216.5 1419.3,1215.4 1421.3,1214.3 1423.2,1213.1 1425.2,1212.0 1427.1,1210.9 1429.0,1209.7 1431.0,1208.6 1432.9,1207.4 1434.9,1206.3 1436.8,1205.1 1438.8,1203.9 1440.7,1202.7 1442.7,1201.5 1444.6,1200.3 1446.6,1199.1 1448.5,1197.9 1450.5,1196.7 1452.4,1195.5 1454.4,1194.2 1456.3,1193.0 1458.3,1191.7 1460.2,1190.5 1462.2,1189.2 1464.1,1187.9 1466.1,1186.6 1468.0,1185.3 1470.0,1184.0 1471.9,1182.7 1473.8,1181.4 1475.8,1180.0 1477.7,1178.7 1479.7,1177.3 1481.6,1176.0 1483.6,1174.6 1485.5,1173.2 1487.5,1171.8 1489.4,1170.4 1491.4,1169.0 1493.3,1167.6 1495.3,1166.1 1497.2,1164.7 1499.2,1163.2 1501.1,1161.8 1503.1,1160.3 1505.0,1158.8 1507.0,1157.3 1508.9,1155.8 1510.9,1154.3 1512.8,1152.7 1514.7,1151.2 1516.7,1149.6 1518.6,1148.1 1520.6,1146.5 1522.5,1144.9 1524.5,1143.3 1526.4,1141.7 1528.4,1140.0 1530.3,1138.4 1532.3,1136.7 1534.2,1135.1 1536.2,1133.4 1538.1,1131.7 1540.1,1130.0 1542.0,1128.3 1544.0,1126.5 1545.9,1124.7 1547.9,1122.9 1549.8,1121.1 1551.8,1119.3 1553.7,1117.5 1555.7,1115.7 1557.6,1113.9" fill="none" stroke="#0a5ad2" stroke-width="2.5" stroke-linejoin="round"/>
<path d="M970.9,1365.4V1367.0M966.2,1365.4h9.4M966.2,1367.0h9.4M991.8,1359.1V1360.8M987.1,1359.1h9.4M987.1,1360.8h9.4M1012.8,1353.4V1355.3M1008.1,1353.4h9.4M1008.1,1355.3h9.4M1033.8,1348.1V1350.1M1029.1,1348.1h9.4M1029.1,1350.1h9.4M1054.7,1343.2V1345.3M1050.0,1343.2h9.4M1050.0,1345.3h9.4M1075.7,1338.3V1340.6M1071.0,1338.3h9.4M1071.0,1340.6h9.4M1096.7,1333.5V1335.8M1092.0,1333.5h9.4M1092.0,1335.8h9.4M1117.6,1328.5V1331.0M1112.9,1328.5h9.4M1112.9,1331.0h9.4M1138.6,1323.3V1325.9M1133.9,1323.3h9.4M1133.9,1325.9h9.4M1159.6,1317.8V1320.6M1154.9,1317.8h9.4M1154.9,1320.6h9.4M1180.5,1312.0V1314.9M1175.8,1312.0h9.4M1175.8,1314.9h9.4M1201.5,1305.9V1308.9M1196.8,1305.9h9.4M1196.8,1308.9h9.4M1222.5,1299.2V1302.5M1217.8,1299.2h9.4M1217.8,1302.5h9.4M1243.4,1292.2V1295.6M1238.7,1292.2h9.4M1238.7,1295.6h9.4M1264.4,1284.7V1288.3M1259.7,1284.7h9.4M1259.7,1288.3h9.4M1285.3,1276.7V1280.5M1280.6,1276.7h9.4M1280.6,1280.5h9.4M1306.3,1268.2V1272.3M1301.6,1268.2h9.4M1301.6,1272.3h9.4M1327.3,1259.2V1263.6M1322.6,1259.2h9.4M1322.6,1263.6h9.4M1348.2,1249.6V1254.3M1343.5,1249.6h9.4M1343.5,1254.3h9.4M1369.2,1239.4V1244.4M1364.5,1239.4h9.4M1364.5,1244.4h9.4M1390.2,1228.3V1234.3M1385.5,1228.3h9.4M1385.5,1234.3h9.4M1411.1,1216.6V1223.4M1406.4,1216.6h9.4M1406.4,1223.4h9.4M1432.1,1203.9V1211.9M1427.4,1203.9h9.4M1427.4,1211.9h9.4M1453.1,1190.0V1200.0M1448.4,1190.0h9.4M1448.4,1200.0h9.4M1474.0,1175.8V1186.6M1469.3,1175.8h9.4M1469.3,1186.6h9.4M1495.0,1160.3V1172.3M1490.3,1160.3h9.4M1490.3,1172.3h9.4M1516.0,1143.2V1157.3M1511.3,1143.2h9.4M1511.3,1157.3h9.4M1536.9,1125.0V1140.5M1532.2,1125.0h9.4M1532.2,1140.5h9.4M1557.9,1104.8V1123.0M1553.2,1104.8h9.4M1553.2,1123.0h9.4" fill="none" stroke="#0a5ad2" stroke-width="1.5"/>
<path d="M949.9,1373.4 951.8,1372.4 953.8,1371.5 955.7,1370.5 957.7,1369.6 959.6,1368.6 961.6,1367.7 963.5,1366.7 965.5,1365.8 967.4,1364.9 969.4,1364.1 971.3,1363.2 973.3,1362.3 975.2,1361.5 977.2,1360.6 979.1,1359.8 981.1,1359.0 983.0,1358.2 985.0,1357.4 986.9,1356.6 988.9,1355.8 990.8,1355.0 992.8,1354.2 994.7,1353.5 996.6,1352.7 998.6,1351.9 1000.5,1351.2 1002.5,1350.5 1004.4,1349.7 1006.4,1349.0 1008.3,1348.3 1010.3,1347.6 1012.2,1346.9 1014.2,1346.2 1016.1,1345.5 1018.1,1344.8 1020.0,1344.1 1022.0,1343.4 1023.9,1342.7 1025.9,1342.1 1027.8,1341.4 1029.8,1340.7 1031.7,1340.0 1033.7,1339.4 1035.6,1338.7 1037.5,1338.1 1039.5,1337.4 1041.4,1336.8 1043.4,1336.1 1045.3,1335.5 1047.3,1334.8 1049.2,1334.2 1051.2,1333.6 1053.1,1332.9 1055.1,1332.3 1057.0,1331.7 1059.0,1331.0 1060.9,1330.4 1062.9,1329.8 1064.8,1329.1 1066.8,1328.5 1068.7,1327.9 1070.7,1327.3 1072.6,1326.6 1074.6,1326.0 1076.5,1325.4 1078.5,1324.8 1080.4,1324.1 1082.3,1323.5 1084.3,1322.9 1086.2,1322.2 1088.2,1321.6 1090.1,1321.0 1092.1,1320.4 1094.0,1319.7 1096.0,1319.1 1097.9,1318.5 1099.9,1317.8 1101.8,1317.2 1103.8,1316.5 1105.7,1315.9 1107.7,1315.3 1109.6,1314.6 1111.6,1314.0 1113.5,1313.3 1115.5,1312.7 1117.4,1312.0 1119.4,1311.4 1121.3,1310.7 1123.3,1310.1 1125.2,1309.4 1127.1,1308.7 1129.1,1308.1 1131.0,1307.4 1133.0,1306.7 1134.9,1306.1 1136.9,1305.4 1138.8,1304.7 1140.8,1304.0 1142.7,1303.4 1144.7,1302.7 1146.6,1302.0 1148.6,1301.3 1150.5,1300.6 1152.5,1299.9 1154.4,1299.2 1156.4,1298.5 1158.3,1297.8 1160.3,1297.0 1162.2,1296.3 1164.2,1295.6 1166.1,1294.9 1168.0,1294.2 1170.0,1293.4 1171.9,1292.7 1173.9,1291.9 1175.8,1291.2 1177.8,1290.5 1179.7,1289.7 1181.7,1288.9 1183.6,1288.2 1185.6,1287.4 1187.5,1286.6 1189.5,1285.9 1191.4,1285.1 1193.4,1284.3 1195.3,1283.5 1197.3,1282.7 1199.2,1281.9 1201.2,1281.1 1203.1,1280.3 1205.1,1279.5 1207.0,1278.7 1209.0,1277.9 1210.9,1277.1 1212.8,1276.3 1214.8,1275.4 1216.7,1274.6 1218.7,1273.8 1220.6,1272.9 1222.6,1272.1 1224.5,1271.2 1226.5,1270.3 1228.4,1269.5 1230.4,1268.6 1232.3,1267.7 1234.3,1266.9 1236.2,1266.0 1238.2,1265.1 1240.1,1264.2 1242.1,1263.3 1244.0,1262.4 1246.0,1261.5 1247.9,1260.6 1249.9,1259.7 1251.8,1258.7 1253.8,1257.8 1255.7,1256.9 1257.6,1255.9 1259.6,1255.0 1261.5,1254.0 1263.5,1253.1 1265.4,1252.1 1267.4,1251.2 1269.3,1250.2 1271.3,1249.2 1273.2,1248.2 1275.2,1247.3 1277.1,1246.3 1279.1,1245.3 1281.0,1244.3 1283.0,1243.3 1284.9,1242.2 1286.9,1241.2 1288.8,1240.2 1290.8,1239.2 1292.7,1238.1 1294.7,1237.1 1296.6,1236.0 1298.5,1235.0 1300.5,1233.9 1302.4,1232.9 1304.4,1231.8 1306.3,1230.7 1308.3,1229.6 1310.2,1228.5 1312.2,1227.4 1314.1,1226.3 1316.1,1225.2 1318.0,1224.1 1320.0,1223.0 1321.9,1221.9 1323.9,1220.8 1325.8,1219.6 1327.8,1218.5 1329.7,1217.3 1331.7,1216.2 1333.6,1215.0 1335.6,1213.8 1337.5,1212.7 1339.5,1211.5 1341.4,1210.3 1343.3,1209.1 1345.3,1207.9 1347.2,1206.7 1349.2,1205.5 1351.1,1204.3 1353.1,1203.0 1355.0,1201.8 1357.0,1200.5 1358.9,1199.3 1360.9,1198.0 1362.8,1196.8 1364.8,1195.5 1366.7,1194.2 1368.7,1192.9 1370.6,1191.6 1372.6,1190.3 1374.5,1189.0 1376.5,1187.7 1378.4,1186.4 1380.4,1185.1 1382.3,1183.7 1384.2,1182.4 1386.2,1181.0 1388.1,1179.7 1390.1,1178.3 1392.0,1176.9 1394.0,1175.5 1395.9,1174.1 1397.9,1172.7 1399.8,1171.3 1401.8,1169.9 1403.7,1168.4 1405.7,1167.0 1407.6,1165.6 1409.6,1164.1 1411.5,1162.6 1413.5,1161.1 1415.4,1159.7 1417.4,1158.2 1419.3,1156.7 1421.3,1155.1 1423.2,1153.6 1425.2,1152.1 1427.1,1150.5 1429.0,1149.0 1431.0,1147.4 1432.9,1145.8 1434.9,1144.2 1436.8,1142.6 1438.8,1141.0 1440.7,1139.4 1442.7,1137.8 1444.6,1136.1 1446.6,1134.5 1448.5,1132.8 1450.5,1131.1 1452.4,1129.5 1454.4,1127.8 1456.3,1126.0 1458.3,1124.3 1460.2,1122.6 1462.2,1120.8 1464.1,1119.1 1466.1,1117.3 1468.0,1115.5 1470.0,1113.7 1471.9,1111.9 1473.8,1110.0 1475.8,1108.2 1477.7,1106.3 1479.7,1104.5 1481.6,1102.6 1483.6,1100.7 1485.5,1098.7 1487.5,1096.8 1489.4,1094.9 1491.4,1092.9 1493.3,1090.9 1495.3,1088.9 1497.2,1086.9 1499.2,1084.9 1501.1,1082.8 1503.1,1080.8 1505.0,1078.7 1507.0,1076.6 1508.9,1074.5 1510.9,1072.4 1512.8,1070.2 1514.7,1068.1 1516.7,1065.9 1518.6,1063.7 1520.6,1061.5 1522.5,1059.2 1524.5,1057.0 1526.4,1054.7 1528.4,1052.4 1530.3,1050.1 1532.3,1047.7 1534.2,1045.4 1536.2,1043.0 1538.1,1040.6 1540.1,1038.1 1542.0,1035.7 1544.0,1033.2 1545.9,1030.7 1547.9,1028.2 1549.8,1025.6 1551.8,1023.0 1553.7,1020.4 1555.7,1017.9 1557.6,1015.3" fill="none" stroke="#e8383b" stroke-width="2.5" stroke-linejoin="round"/>
<path d="M970.9,1360.8V1366.0M966.2,1360.8h9.4M966.2,1366.0h9.4M991.8,1351.5V1357.6M987.1,1351.5h9.4M987.1,1357.6h9.4M1012.8,1342.6V1350.7M1008.1,1342.6h9.4M1008.1,1350.7h9.4M1033.8,1334.9V1343.8M1029.1,1334.9h9.4M1029.1,1343.8h9.4M1054.7,1326.7V1338.1M1050.0,1326.7h9.4M1050.0,1338.1h9.4M1075.7,1319.1V1332.2M1071.0,1319.1h9.4M1071.0,1332.2h9.4M1096.7,1311.5V1326.2M1092.0,1311.5h9.4M1092.0,1326.2h9.4M1117.6,1304.0V1319.9M1112.9,1304.0h9.4M1112.9,1319.9h9.4M1138.6,1296.1V1313.5M1133.9,1296.1h9.4M1133.9,1313.5h9.4M1159.6,1287.3V1307.3M1154.9,1287.3h9.4M1154.9,1307.3h9.4M1180.5,1278.9V1299.9M1175.8,1278.9h9.4M1175.8,1299.9h9.4M1201.5,1268.5V1293.5M1196.8,1268.5h9.4M1196.8,1293.5h9.4M1222.5,1259.0V1285.2M1217.8,1259.0h9.4M1217.8,1285.2h9.4M1243.4,1247.7V1277.7M1238.7,1247.7h9.4M1238.7,1277.7h9.4M1264.4,1236.7V1268.6M1259.7,1236.7h9.4M1259.7,1268.6h9.4M1285.3,1224.0V1260.0M1280.6,1224.0h9.4M1280.6,1260.0h9.4M1306.3,1212.3V1249.1M1301.6,1212.3h9.4M1301.6,1249.1h9.4M1327.3,1198.2V1239.4M1322.6,1198.2h9.4M1322.6,1239.4h9.4M1348.2,1185.1V1227.1M1343.5,1185.1h9.4M1343.5,1227.1h9.4M1369.2,1169.4V1215.8M1364.5,1169.4h9.4M1364.5,1215.8h9.4M1390.2,1154.0V1202.5M1385.5,1154.0h9.4M1385.5,1202.5h9.4M1411.1,1136.7V1189.1M1406.4,1136.7h9.4M1406.4,1189.1h9.4M1432.1,1119.3V1173.7M1427.4,1119.3h9.4M1427.4,1173.7h9.4M1453.1,1098.4V1159.4M1448.4,1098.4h9.4M1448.4,1159.4h9.4M1474.0,1077.7V1142.0M1469.3,1077.7h9.4M1469.3,1142.0h9.4M1495.0,1053.7V1124.7M1490.3,1053.7h9.4M1490.3,1124.7h9.4M1516.0,1028.6V1104.8M1511.3,1028.6h9.4M1511.3,1104.8h9.4M1536.9,1001.3V1082.8M1532.2,1001.3h9.4M1532.2,1082.8h9.4M1557.9,970.3V1060.3M1553.2,970.3h9.4M1553.2,1060.3h9.4" fill="none" stroke="#e8383b" stroke-width="1.5"/>
<path d="M949.7,2180.1 951.6,2173.3 953.4,2166.2 955.3,2159.0 957.2,2152.2 959.0,2146.2 960.9,2141.3 962.9,2137.1 964.9,2133.4 966.8,2130.2 968.8,2127.1 970.8,2124.3 972.8,2121.4 974.8,2118.6 976.8,2115.8 978.8,2113.2 980.7,2110.7 982.7,2108.3 984.7,2106.0 986.6,2103.9 988.4,2101.9 990.3,2099.9 992.1,2098.0 994.0,2096.2 995.8,2094.5 997.7,2092.9 999.5,2091.5 1001.3,2090.1 1003.1,2088.9 1005.0,2087.7 1006.8,2086.5 1008.6,2085.3 1010.4,2084.2 1012.1,2083.1 1013.9,2082.1 1015.6,2081.0 1017.4,2080.0 1019.1,2079.0 1020.8,2078.1 1022.6,2077.1 1024.3,2076.2 1026.3,2075.1 1028.3,2073.8 1030.2,2072.6 1032.2,2071.6 1034.2,2070.8 1036.2,2070.3 1038.7,2070.1 1041.1,2069.9 1043.1,2069.3 1045.2,2068.4 1047.2,2067.6 1049.2,2066.8 1051.2,2066.1 1053.3,2065.3 1055.3,2064.6 1057.3,2063.9 1059.3,2063.2 1061.4,2062.5 1063.4,2061.9 1065.4,2061.2 1067.4,2060.5 1069.5,2059.9 1071.5,2059.3 1073.5,2058.7 1075.6,2058.0 1077.6,2057.4 1079.6,2056.9 1081.6,2056.3 1083.7,2055.7 1085.7,2055.1 1087.7,2054.6 1089.7,2054.0 1091.8,2053.5 1093.8,2053.0 1095.8,2052.4 1097.8,2051.9 1099.9,2051.4 1101.9,2050.9 1103.9,2050.4 1106.0,2049.9 1108.0,2049.4 1110.0,2048.9 1112.0,2048.5 1114.1,2048.0 1116.1,2047.5 1118.1,2047.1 1120.1,2046.6 1122.2,2046.1 1124.2,2045.7 1126.2,2045.2 1128.2,2044.8 1130.3,2044.4 1132.3,2043.9 1134.3,2043.5 1136.4,2043.1 1138.4,2042.6 1140.4,2042.2 1142.4,2041.8 1144.5,2041.4 1146.5,2041.0 1148.5,2040.6 1150.5,2040.2 1152.6,2039.8 1154.6,2039.4 1156.6,2039.0 1158.6,2038.6 1160.7,2038.2 1162.7,2037.8 1164.7,2037.4 1166.8,2037.0 1168.8,2036.6 1170.8,2036.3 1172.8,2035.9 1174.9,2035.5 1176.9,2035.1 1178.9,2034.7 1180.9,2034.4 1183.0,2034.0 1185.0,2033.6 1187.0,2033.2 1189.0,2032.9 1191.1,2032.5 1193.1,2032.1 1195.1,2031.8 1197.2,2031.4 1199.2,2031.0 1201.2,2030.6 1203.2,2030.3 1205.3,2029.9 1207.3,2029.5 1209.3,2029.2 1211.3,2028.8 1213.4,2028.4 1215.4,2028.0 1217.4,2027.7 1219.4,2027.3 1221.5,2026.9 1223.5,2026.5 1225.5,2026.2 1227.6,2025.8 1229.6,2025.4 1231.6,2025.0 1233.6,2024.6 1235.7,2024.2 1237.7,2023.8 1239.7,2023.4 1241.7,2023.1 1243.8,2022.7 1245.8,2022.3 1247.8,2021.9 1249.8,2021.5 1251.9,2021.0 1253.9,2020.6 1255.9,2020.2 1258.0,2019.8 1260.0,2019.4 1262.0,2019.0 1264.0,2018.5 1266.1,2018.1 1268.1,2017.7 1270.1,2017.2 1272.1,2016.8 1274.2,2016.4 1276.2,2015.9 1278.2,2015.5 1280.2,2015.0 1282.3,2014.6 1284.3,2014.1 1286.3,2013.7 1288.4,2013.2 1290.4,2012.7 1292.4,2012.3 1294.4,2011.8 1296.5,2011.3 1298.5,2010.8 1300.5,2010.4 1302.5,2009.9 1304.6,2009.4 1306.6,2008.9 1308.6,2008.4 1310.6,2007.9 1312.7,2007.4 1314.7,2006.9 1316.7,2006.4 1318.8,2005.9 1320.8,2005.4 1322.8,2004.9 1324.8,2004.4 1326.9,2003.9 1328.9,2003.4 1330.9,2002.9 1332.9,2002.3 1335.0,2001.8 1337.0,2001.3 1339.0,2000.8 1341.0,2000.2 1343.1,1999.7 1345.1,1999.2 1347.1,1998.6 1349.2,1998.1 1351.2,1997.6 1353.2,1997.0 1355.2,1996.5 1357.3,1995.9 1359.3,1995.4 1361.3,1994.8 1363.3,1994.3 1365.4,1993.7 1367.4,1993.2 1369.4,1992.6 1371.4,1992.1 1373.5,1991.5 1375.5,1991.0 1377.5,1990.4 1379.6,1989.8 1381.6,1989.3 1383.6,1988.7 1385.6,1988.1 1387.7,1987.6 1389.7,1987.0 1391.7,1986.4 1393.7,1985.8 1395.8,1985.3 1397.8,1984.7 1399.8,1984.1 1401.8,1983.5 1403.9,1982.9 1405.9,1982.3 1407.9,1981.8 1410.0,1981.2 1412.0,1980.6 1414.0,1980.0 1416.0,1979.4 1418.1,1978.8 1420.1,1978.2 1422.1,1977.6 1424.1,1977.0 1426.2,1976.4 1428.2,1975.8 1430.2,1975.3 1432.2,1974.7 1434.3,1974.1 1436.3,1973.5 1438.3,1972.9 1440.4,1972.3 1442.4,1971.6 1444.4,1971.0 1446.4,1970.4 1448.5,1969.8 1450.5,1969.2 1452.5,1968.6 1454.5,1968.0 1456.6,1967.4 1458.6,1966.8 1460.6,1966.2 1462.6,1965.6 1464.7,1965.0 1466.7,1964.4 1468.7,1963.7 1470.8,1963.1 1472.8,1962.5 1474.8,1961.9 1476.8,1961.3 1478.9,1960.7 1480.9,1960.1 1482.9,1959.5 1484.9,1958.8 1487.0,1958.2 1489.0,1957.6 1491.0,1957.0 1493.0,1956.4 1495.1,1955.8 1497.1,1955.2 1499.1,1954.5 1501.2,1953.9 1503.2,1953.3 1505.2,1952.7 1507.2,1952.1 1509.3,1951.5 1511.3,1950.9 1513.3,1950.2 1515.3,1949.6 1517.4,1949.0 1519.4,1948.4 1521.4,1947.8 1523.4,1947.2 1525.5,1946.6 1527.5,1945.9 1529.5,1945.3 1531.6,1944.7 1533.6,1944.1 1535.6,1943.5 1537.6,1942.9 1539.7,1942.3 1541.7,1941.7 1543.7,1941.0 1545.7,1940.4 1547.8,1939.8 1549.8,1939.2 1551.8,1938.6 1554.1,1937.9 1556.4,1937.2" fill="none" stroke="#2ca25e" stroke-width="2.5" stroke-linejoin="round"/>
<path d="M961.1,2137.4V2144.4M956.4,2137.4h9.4M956.4,2144.4h9.4M973.5,2116.9V2123.9M968.8,2116.9h9.4M968.8,2123.9h9.4M985.9,2101.1V2108.2M981.2,2101.1h9.4M981.2,2108.2h9.4M998.3,2088.9V2096.0M993.6,2088.9h9.4M993.6,2096.0h9.4M1010.7,2080.4V2087.6M1006.0,2080.4h9.4M1006.0,2087.6h9.4M1023.1,2073.2V2080.4M1018.4,2073.2h9.4M1018.4,2080.4h9.4M1035.5,2066.8V2074.1M1030.8,2066.8h9.4M1030.8,2074.1h9.4M1047.9,2063.6V2070.9M1043.2,2063.6h9.4M1043.2,2070.9h9.4M1060.3,2059.2V2066.5M1055.6,2059.2h9.4M1055.6,2066.5h9.4M1072.7,2055.2V2062.6M1068.0,2055.2h9.4M1068.0,2062.6h9.4M1085.1,2051.6V2059.0M1080.4,2051.6h9.4M1080.4,2059.0h9.4M1097.5,2048.3V2055.7M1092.8,2048.3h9.4M1092.8,2055.7h9.4M1110.0,2045.2V2052.7M1105.3,2045.2h9.4M1105.3,2052.7h9.4M1122.4,2042.4V2049.8M1117.7,2042.4h9.4M1117.7,2049.8h9.4M1134.8,2039.6V2047.2M1130.1,2039.6h9.4M1130.1,2047.2h9.4M1147.2,2037.1V2044.6M1142.5,2037.1h9.4M1142.5,2044.6h9.4M1159.6,2034.6V2042.2M1154.9,2034.6h9.4M1154.9,2042.2h9.4M1172.0,2032.2V2039.8M1167.3,2032.2h9.4M1167.3,2039.8h9.4M1184.4,2029.9V2037.6M1179.7,2029.9h9.4M1179.7,2037.6h9.4M1196.8,2027.6V2035.3M1192.1,2027.6h9.4M1192.1,2035.3h9.4M1209.2,2025.3V2033.0M1204.5,2025.3h9.4M1204.5,2033.0h9.4M1221.6,2023.0V2030.8M1216.9,2023.0h9.4M1216.9,2030.8h9.4M1234.0,2020.6V2028.4M1229.3,2020.6h9.4M1229.3,2028.4h9.4M1246.4,2018.2V2026.1M1241.7,2018.2h9.4M1241.7,2026.1h9.4M1258.8,2015.7V2023.6M1254.1,2015.7h9.4M1254.1,2023.6h9.4M1271.2,2013.0V2021.0M1266.5,2013.0h9.4M1266.5,2021.0h9.4M1283.6,2010.3V2018.2M1278.9,2010.3h9.4M1278.9,2018.2h9.4M1296.0,2007.4V2015.4M1291.3,2007.4h9.4M1291.3,2015.4h9.4M1308.4,2004.4V2012.5M1303.7,2004.4h9.4M1303.7,2012.5h9.4M1320.9,2001.2V2009.6M1316.2,2001.2h9.4M1316.2,2009.6h9.4M1333.3,1998.0V2006.5M1328.6,1998.0h9.4M1328.6,2006.5h9.4M1345.7,1994.7V2003.4M1341.0,1994.7h9.4M1341.0,2003.4h9.4M1358.1,1991.3V2000.2M1353.4,1991.3h9.4M1353.4,2000.2h9.4M1370.5,1987.8V1996.9M1365.8,1987.8h9.4M1365.8,1996.9h9.4M1382.9,1984.2V1993.5M1378.2,1984.2h9.4M1378.2,1993.5h9.4M1395.3,1980.6V1990.1M1390.6,1980.6h9.4M1390.6,1990.1h9.4M1407.7,1977.0V1986.7M1403.0,1977.0h9.4M1403.0,1986.7h9.4M1420.1,1973.3V1983.2M1415.4,1973.3h9.4M1415.4,1983.2h9.4M1432.5,1969.5V1979.6M1427.8,1969.5h9.4M1427.8,1979.6h9.4M1444.9,1965.8V1976.0M1440.2,1965.8h9.4M1440.2,1976.0h9.4M1457.3,1962.0V1972.4M1452.6,1962.0h9.4M1452.6,1972.4h9.4M1469.7,1958.1V1968.8M1465.0,1958.1h9.4M1465.0,1968.8h9.4M1482.1,1954.3V1965.1M1477.4,1954.3h9.4M1477.4,1965.1h9.4M1494.5,1950.4V1961.5M1489.8,1950.4h9.4M1489.8,1961.5h9.4M1506.9,1946.6V1957.8M1502.2,1946.6h9.4M1502.2,1957.8h9.4M1519.3,1942.7V1954.1M1514.6,1942.7h9.4M1514.6,1954.1h9.4M1531.7,1938.8V1950.5M1527.0,1938.8h9.4M1527.0,1950.5h9.4M1544.2,1935.0V1946.8M1539.5,1935.0h9.4M1539.5,1946.8h9.4M1556.6,1931.2V1943.2M1551.9,1931.2h9.4M1551.9,1943.2h9.4" fill="none" stroke="#2ca25e" stroke-width="1.5"/>
<path d="M949.7,2176.2 951.6,2169.4 953.4,2162.3 955.3,2155.2 957.2,2148.3 959.0,2142.0 960.9,2136.5 962.9,2131.4 964.9,2126.6 966.8,2122.2 968.8,2118.1 970.8,2114.3 972.8,2110.7 974.8,2107.3 976.8,2104.1 978.8,2101.0 980.7,2098.2 982.7,2095.5 984.7,2092.9 986.6,2090.7 988.4,2088.5 990.3,2086.5 992.1,2084.6 994.0,2082.7 995.8,2080.8 997.7,2079.0 999.5,2077.2 1001.3,2075.4 1003.1,2073.6 1005.0,2071.8 1006.8,2070.2 1008.6,2068.6 1010.4,2067.1 1012.1,2065.8 1013.9,2064.6 1015.6,2063.4 1017.4,2062.3 1019.1,2061.2 1020.8,2060.1 1022.6,2059.0 1024.3,2058.0 1026.3,2056.7 1028.3,2055.4 1030.2,2054.1 1032.2,2053.0 1034.2,2052.0 1036.2,2051.3 1038.7,2050.8 1041.1,2050.4 1043.1,2049.6 1045.2,2048.6 1047.2,2047.7 1049.2,2046.8 1051.2,2046.0 1053.3,2045.2 1055.3,2044.4 1057.3,2043.6 1059.3,2042.9 1061.4,2042.1 1063.4,2041.4 1065.4,2040.7 1067.4,2040.0 1069.5,2039.3 1071.5,2038.7 1073.5,2038.0 1075.6,2037.4 1077.6,2036.8 1079.6,2036.2 1081.6,2035.6 1083.7,2035.1 1085.7,2034.5 1087.7,2034.0 1089.7,2033.4 1091.8,2032.9 1093.8,2032.4 1095.8,2031.9 1097.8,2031.4 1099.9,2030.9 1101.9,2030.5 1103.9,2030.0 1106.0,2029.5 1108.0,2029.1 1110.0,2028.6 1112.0,2028.2 1114.1,2027.7 1116.1,2027.3 1118.1,2026.9 1120.1,2026.5 1122.2,2026.0 1124.2,2025.6 1126.2,2025.2 1128.2,2024.8 1130.3,2024.4 1132.3,2024.0 1134.3,2023.6 1136.4,2023.2 1138.4,2022.8 1140.4,2022.5 1142.4,2022.1 1144.5,2021.7 1146.5,2021.3 1148.5,2021.0 1150.5,2020.6 1152.6,2020.2 1154.6,2019.9 1156.6,2019.5 1158.6,2019.2 1160.7,2018.8 1162.7,2018.5 1164.7,2018.1 1166.8,2017.8 1168.8,2017.4 1170.8,2017.1 1172.8,2016.7 1174.9,2016.4 1176.9,2016.0 1178.9,2015.7 1180.9,2015.4 1183.0,2015.0 1185.0,2014.7 1187.0,2014.4 1189.0,2014.0 1191.1,2013.7 1193.1,2013.3 1195.1,2013.0 1197.2,2012.7 1199.2,2012.3 1201.2,2012.0 1203.2,2011.7 1205.3,2011.3 1207.3,2011.0 1209.3,2010.7 1211.3,2010.3 1213.4,2010.0 1215.4,2009.6 1217.4,2009.3 1219.4,2009.0 1221.5,2008.6 1223.5,2008.3 1225.5,2007.9 1227.6,2007.6 1229.6,2007.2 1231.6,2006.9 1233.6,2006.5 1235.7,2006.2 1237.7,2005.8 1239.7,2005.4 1241.7,2005.1 1243.8,2004.7 1245.8,2004.3 1247.8,2003.9 1249.8,2003.6 1251.9,2003.2 1253.9,2002.8 1255.9,2002.4 1258.0,2002.0 1260.0,2001.6 1262.0,2001.2 1264.0,2000.8 1266.1,2000.4 1268.1,2000.0 1270.1,1999.6 1272.1,1999.2 1274.2,1998.7 1276.2,1998.3 1278.2,1997.9 1280.2,1997.4 1282.3,1997.0 1284.3,1996.6 1286.3,1996.1 1288.4,1995.7 1290.4,1995.2 1292.4,1994.8 1294.4,1994.3 1296.5,1993.8 1298.5,1993.4 1300.5,1992.9 1302.5,1992.4 1304.6,1992.0 1306.6,1991.5 1308.6,1991.0 1310.6,1990.5 1312.7,1990.0 1314.7,1989.5 1316.7,1989.0 1318.8,1988.5 1320.8,1988.0 1322.8,1987.5 1324.8,1987.0 1326.9,1986.5 1328.9,1986.0 1330.9,1985.5 1332.9,1985.0 1335.0,1984.5 1337.0,1983.9 1339.0,1983.4 1341.0,1982.9 1343.1,1982.4 1345.1,1981.8 1347.1,1981.3 1349.2,1980.8 1351.2,1980.2 1353.2,1979.7 1355.2,1979.1 1357.3,1978.6 1359.3,1978.0 1361.3,1977.5 1363.3,1976.9 1365.4,1976.4 1367.4,1975.8 1369.4,1975.3 1371.4,1974.7 1373.5,1974.1 1375.5,1973.6 1377.5,1973.0 1379.6,1972.4 1381.6,1971.9 1383.6,1971.3 1385.6,1970.7 1387.7,1970.2 1389.7,1969.6 1391.7,1969.0 1393.7,1968.4 1395.8,1967.8 1397.8,1967.2 1399.8,1966.7 1401.8,1966.1 1403.9,1965.5 1405.9,1964.9 1407.9,1964.3 1410.0,1963.7 1412.0,1963.1 1414.0,1962.5 1416.0,1961.9 1418.1,1961.3 1420.1,1960.7 1422.1,1960.1 1424.1,1959.5 1426.2,1958.9 1428.2,1958.3 1430.2,1957.7 1432.2,1957.1 1434.3,1956.5 1436.3,1955.9 1438.3,1955.3 1440.4,1954.7 1442.4,1954.0 1444.4,1953.4 1446.4,1952.8 1448.5,1952.2 1450.5,1951.6 1452.5,1951.0 1454.5,1950.4 1456.6,1949.7 1458.6,1949.1 1460.6,1948.5 1462.6,1947.9 1464.7,1947.3 1466.7,1946.6 1468.7,1946.0 1470.8,1945.4 1472.8,1944.8 1474.8,1944.2 1476.8,1943.5 1478.9,1942.9 1480.9,1942.3 1482.9,1941.7 1484.9,1941.0 1487.0,1940.4 1489.0,1939.8 1491.0,1939.2 1493.0,1938.6 1495.1,1937.9 1497.1,1937.3 1499.1,1936.7 1501.2,1936.1 1503.2,1935.4 1505.2,1934.8 1507.2,1934.2 1509.3,1933.6 1511.3,1933.0 1513.3,1932.3 1515.3,1931.7 1517.4,1931.1 1519.4,1930.5 1521.4,1929.9 1523.4,1929.2 1525.5,1928.6 1527.5,1928.0 1529.5,1927.4 1531.6,1926.8 1533.6,1926.2 1535.6,1925.5 1537.6,1924.9 1539.7,1924.3 1541.7,1923.7 1543.7,1923.1 1545.7,1922.5 1547.8,1921.9 1549.8,1921.3 1551.8,1920.6 1554.1,1920.0 1556.4,1919.3" fill="none" stroke="#0a5ad2" stroke-width="2.5" stroke-linejoin="round"/>
<path d="M961.1,2132.0V2140.0M956.4,2132.0h9.4M956.4,2140.0h9.4M973.5,2105.5V2113.5M968.8,2105.5h9.4M968.8,2113.5h9.4M985.9,2087.4V2095.5M981.2,2087.4h9.4M981.2,2095.5h9.4M998.3,2074.3V2082.5M993.6,2074.3h9.4M993.6,2082.5h9.4M1010.7,2062.8V2070.9M1006.0,2062.8h9.4M1006.0,2070.9h9.4M1023.1,2054.6V2062.8M1018.4,2054.6h9.4M1018.4,2062.8h9.4M1035.5,2047.4V2055.6M1030.8,2047.4h9.4M1030.8,2055.6h9.4M1047.9,2043.2V2051.5M1043.2,2043.2h9.4M1043.2,2051.5h9.4M1060.3,2038.3V2046.6M1055.6,2038.3h9.4M1055.6,2046.6h9.4M1072.7,2034.1V2042.5M1068.0,2034.1h9.4M1068.0,2042.5h9.4M1085.1,2030.5V2038.9M1080.4,2030.5h9.4M1080.4,2038.9h9.4M1097.5,2027.3V2035.7M1092.8,2027.3h9.4M1092.8,2035.7h9.4M1110.0,2024.4V2032.9M1105.3,2024.4h9.4M1105.3,2032.9h9.4M1122.4,2021.8V2030.2M1117.7,2021.8h9.4M1117.7,2030.2h9.4M1134.8,2019.3V2027.8M1130.1,2019.3h9.4M1130.1,2027.8h9.4M1147.2,2016.9V2025.5M1142.5,2016.9h9.4M1142.5,2025.5h9.4M1159.6,2014.7V2023.3M1154.9,2014.7h9.4M1154.9,2023.3h9.4M1172.0,2012.6V2021.2M1167.3,2012.6h9.4M1167.3,2021.2h9.4M1184.4,2010.5V2019.1M1179.7,2010.5h9.4M1179.7,2019.1h9.4M1196.8,2008.4V2017.1M1192.1,2008.4h9.4M1192.1,2017.1h9.4M1209.2,2006.3V2015.0M1204.5,2006.3h9.4M1204.5,2015.0h9.4M1221.6,2004.2V2013.0M1216.9,2004.2h9.4M1216.9,2013.0h9.4M1234.0,2002.0V2010.8M1229.3,2002.0h9.4M1229.3,2010.8h9.4M1246.4,1999.8V2008.6M1241.7,1999.8h9.4M1241.7,2008.6h9.4M1258.8,1997.4V2006.3M1254.1,1997.4h9.4M1254.1,2006.3h9.4M1271.2,1994.9V2003.8M1266.5,1994.9h9.4M1266.5,2003.8h9.4M1283.6,1992.2V2001.2M1278.9,1992.2h9.4M1278.9,2001.2h9.4M1296.0,1989.4V1998.4M1291.3,1989.4h9.4M1291.3,1998.4h9.4M1308.4,1986.5V1995.6M1303.7,1986.5h9.4M1303.7,1995.6h9.4M1320.9,1983.4V1992.7M1316.2,1983.4h9.4M1316.2,1992.7h9.4M1333.3,1980.1V1989.7M1328.6,1980.1h9.4M1328.6,1989.7h9.4M1345.7,1976.8V1986.5M1341.0,1976.8h9.4M1341.0,1986.5h9.4M1358.1,1973.4V1983.3M1353.4,1973.4h9.4M1353.4,1983.3h9.4M1370.5,1969.9V1980.0M1365.8,1969.9h9.4M1365.8,1980.0h9.4M1382.9,1966.4V1976.7M1378.2,1966.4h9.4M1378.2,1976.7h9.4M1395.3,1962.7V1973.2M1390.6,1962.7h9.4M1390.6,1973.2h9.4M1407.7,1959.0V1969.7M1403.0,1959.0h9.4M1403.0,1969.7h9.4M1420.1,1955.3V1966.2M1415.4,1955.3h9.4M1415.4,1966.2h9.4M1432.5,1951.5V1962.5M1427.8,1951.5h9.4M1427.8,1962.5h9.4M1444.9,1947.6V1958.9M1440.2,1947.6h9.4M1440.2,1958.9h9.4M1457.3,1943.8V1955.2M1452.6,1943.8h9.4M1452.6,1955.2h9.4M1469.7,1939.9V1951.5M1465.0,1939.9h9.4M1465.0,1951.5h9.4M1482.1,1936.0V1947.8M1477.4,1936.0h9.4M1477.4,1947.8h9.4M1494.5,1932.1V1944.1M1489.8,1932.1h9.4M1489.8,1944.1h9.4M1506.9,1928.2V1940.4M1502.2,1928.2h9.4M1502.2,1940.4h9.4M1519.3,1924.3V1936.7M1514.6,1924.3h9.4M1514.6,1936.7h9.4M1531.7,1920.4V1933.0M1527.0,1920.4h9.4M1527.0,1933.0h9.4M1544.2,1916.5V1929.4M1539.5,1916.5h9.4M1539.5,1929.4h9.4M1556.6,1912.8V1925.8M1551.9,1912.8h9.4M1551.9,1925.8h9.4" fill="none" stroke="#0a5ad2" stroke-width="1.5"/>
<path d="M949.7,2173.0 951.6,2160.3 953.4,2147.1 955.3,2134.0 957.2,2121.2 959.0,2109.4 960.9,2098.8 962.9,2088.7 964.9,2079.3 966.8,2070.4 968.8,2062.1 970.8,2054.5 972.8,2047.3 974.8,2040.6 976.8,2034.2 978.8,2028.2 980.7,2022.7 982.7,2017.5 984.7,2012.8 986.6,2008.8 988.4,2005.1 990.3,2001.6 992.1,1998.3 994.0,1995.1 995.8,1992.1 997.7,1989.0 999.5,1986.0 1001.3,1983.1 1003.1,1980.3 1005.0,1977.5 1006.8,1974.8 1008.6,1972.3 1010.4,1970.0 1012.1,1967.9 1013.9,1965.9 1015.6,1964.0 1017.4,1962.1 1019.1,1960.3 1020.8,1958.6 1022.6,1956.9 1024.3,1955.3 1026.3,1953.4 1028.3,1951.6 1030.2,1949.8 1032.2,1948.2 1034.2,1946.7 1036.2,1945.4 1038.7,1944.3 1041.1,1943.1 1043.1,1941.8 1045.2,1940.3 1047.2,1938.9 1049.2,1937.5 1051.2,1936.2 1053.3,1934.9 1055.3,1933.7 1057.3,1932.5 1059.3,1931.3 1061.4,1930.2 1063.4,1929.1 1065.4,1928.0 1067.4,1926.9 1069.5,1925.9 1071.5,1924.9 1073.5,1924.0 1075.6,1923.0 1077.6,1922.1 1079.6,1921.2 1081.6,1920.3 1083.7,1919.5 1085.7,1918.6 1087.7,1917.8 1089.7,1917.0 1091.8,1916.2 1093.8,1915.4 1095.8,1914.7 1097.8,1913.9 1099.9,1913.2 1101.9,1912.4 1103.9,1911.7 1106.0,1911.0 1108.0,1910.3 1110.0,1909.6 1112.0,1909.0 1114.1,1908.3 1116.1,1907.6 1118.1,1907.0 1120.1,1906.4 1122.2,1905.7 1124.2,1905.1 1126.2,1904.5 1128.2,1903.9 1130.3,1903.3 1132.3,1902.7 1134.3,1902.1 1136.4,1901.5 1138.4,1901.0 1140.4,1900.4 1142.4,1899.8 1144.5,1899.3 1146.5,1898.7 1148.5,1898.2 1150.5,1897.7 1152.6,1897.1 1154.6,1896.6 1156.6,1896.1 1158.6,1895.6 1160.7,1895.0 1162.7,1894.5 1164.7,1894.0 1166.8,1893.5 1168.8,1893.0 1170.8,1892.5 1172.8,1892.0 1174.9,1891.5 1176.9,1891.1 1178.9,1890.6 1180.9,1890.1 1183.0,1889.6 1185.0,1889.1 1187.0,1888.6 1189.0,1888.1 1191.1,1887.7 1193.1,1887.2 1195.1,1886.7 1197.2,1886.2 1199.2,1885.7 1201.2,1885.3 1203.2,1884.8 1205.3,1884.3 1207.3,1883.8 1209.3,1883.3 1211.3,1882.8 1213.4,1882.3 1215.4,1881.8 1217.4,1881.3 1219.4,1880.8 1221.5,1880.3 1223.5,1879.8 1225.5,1879.3 1227.6,1878.8 1229.6,1878.3 1231.6,1877.8 1233.6,1877.3 1235.7,1876.8 1237.7,1876.3 1239.7,1875.7 1241.7,1875.2 1243.8,1874.7 1245.8,1874.2 1247.8,1873.6 1249.8,1873.1 1251.9,1872.6 1253.9,1872.1 1255.9,1871.5 1258.0,1871.0 1260.0,1870.4 1262.0,1869.9 1264.0,1869.4 1266.1,1868.8 1268.1,1868.3 1270.1,1867.7 1272.1,1867.2 1274.2,1866.6 1276.2,1866.1 1278.2,1865.5 1280.2,1864.9 1282.3,1864.4 1284.3,1863.8 1286.3,1863.2 1288.4,1862.7 1290.4,1862.1 1292.4,1861.5 1294.4,1860.9 1296.5,1860.4 1298.5,1859.8 1300.5,1859.2 1302.5,1858.6 1304.6,1858.0 1306.6,1857.4 1308.6,1856.8 1310.6,1856.2 1312.7,1855.6 1314.7,1855.0 1316.7,1854.4 1318.8,1853.8 1320.8,1853.2 1322.8,1852.6 1324.8,1852.0 1326.9,1851.4 1328.9,1850.7 1330.9,1850.1 1332.9,1849.5 1335.0,1848.9 1337.0,1848.2 1339.0,1847.6 1341.0,1847.0 1343.1,1846.3 1345.1,1845.7 1347.1,1845.1 1349.2,1844.4 1351.2,1843.8 1353.2,1843.1 1355.2,1842.5 1357.3,1841.8 1359.3,1841.1 1361.3,1840.5 1363.3,1839.8 1365.4,1839.2 1367.4,1838.5 1369.4,1837.8 1371.4,1837.1 1373.5,1836.5 1375.5,1835.8 1377.5,1835.1 1379.6,1834.4 1381.6,1833.7 1383.6,1833.0 1385.6,1832.3 1387.7,1831.6 1389.7,1830.9 1391.7,1830.2 1393.7,1829.5 1395.8,1828.8 1397.8,1828.1 1399.8,1827.4 1401.8,1826.7 1403.9,1826.0 1405.9,1825.2 1407.9,1824.5 1410.0,1823.8 1412.0,1823.1 1414.0,1822.3 1416.0,1821.6 1418.1,1820.8 1420.1,1820.1 1422.1,1819.3 1424.1,1818.6 1426.2,1817.8 1428.2,1817.1 1430.2,1816.3 1432.2,1815.6 1434.3,1814.8 1436.3,1814.0 1438.3,1813.3 1440.4,1812.5 1442.4,1811.7 1444.4,1810.9 1446.4,1810.1 1448.5,1809.4 1450.5,1808.6 1452.5,1807.8 1454.5,1807.0 1456.6,1806.2 1458.6,1805.4 1460.6,1804.6 1462.6,1803.8 1464.7,1802.9 1466.7,1802.1 1468.7,1801.3 1470.8,1800.5 1472.8,1799.7 1474.8,1798.8 1476.8,1798.0 1478.9,1797.2 1480.9,1796.3 1482.9,1795.5 1484.9,1794.6 1487.0,1793.8 1489.0,1792.9 1491.0,1792.1 1493.0,1791.2 1495.1,1790.3 1497.1,1789.5 1499.1,1788.6 1501.2,1787.7 1503.2,1786.9 1505.2,1786.0 1507.2,1785.1 1509.3,1784.2 1511.3,1783.3 1513.3,1782.4 1515.3,1781.5 1517.4,1780.6 1519.4,1779.7 1521.4,1778.8 1523.4,1777.9 1525.5,1777.0 1527.5,1776.1 1529.5,1775.1 1531.6,1774.2 1533.6,1773.3 1535.6,1772.3 1537.6,1771.4 1539.7,1770.5 1541.7,1769.5 1543.7,1768.6 1545.7,1767.6 1547.8,1766.7 1549.8,1765.7 1551.8,1764.7 1554.1,1763.6 1556.4,1762.5" fill="none" stroke="#e8383b" stroke-width="2.5" stroke-linejoin="round"/>
<path d="M961.1,2092.8V2102.9M956.4,2092.8h9.4M956.4,2102.9h9.4M973.5,2039.9V2050.0M968.8,2039.9h9.4M968.8,2050.0h9.4M985.9,2005.1V2015.3M981.2,2005.1h9.4M981.2,2015.3h9.4M998.3,1982.9V1993.1M993.6,1982.9h9.4M993.6,1993.1h9.4M1010.7,1964.5V1974.8M1006.0,1964.5h9.4M1006.0,1974.8h9.4M1023.1,1951.2V1961.6M1018.4,1951.2h9.4M1018.4,1961.6h9.4M1035.5,1940.6V1951.1M1030.8,1940.6h9.4M1030.8,1951.1h9.4M1047.9,1933.1V1943.6M1043.2,1933.1h9.4M1043.2,1943.6h9.4M1060.3,1925.5V1936.1M1055.6,1925.5h9.4M1055.6,1936.1h9.4M1072.7,1919.0V1929.7M1068.0,1919.0h9.4M1068.0,1929.7h9.4M1085.1,1913.5V1924.2M1080.4,1913.5h9.4M1080.4,1924.2h9.4M1097.5,1908.6V1919.4M1092.8,1908.6h9.4M1092.8,1919.4h9.4M1110.0,1904.2V1915.1M1105.3,1904.2h9.4M1105.3,1915.1h9.4M1122.4,1900.2V1911.1M1117.7,1900.2h9.4M1117.7,1911.1h9.4M1134.8,1896.5V1907.5M1130.1,1896.5h9.4M1130.1,1907.5h9.4M1147.2,1893.0V1904.1M1142.5,1893.0h9.4M1142.5,1904.1h9.4M1159.6,1889.7V1900.9M1154.9,1889.7h9.4M1154.9,1900.9h9.4M1172.0,1886.6V1897.9M1167.3,1886.6h9.4M1167.3,1897.9h9.4M1184.4,1883.6V1894.9M1179.7,1883.6h9.4M1179.7,1894.9h9.4M1196.8,1880.6V1892.0M1192.1,1880.6h9.4M1192.1,1892.0h9.4M1209.2,1877.6V1889.1M1204.5,1877.6h9.4M1204.5,1889.1h9.4M1221.6,1874.5V1886.1M1216.9,1874.5h9.4M1216.9,1886.1h9.4M1234.0,1871.4V1883.0M1229.3,1871.4h9.4M1229.3,1883.0h9.4M1246.4,1868.2V1879.9M1241.7,1868.2h9.4M1241.7,1879.9h9.4M1258.8,1864.9V1876.6M1254.1,1864.9h9.4M1254.1,1876.6h9.4M1271.2,1861.5V1873.3M1266.5,1861.5h9.4M1266.5,1873.3h9.4M1283.6,1858.0V1869.9M1278.9,1858.0h9.4M1278.9,1869.9h9.4M1296.0,1854.5V1866.5M1291.3,1854.5h9.4M1291.3,1866.5h9.4M1308.4,1850.8V1863.0M1303.7,1850.8h9.4M1303.7,1863.0h9.4M1320.9,1847.0V1859.4M1316.2,1847.0h9.4M1316.2,1859.4h9.4M1333.3,1843.1V1855.7M1328.6,1843.1h9.4M1328.6,1855.7h9.4M1345.7,1839.1V1852.0M1341.0,1839.1h9.4M1341.0,1852.0h9.4M1358.1,1835.0V1848.1M1353.4,1835.0h9.4M1353.4,1848.1h9.4M1370.5,1830.8V1844.2M1365.8,1830.8h9.4M1365.8,1844.2h9.4M1382.9,1826.5V1840.1M1378.2,1826.5h9.4M1378.2,1840.1h9.4M1395.3,1822.1V1835.9M1390.6,1822.1h9.4M1390.6,1835.9h9.4M1407.7,1817.5V1831.7M1403.0,1817.5h9.4M1403.0,1831.7h9.4M1420.1,1812.9V1827.3M1415.4,1812.9h9.4M1415.4,1827.3h9.4M1432.5,1808.2V1822.8M1427.8,1808.2h9.4M1427.8,1822.8h9.4M1444.9,1803.3V1818.1M1440.2,1803.3h9.4M1440.2,1818.1h9.4M1457.3,1798.3V1813.4M1452.6,1798.3h9.4M1452.6,1813.4h9.4M1469.7,1793.2V1808.6M1465.0,1793.2h9.4M1465.0,1808.6h9.4M1482.1,1788.0V1803.6M1477.4,1788.0h9.4M1477.4,1803.6h9.4M1494.5,1782.7V1798.5M1489.8,1782.7h9.4M1489.8,1798.5h9.4M1506.9,1777.2V1793.2M1502.2,1777.2h9.4M1502.2,1793.2h9.4M1519.3,1771.6V1787.9M1514.6,1771.6h9.4M1514.6,1787.9h9.4M1531.7,1765.9V1782.4M1527.0,1765.9h9.4M1527.0,1782.4h9.4M1544.2,1760.0V1776.7M1539.5,1760.0h9.4M1539.5,1776.7h9.4M1556.6,1754.0V1771.0M1551.9,1754.0h9.4M1551.9,1771.0h9.4" fill="none" stroke="#e8383b" stroke-width="1.5"/>
<path d="M136.1,477.0L745.4,477.0" fill="none" stroke="#e0101a" stroke-width="2.0" stroke-dasharray="8.090 6.573"/><path d="M745.4,477.0L745.4,554.4" fill="none" stroke="#e0101a" stroke-width="2.0" stroke-dasharray="7.692 6.250"/><path d="M745.4,554.4L136.1,554.4" fill="none" stroke="#e0101a" stroke-width="2.0" stroke-dasharray="8.090 6.573"/><path d="M136.1,554.4L136.1,477.0" fill="none" stroke="#e0101a" stroke-width="2.0" stroke-dasharray="7.692 6.250"/>
<path d="M816.6,2.5L1612.3,2.5" fill="none" stroke="#e0101a" stroke-width="2.0" stroke-dasharray="8.048 6.539"/><path d="M1612.3,2.5L1612.3,670.8" fill="none" stroke="#e0101a" stroke-width="2.0" stroke-dasharray="7.921 6.435"/><path d="M1612.3,670.8L816.6,670.8" fill="none" stroke="#e0101a" stroke-width="2.0" stroke-dasharray="8.048 6.539"/><path d="M816.6,670.8L816.6,2.5" fill="none" stroke="#e0101a" stroke-width="2.0" stroke-dasharray="7.921 6.435"/>
<line x1="746.2" y1="521.0" x2="812.83" y2="347.70" stroke="#f50a0a" stroke-width="1.7"/>
<polygon points="816.6,337.9 808.16,345.91 817.50,349.49" fill="#f50a0a"/>
<path d="M135.9,1287.1L745.9,1287.1" fill="none" stroke="#e0101a" stroke-width="2.0" stroke-dasharray="7.909 6.426"/><path d="M745.9,1287.1L745.9,1364.2" fill="none" stroke="#e0101a" stroke-width="2.0" stroke-dasharray="7.662 6.225"/><path d="M745.9,1364.2L135.9,1364.2" fill="none" stroke="#e0101a" stroke-width="2.0" stroke-dasharray="7.909 6.426"/><path d="M135.9,1364.2L135.9,1287.1" fill="none" stroke="#e0101a" stroke-width="2.0" stroke-dasharray="7.662 6.225"/>
<path d="M820.1,812.7L1612.2,812.7" fill="none" stroke="#e0101a" stroke-width="2.0" stroke-dasharray="8.011 6.509"/><path d="M1612.2,812.7L1612.2,1479.4" fill="none" stroke="#e0101a" stroke-width="2.0" stroke-dasharray="8.075 6.561"/><path d="M1612.2,1479.4L820.1,1479.4" fill="none" stroke="#e0101a" stroke-width="2.0" stroke-dasharray="8.011 6.509"/><path d="M820.1,1479.4L820.1,812.7" fill="none" stroke="#e0101a" stroke-width="2.0" stroke-dasharray="8.075 6.561"/>
<line x1="746.1" y1="1324.9" x2="815.83" y2="1158.98" stroke="#f50a0a" stroke-width="1.7"/>
<polygon points="819.9,1149.3 811.22,1157.04 820.44,1160.92" fill="#f50a0a"/>
<path d="M128.0,2113.4L737.7,2113.4" fill="none" stroke="#e0101a" stroke-width="2.0" stroke-dasharray="8.096 6.578"/><path d="M737.7,2113.4L737.7,2177.5" fill="none" stroke="#e0101a" stroke-width="2.0" stroke-dasharray="7.770 6.313"/><path d="M737.7,2177.5L128.0,2177.5" fill="none" stroke="#e0101a" stroke-width="2.0" stroke-dasharray="8.096 6.578"/><path d="M128.0,2177.5L128.0,2113.4" fill="none" stroke="#e0101a" stroke-width="2.0" stroke-dasharray="7.770 6.313"/>
<path d="M816.6,1622.6L1612.3,1622.6" fill="none" stroke="#e0101a" stroke-width="2.0" stroke-dasharray="8.048 6.539"/><path d="M1612.3,1622.6L1612.3,2302.0" fill="none" stroke="#e0101a" stroke-width="2.0" stroke-dasharray="8.052 6.542"/><path d="M1612.3,2302.0L816.6,2302.0" fill="none" stroke="#e0101a" stroke-width="2.0" stroke-dasharray="8.048 6.539"/><path d="M816.6,2302.0L816.6,1622.6" fill="none" stroke="#e0101a" stroke-width="2.0" stroke-dasharray="8.052 6.542"/>
<line x1="738.9" y1="2141.9" x2="812.38" y2="1974.71" stroke="#f50a0a" stroke-width="1.7"/>
<polygon points="816.6,1965.1 807.80,1972.70 816.95,1976.72" fill="#f50a0a"/>
<text transform="translate(794.10,725.70)" font-size="37">(a)</text>
<text transform="translate(793.20,1532.40)" font-size="37">(b)</text>
<text transform="translate(794.50,2352.00)" font-size="37">(c)</text></svg></body></html>
